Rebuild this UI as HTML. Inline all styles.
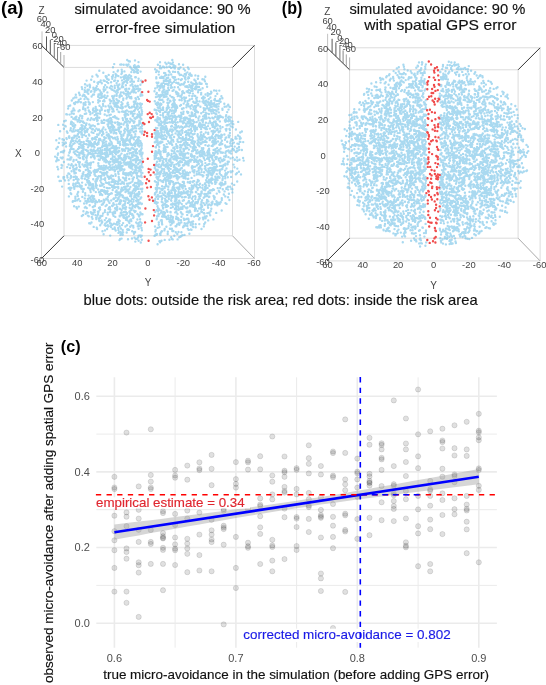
<!DOCTYPE html>
<html><head><meta charset="utf-8"><style>
html,body{margin:0;padding:0;background:#fff;}
svg{display:block;will-change:transform;}
text{font-family:"Liberation Sans",sans-serif;}
</style></head><body>
<svg width="546" height="685" viewBox="0 0 546 685" stroke-linecap="butt">
<rect width="546" height="685" fill="#fff"/>
<g stroke="#dcdcdc" stroke-width="1" fill="none">
<path d="M62.0 45.4H254.5V258.5H41.5V45.4"/>
<path d="M64 67.4H232.5V235.8H64Z"/>
</g>
<path d="M102.4 150.3h0M157.0 234.2h0M96.0 139.5h0M98.2 100.3h0M213.5 161.9h0M76.8 119.6h0M189.4 233.7h0M212.1 183.4h0M100.0 207.4h0M86.7 160.4h0M182.4 127.5h0M128.7 149.3h0M166.9 131.1h0M156.7 219.3h0M141.3 107.6h0M208.1 154.7h0M162.5 94.5h0M156.4 174.5h0M87.5 167.2h0M102.4 215.8h0M172.9 121.8h0M84.2 156.4h0M105.8 191.2h0M127.5 136.3h0M93.6 171.2h0M190.9 87.0h0M183.1 159.6h0M96.3 179.3h0M163.6 117.4h0M93.0 184.1h0M110.2 151.2h0M203.0 120.8h0M119.3 223.5h0M168.2 215.7h0M118.6 111.7h0M204.1 213.3h0M171.1 204.5h0M104.6 225.1h0M230.2 143.2h0M85.6 102.3h0M102.1 146.9h0M139.5 115.9h0M74.9 97.4h0M180.0 105.7h0M178.1 178.3h0M128.2 114.7h0M111.5 119.9h0M164.2 169.3h0M174.9 111.7h0M214.1 197.7h0M87.7 138.5h0M190.1 182.9h0M158.5 159.0h0M140.2 131.5h0M133.2 164.5h0M103.1 213.4h0M130.2 172.5h0M55.1 156.6h0M177.5 139.5h0M193.3 101.8h0M113.2 187.6h0M124.6 189.2h0M101.5 97.8h0M190.5 122.5h0M179.6 189.1h0M206.9 138.5h0M131.6 79.0h0M173.4 171.2h0M93.1 110.5h0M105.8 167.4h0M184.1 206.2h0M239.5 159.8h0M217.0 202.1h0M126.8 110.4h0M162.9 115.5h0M138.1 141.7h0M129.9 204.7h0M212.9 134.0h0M172.0 157.1h0M131.0 219.5h0M177.5 175.7h0M173.8 176.5h0M209.3 171.1h0M104.2 190.5h0M157.5 85.4h0M130.4 186.9h0M194.3 88.6h0M189.8 210.7h0M170.0 100.6h0M225.3 174.3h0M136.1 200.6h0M89.9 175.0h0M192.6 171.3h0M190.3 124.9h0M99.6 192.4h0M112.0 76.8h0M185.9 74.7h0M97.9 211.7h0M164.4 96.8h0M116.7 168.9h0M217.3 117.1h0M164.4 230.4h0M180.5 67.5h0M175.3 197.4h0M215.0 182.0h0M166.4 122.8h0M160.6 155.4h0M121.1 134.7h0M221.6 136.9h0M189.8 197.2h0M208.8 145.4h0M138.3 80.9h0M193.5 115.9h0M111.7 137.0h0M160.0 119.1h0M73.7 180.0h0M187.5 157.9h0M124.4 155.2h0M119.6 165.4h0M209.2 179.8h0M110.6 123.3h0M196.5 151.4h0M203.3 189.6h0M122.7 234.8h0M130.5 144.5h0M155.2 88.4h0M184.8 163.1h0M88.9 134.4h0M174.3 156.2h0M123.9 216.9h0M107.8 225.2h0M182.6 159.6h0M206.0 193.9h0M196.2 202.3h0M216.1 143.3h0M162.8 160.9h0M131.6 175.8h0M111.3 152.4h0M161.7 126.3h0M126.9 144.5h0M124.8 198.3h0M117.9 142.9h0M102.9 153.8h0M185.6 138.6h0M243.7 160.6h0M73.4 161.2h0M181.9 79.1h0M106.9 147.4h0M217.4 205.3h0M70.3 130.4h0M109.8 152.7h0M224.5 159.7h0M198.6 120.4h0M156.8 139.9h0M214.4 99.9h0M188.5 134.5h0M91.0 162.7h0M236.9 157.4h0M82.1 134.9h0M186.4 107.2h0M123.9 145.6h0M186.1 157.8h0M115.9 187.1h0M156.5 189.6h0M184.4 99.5h0M162.0 223.8h0M168.4 154.7h0M116.6 83.1h0M183.4 108.4h0M207.0 177.9h0M169.4 221.2h0M183.3 174.0h0M161.4 158.0h0M225.1 176.3h0M94.7 138.8h0M101.5 107.9h0M125.0 180.4h0M157.6 216.2h0M126.5 139.8h0M168.4 107.7h0M126.1 162.9h0M141.4 204.0h0M134.3 233.1h0M169.3 66.8h0M207.9 102.0h0M122.0 86.7h0M125.5 112.3h0M137.8 188.9h0M126.8 214.3h0M190.4 75.5h0M141.7 145.8h0M201.2 193.4h0M137.8 159.1h0M181.0 207.5h0M174.6 195.8h0M180.1 121.4h0M87.2 167.3h0M192.0 189.1h0M178.4 158.1h0M202.4 79.2h0M127.5 162.5h0M106.8 135.2h0M155.7 141.5h0M133.4 88.4h0M127.9 94.6h0M122.4 85.3h0M214.9 204.2h0M193.2 120.2h0M102.4 122.7h0M101.9 93.8h0M156.3 94.2h0M220.1 165.9h0M128.4 93.7h0M196.1 129.0h0M166.5 81.1h0M121.8 215.2h0M189.0 122.4h0M142.1 111.6h0M166.8 173.0h0M174.6 103.2h0M188.8 211.5h0M92.2 201.0h0M175.5 183.6h0M200.4 136.3h0M160.5 142.5h0M94.6 212.2h0M183.1 64.8h0M138.0 237.5h0M90.0 153.0h0M177.0 131.2h0M227.3 146.9h0M166.0 116.7h0M166.1 217.5h0M163.5 78.2h0M124.0 160.8h0M164.9 148.4h0M215.3 141.0h0M163.2 173.6h0M103.8 96.5h0M113.9 198.4h0M61.5 167.9h0M165.6 79.8h0M178.4 93.6h0M135.0 146.3h0M180.5 236.7h0M188.7 121.6h0M133.9 189.3h0M158.7 151.4h0M183.5 165.5h0M139.6 145.8h0M182.6 155.8h0M207.4 171.5h0M141.0 225.3h0M138.4 188.9h0M186.5 175.0h0M137.1 178.0h0M118.2 168.1h0M187.4 91.3h0M109.7 136.2h0M171.5 175.7h0M129.0 96.4h0M124.4 161.4h0M165.1 111.9h0M70.2 149.7h0M97.7 76.1h0M94.0 94.5h0M158.8 104.2h0M159.7 142.2h0M175.8 200.6h0M108.3 121.8h0M138.1 206.7h0M95.6 110.8h0M101.7 93.5h0M140.4 221.9h0M171.1 220.1h0M135.0 102.9h0M140.8 123.2h0M189.4 85.0h0M170.5 101.2h0M135.4 160.6h0M121.6 238.6h0M173.3 182.5h0M116.1 132.9h0M97.2 115.6h0M157.1 138.4h0M164.5 146.5h0M121.6 138.6h0M93.4 87.6h0M63.1 124.8h0M176.5 93.8h0M163.4 215.1h0M123.7 162.4h0M223.6 165.0h0M88.1 118.6h0M212.9 104.4h0M174.6 65.9h0M178.5 163.6h0M169.8 184.3h0M120.8 131.7h0M161.9 221.9h0M100.0 194.8h0M162.5 188.9h0M205.4 163.1h0M56.2 161.2h0M195.3 88.0h0M137.2 186.7h0M121.8 87.2h0M65.0 180.4h0M112.5 161.5h0M141.1 161.1h0M171.2 237.2h0M204.0 110.1h0M126.2 180.4h0M171.6 139.8h0M191.5 75.1h0M138.3 91.1h0M239.8 141.7h0M167.8 90.8h0M142.5 152.6h0M156.9 137.4h0M195.1 147.0h0M125.2 117.5h0M56.4 148.8h0M195.0 114.0h0M113.4 199.0h0M156.4 158.0h0M175.0 193.5h0M166.7 144.1h0M128.9 158.1h0M99.7 94.5h0M119.4 125.0h0M179.8 134.0h0M216.6 111.2h0M129.5 188.7h0M170.3 129.4h0M109.7 138.7h0M197.5 84.0h0M157.1 177.2h0M205.1 189.4h0M98.5 150.6h0M161.5 83.7h0M66.1 146.5h0M178.1 182.8h0M124.6 122.6h0M132.2 126.3h0M171.4 164.0h0M135.8 205.2h0M217.7 188.1h0M226.5 203.9h0M62.7 142.6h0M214.2 103.1h0M78.5 111.2h0M240.7 138.2h0M168.7 75.0h0M182.3 235.2h0M157.7 134.2h0M137.2 69.4h0M178.5 73.2h0M170.3 165.1h0M128.5 64.4h0M106.5 174.0h0M239.0 147.0h0M105.0 89.6h0M140.6 167.3h0M180.9 134.9h0M167.6 146.9h0M157.0 114.0h0M138.7 194.6h0M156.3 202.2h0M161.6 77.9h0M169.2 177.2h0M230.7 141.3h0M154.8 168.0h0M185.4 163.1h0M79.4 165.9h0M175.2 212.4h0M215.7 123.8h0M219.3 117.5h0M113.3 203.5h0M200.3 143.1h0M222.8 189.2h0M163.4 90.3h0M176.4 169.1h0M136.4 161.3h0M171.3 177.4h0M105.5 169.2h0M82.9 191.7h0M140.4 198.5h0M170.2 122.4h0M112.4 158.3h0M173.5 222.4h0M212.3 117.7h0M216.8 174.1h0M94.9 206.0h0M113.0 98.2h0M156.8 93.0h0M104.1 122.7h0M140.0 114.2h0M226.6 174.5h0M103.1 159.3h0M154.8 157.5h0M88.0 147.3h0M129.4 223.1h0M132.1 130.3h0M162.4 92.7h0M65.8 120.6h0M164.8 216.7h0M161.8 128.0h0M74.0 186.5h0M225.5 175.0h0M233.9 142.6h0M223.2 184.6h0M166.2 201.7h0M190.3 194.6h0M173.0 182.0h0M194.9 88.9h0M175.2 203.6h0M207.9 145.9h0M212.7 163.0h0M119.7 216.4h0M58.1 153.5h0M172.0 87.4h0M169.2 191.8h0M196.8 87.3h0M213.1 152.9h0M196.5 110.7h0M188.7 221.2h0M108.3 124.5h0M158.5 180.5h0M195.2 96.0h0M209.7 140.1h0M135.2 190.7h0M136.9 107.1h0M171.3 229.0h0M201.2 113.2h0M80.1 132.3h0M138.4 168.1h0M228.8 161.8h0M106.9 192.8h0M229.3 106.6h0M73.8 131.4h0M192.3 115.8h0M226.5 188.0h0M165.3 200.7h0M138.9 186.4h0M134.5 195.8h0M201.6 169.3h0M120.1 133.2h0M170.6 212.4h0M162.5 193.4h0M132.3 84.4h0M225.3 182.0h0M176.3 171.1h0M128.7 130.8h0M174.6 107.5h0M129.6 153.6h0M181.2 118.3h0M176.0 203.8h0M189.1 74.5h0M182.0 108.6h0M80.6 98.8h0M97.6 215.5h0M78.0 183.1h0M110.0 154.1h0M95.5 137.2h0M180.9 212.3h0M213.5 118.4h0M161.9 84.9h0M206.1 188.6h0M185.0 126.7h0M118.4 119.0h0M119.2 167.9h0M214.9 98.9h0M197.6 202.8h0M215.5 136.7h0M94.7 115.1h0M101.6 179.2h0M79.1 119.7h0M163.4 150.7h0M109.0 207.8h0M82.1 129.9h0M74.5 173.4h0M121.3 138.8h0M138.3 88.5h0M196.0 208.7h0M93.7 206.4h0M126.2 139.1h0M178.5 204.2h0M67.5 177.6h0M95.3 203.7h0M103.3 72.8h0M197.9 187.9h0M202.6 185.3h0M155.0 193.2h0M133.0 173.3h0M129.2 135.0h0M71.2 142.1h0M216.3 182.3h0M167.4 211.8h0M81.8 176.2h0M192.0 151.3h0M95.4 88.6h0M84.8 178.7h0M127.7 105.4h0M125.3 201.8h0M171.5 110.9h0M217.2 148.0h0M103.3 203.2h0M134.5 126.0h0M162.2 190.0h0M126.9 186.4h0M72.0 122.3h0M208.2 220.4h0M78.0 192.4h0M90.6 201.2h0M95.0 130.9h0M92.6 185.7h0M197.1 165.2h0M161.9 138.6h0M163.5 162.5h0M195.2 126.2h0M161.0 130.7h0M180.2 144.9h0M83.5 94.7h0M107.5 96.0h0M97.0 136.9h0M92.6 188.7h0M198.4 118.2h0M73.8 152.2h0M135.1 232.0h0M136.9 238.7h0M178.3 94.4h0M101.7 152.0h0M118.3 188.3h0M211.3 208.7h0M156.9 134.1h0M157.5 206.3h0M121.6 214.3h0M112.2 89.5h0M105.2 223.6h0M127.3 114.4h0M101.1 154.6h0M190.4 191.7h0M79.2 137.2h0M139.2 112.0h0M215.7 151.1h0M203.7 103.1h0M96.2 217.8h0M225.9 119.1h0M77.0 208.5h0M92.8 207.0h0M204.9 190.1h0M136.0 68.7h0M101.7 130.8h0M116.0 154.3h0M194.4 122.2h0M116.5 99.3h0M181.2 184.9h0M188.3 173.1h0M164.4 67.5h0M188.5 162.2h0M195.7 227.3h0M135.4 68.5h0M215.3 157.3h0M188.5 92.5h0M99.3 156.3h0M160.2 87.9h0M117.2 194.9h0M221.3 134.7h0M112.2 129.5h0M190.0 136.8h0M110.2 219.7h0M160.2 191.6h0M129.0 216.2h0M104.9 150.0h0M120.9 77.4h0M181.5 79.4h0M127.7 136.3h0M127.4 127.3h0M164.8 96.8h0M111.1 82.2h0M136.5 183.1h0M136.8 125.4h0M172.6 110.5h0M183.8 225.7h0M210.2 215.2h0M188.8 212.5h0M126.1 207.3h0M168.9 107.4h0M82.3 196.9h0M181.6 186.8h0M180.0 185.6h0M201.1 154.7h0M139.8 121.7h0M162.2 136.1h0M211.6 145.9h0M101.5 176.0h0M140.0 154.3h0M166.7 119.3h0M196.2 112.1h0M138.5 125.5h0M112.6 179.9h0M196.3 159.6h0M183.7 139.1h0M77.6 182.0h0M137.7 86.0h0M173.5 184.0h0M96.8 86.2h0M183.4 227.0h0M116.8 207.7h0M128.8 183.5h0M183.8 181.9h0M121.3 136.6h0M179.8 84.7h0M171.6 181.2h0M178.5 232.0h0M225.2 178.2h0M200.2 89.8h0M91.0 125.8h0M125.6 209.2h0M72.9 201.1h0M109.8 145.4h0M176.2 82.7h0M196.3 192.2h0M194.3 141.6h0M221.6 169.3h0M176.6 126.8h0M127.0 114.0h0M179.6 127.5h0M167.5 114.3h0M187.3 223.2h0M214.4 142.7h0M80.5 128.3h0M158.1 208.1h0M121.2 189.5h0M212.9 137.7h0M134.2 104.5h0M162.6 91.5h0M132.2 145.0h0M109.8 144.3h0M211.8 204.4h0M217.8 125.4h0M200.4 89.7h0M134.7 65.3h0M195.1 207.8h0M191.7 126.6h0M129.8 139.5h0M79.0 147.0h0M186.1 137.4h0M169.2 112.3h0M177.4 146.3h0M86.1 136.1h0M105.2 173.3h0M102.0 156.9h0M222.9 117.4h0M83.2 150.1h0M130.9 111.8h0M124.6 212.0h0M126.0 140.7h0M95.5 202.1h0M205.0 183.5h0M73.5 129.2h0M167.6 194.3h0M226.5 129.0h0M160.5 173.4h0M164.9 178.3h0M129.0 134.9h0M215.8 142.0h0M136.9 140.0h0M169.8 143.1h0M218.1 119.5h0M202.6 88.2h0M158.5 132.6h0M220.6 148.6h0M113.6 111.2h0M133.8 101.8h0M210.0 137.7h0M71.1 122.8h0M134.2 184.5h0M157.5 227.9h0M201.4 209.4h0M212.6 173.4h0M177.4 218.8h0M137.6 117.3h0M101.0 193.8h0M191.5 229.8h0M165.7 94.4h0M90.7 144.0h0M170.9 220.4h0M122.5 103.8h0M142.2 82.5h0M100.2 113.7h0M127.4 77.2h0M140.4 181.3h0M94.2 119.7h0M167.8 231.7h0M230.8 145.6h0M76.4 116.8h0M91.2 79.7h0M133.9 81.8h0M70.7 130.1h0M128.9 173.6h0M168.6 195.1h0M91.8 146.1h0M114.3 162.0h0M154.5 155.7h0M195.0 131.0h0M103.2 133.6h0M228.1 172.1h0M131.9 198.9h0M89.6 84.6h0M134.0 232.3h0M156.2 192.3h0M188.7 229.9h0M125.7 106.4h0M134.5 101.4h0M181.7 130.2h0M131.7 152.9h0M205.5 94.5h0M133.3 185.3h0M187.3 147.7h0M137.9 72.9h0M185.3 139.1h0M169.6 159.6h0M79.0 183.4h0M211.2 170.5h0M101.8 204.7h0M173.6 221.4h0M209.5 163.9h0M200.2 83.9h0M123.8 160.2h0M166.1 83.9h0M166.6 205.0h0M96.2 171.9h0M136.4 201.3h0M158.5 153.1h0M175.3 167.5h0M117.4 224.7h0M95.4 181.2h0M100.2 225.3h0M132.9 128.4h0M236.7 151.2h0M108.6 122.8h0M188.1 195.0h0M105.0 210.2h0M107.1 229.0h0M203.1 149.3h0M92.2 153.8h0M113.9 100.7h0M134.5 159.5h0M231.2 153.6h0M157.7 96.6h0M195.9 192.0h0M168.8 198.9h0M73.8 176.9h0M109.8 207.1h0M205.5 103.3h0M195.0 149.8h0M60.1 131.2h0M142.3 95.3h0M98.0 83.7h0M182.9 172.1h0M139.8 184.1h0M113.5 99.7h0M206.2 185.5h0M114.5 95.8h0M130.0 153.1h0M126.9 217.3h0M87.8 150.7h0M110.6 152.8h0M181.0 220.3h0M169.3 118.6h0M126.8 65.0h0M88.2 187.7h0M119.5 240.1h0M239.3 149.7h0M79.0 137.0h0M160.7 128.1h0M182.0 208.5h0M100.1 148.2h0M170.0 178.3h0M141.2 145.0h0M131.1 76.3h0M97.6 76.6h0M205.7 114.6h0M80.2 115.8h0M91.2 144.5h0M101.8 83.2h0M166.1 139.0h0M62.2 158.4h0M135.2 150.6h0M109.5 202.9h0M215.3 183.9h0M96.8 180.7h0M174.5 190.8h0M135.0 103.2h0M168.3 218.2h0M71.6 116.9h0M136.3 170.3h0M119.4 112.1h0M131.5 137.7h0M185.5 119.2h0M222.6 127.1h0M124.8 115.5h0M141.5 165.2h0M179.6 153.7h0M225.1 170.6h0M193.4 187.6h0M161.5 76.8h0M202.5 101.6h0M87.9 198.9h0M97.8 178.1h0M138.6 183.6h0M207.4 177.2h0M157.6 177.3h0M81.8 151.2h0M86.6 203.2h0M177.3 157.6h0M87.5 165.1h0M218.5 158.8h0M225.6 174.0h0M156.2 165.5h0M137.6 199.8h0M203.6 157.4h0M111.7 107.6h0M219.5 192.1h0M164.0 139.1h0M156.8 70.5h0M102.1 185.6h0M118.4 230.0h0M131.3 72.1h0M239.8 138.8h0M162.6 202.4h0M63.9 140.0h0M209.9 118.4h0M172.5 97.2h0M128.0 202.9h0M106.9 87.2h0M171.7 164.6h0M100.2 151.1h0M115.7 191.8h0M96.5 74.8h0M101.7 153.9h0M127.0 138.2h0M139.3 146.6h0M194.6 205.4h0M71.3 121.8h0M176.7 177.9h0M103.6 184.3h0M141.8 133.1h0M87.3 92.4h0M158.2 134.8h0M165.3 62.6h0M109.8 148.9h0M194.9 203.8h0M126.8 189.5h0M209.1 204.5h0M110.0 223.2h0M98.4 156.0h0M228.6 135.5h0M162.7 163.0h0M173.8 98.0h0M87.4 164.0h0M110.5 225.9h0M200.4 156.3h0M218.0 177.6h0M178.7 172.0h0M86.8 162.6h0M183.6 150.9h0M112.2 86.6h0M154.9 194.5h0M198.3 137.8h0M120.9 191.5h0M182.8 181.9h0M74.5 127.2h0M130.2 139.4h0M84.5 99.1h0M90.3 127.8h0M118.4 173.5h0M208.6 173.1h0M134.3 193.2h0M217.6 124.9h0M208.7 152.2h0M180.6 138.2h0M204.0 158.3h0M98.9 159.8h0M159.8 196.5h0M157.7 169.9h0M137.6 176.1h0M139.1 185.1h0M197.8 179.9h0M208.7 182.9h0M207.3 152.2h0M161.7 201.8h0M140.0 128.6h0M192.4 143.6h0M115.0 229.3h0M166.0 186.0h0M125.2 76.9h0M134.8 136.8h0M96.3 90.1h0M172.2 145.0h0M130.2 220.5h0M90.2 185.2h0M233.3 124.3h0M156.6 210.2h0M99.0 129.5h0M203.3 96.8h0M164.3 171.6h0M172.8 207.0h0M169.0 90.0h0M190.4 222.5h0M156.6 133.1h0M84.2 143.9h0M208.8 197.1h0M121.8 189.0h0M214.4 199.1h0M176.5 212.3h0M103.7 157.7h0M174.0 101.4h0M206.5 181.8h0M170.5 172.6h0M220.8 185.1h0M173.4 159.0h0M228.5 121.2h0M91.2 213.0h0M171.0 87.8h0M188.3 132.7h0M204.9 186.8h0M118.4 76.1h0M114.1 169.8h0M176.9 168.6h0M109.7 152.1h0M179.2 187.2h0M72.0 139.2h0M180.8 209.1h0M159.7 123.9h0M116.2 139.4h0M141.1 80.6h0M69.2 137.7h0M85.8 165.5h0M177.5 214.0h0M56.3 140.2h0M154.9 181.3h0M85.8 97.0h0M160.0 233.8h0M196.7 100.3h0M184.5 170.4h0M137.6 195.5h0M198.3 163.1h0M124.4 78.4h0M136.6 143.0h0M69.3 152.7h0M182.2 138.8h0M118.7 192.4h0M195.9 107.5h0M212.6 126.9h0M199.5 101.4h0M173.8 100.3h0M193.4 83.9h0M114.5 130.6h0M109.4 109.5h0M167.6 168.6h0M118.4 156.0h0M96.2 113.9h0M226.6 106.5h0M172.8 220.7h0M110.5 151.4h0M75.2 125.3h0M181.6 194.3h0M190.6 161.5h0M164.7 188.1h0M205.6 129.0h0M88.9 172.7h0M166.9 147.1h0M102.2 222.0h0M97.7 120.3h0M120.2 201.5h0M158.0 198.9h0M163.8 152.0h0M185.6 161.1h0M207.7 95.7h0M168.8 167.7h0M106.7 222.2h0M120.1 144.9h0M133.7 190.0h0M129.7 107.7h0M132.3 215.3h0M186.3 125.1h0M183.5 156.8h0M124.1 183.8h0M142.0 191.5h0M136.0 189.8h0M69.6 114.6h0M85.0 164.9h0M167.7 166.8h0M162.4 128.3h0M156.4 113.0h0M71.8 148.8h0M129.4 211.6h0M128.8 93.2h0M121.5 167.8h0M195.0 127.6h0M108.6 201.2h0M96.8 185.4h0M62.3 151.8h0M90.1 175.3h0M117.3 85.3h0M185.1 176.0h0M228.9 193.7h0M172.4 134.5h0M197.0 97.6h0M187.2 211.4h0M138.9 66.8h0M205.2 188.0h0M158.4 215.9h0M155.2 153.1h0M188.0 191.1h0M117.4 193.1h0M100.3 180.6h0M197.4 203.2h0M122.6 83.3h0M99.3 70.8h0M165.5 146.9h0M166.7 78.0h0M217.5 151.9h0M197.5 181.9h0M195.0 110.5h0M110.3 153.0h0M176.1 127.1h0M102.0 135.0h0M137.2 193.8h0M194.5 141.5h0M217.8 150.9h0M172.5 195.7h0M188.9 139.1h0M104.0 87.1h0M142.4 172.9h0M170.2 110.0h0M163.2 110.0h0M120.5 192.4h0M168.3 178.8h0M90.5 165.0h0M155.1 194.3h0M218.1 116.1h0M173.3 231.0h0M114.7 227.4h0M132.2 231.2h0M225.7 137.8h0M208.0 174.7h0M234.1 150.2h0M82.2 189.0h0M83.7 148.9h0M199.2 125.0h0M115.3 159.9h0M136.6 156.1h0M168.0 105.2h0M126.0 75.1h0M193.3 186.3h0M178.3 142.0h0M154.8 142.2h0M135.2 149.7h0M128.4 175.2h0M191.6 177.9h0M199.8 159.9h0M119.2 194.2h0M73.4 169.3h0M179.8 75.1h0M115.5 91.8h0M94.5 174.6h0M62.1 186.6h0M174.0 166.8h0M194.3 161.9h0M160.3 103.4h0M168.2 88.0h0M165.5 174.9h0M105.2 178.1h0M162.0 199.3h0M197.9 216.0h0M64.2 150.8h0M193.1 147.2h0M113.0 176.0h0M199.6 82.6h0M117.1 222.3h0M123.3 172.1h0M198.1 145.1h0M212.3 103.5h0M125.4 226.5h0M113.4 203.2h0M207.0 106.3h0M114.3 213.1h0M183.8 143.9h0M125.6 116.0h0M224.9 120.4h0M182.7 188.4h0M84.8 113.9h0M104.4 161.4h0M226.2 130.5h0M115.4 148.7h0M189.2 106.5h0M208.7 99.3h0M139.0 191.9h0M90.1 183.1h0M181.4 152.2h0M204.8 168.6h0M164.4 214.8h0M68.9 196.4h0M215.0 166.9h0M209.6 190.4h0M91.6 150.9h0M124.6 144.7h0M100.7 80.4h0M97.9 113.4h0M222.4 108.8h0M82.9 158.6h0M63.6 140.1h0M81.3 188.5h0M157.1 189.6h0M199.7 126.1h0M171.2 135.4h0M162.4 91.8h0M193.5 167.0h0M225.6 157.0h0M155.5 234.7h0M129.9 121.9h0M83.4 150.3h0M135.3 134.1h0M131.1 201.1h0M188.9 89.9h0M164.1 127.2h0M94.3 172.5h0M159.9 167.1h0M108.4 162.5h0M85.5 91.3h0M185.2 145.5h0M184.2 93.0h0M214.7 197.2h0M225.0 139.7h0M169.1 183.3h0M173.0 189.3h0M111.7 144.4h0M164.1 96.4h0M166.0 165.1h0M111.3 131.8h0M157.3 102.8h0M168.7 81.6h0M220.6 101.8h0M161.2 109.9h0M78.6 157.3h0M222.9 176.6h0M93.6 153.9h0M130.8 192.4h0M217.3 170.4h0M94.4 89.5h0M213.8 170.5h0M205.8 132.5h0M91.0 172.7h0M130.7 159.7h0M203.9 213.3h0M80.2 201.1h0M203.4 175.6h0M127.2 60.0h0M213.2 171.5h0M161.1 232.5h0M215.9 126.1h0M132.4 181.5h0M208.1 175.8h0M219.6 170.0h0M182.7 127.4h0M90.1 141.5h0M91.3 118.2h0M211.7 113.4h0M115.2 129.7h0M181.5 84.3h0M100.7 191.1h0M171.5 198.1h0M185.8 139.0h0M212.0 138.1h0M94.5 91.8h0M203.6 98.3h0M186.2 123.9h0M206.8 105.2h0M199.1 219.4h0M121.2 212.4h0M140.1 202.8h0M92.4 144.2h0M136.2 128.4h0M200.1 123.4h0M190.8 229.5h0M93.8 188.3h0M158.3 210.0h0M159.7 86.0h0M97.2 115.8h0M195.6 81.0h0M129.1 192.5h0M123.7 64.8h0M192.0 142.8h0M157.5 133.1h0M203.1 116.4h0M64.1 177.1h0M94.9 137.7h0M130.9 113.5h0M135.0 207.0h0M123.6 139.4h0M179.0 209.6h0M188.7 69.0h0M104.7 153.0h0M75.9 183.5h0M156.1 170.3h0M192.1 88.8h0M201.1 126.4h0M122.8 159.8h0M195.7 86.8h0M127.9 128.3h0M169.0 81.9h0M110.3 165.4h0M117.4 224.6h0M164.1 72.9h0M167.7 106.2h0M122.3 181.9h0M112.6 169.5h0M202.4 188.0h0M169.6 182.2h0M117.1 75.6h0M89.3 185.3h0M166.5 64.2h0M113.4 148.0h0M187.8 113.0h0M106.6 151.4h0M100.4 215.9h0M112.6 164.6h0M103.6 169.9h0M200.0 127.1h0M163.6 158.9h0M114.3 211.6h0M121.4 158.8h0M198.9 167.6h0M141.4 119.3h0M113.9 90.6h0M133.5 148.7h0M208.9 109.2h0M225.0 139.6h0M174.2 164.9h0M118.7 143.0h0M127.7 131.2h0M88.1 173.7h0M229.9 133.0h0M119.7 156.6h0M75.7 173.0h0M68.6 164.5h0M141.7 148.2h0M175.4 108.2h0M123.0 150.3h0M160.4 160.0h0M89.0 164.0h0M220.1 99.0h0M99.9 192.4h0M227.2 173.1h0M214.5 163.7h0M180.6 192.8h0M154.6 159.1h0M129.5 130.8h0M90.9 163.4h0M126.3 64.7h0M99.0 192.3h0M195.3 108.9h0M67.5 159.4h0M77.3 179.5h0M176.2 127.8h0M174.8 158.8h0M174.3 147.4h0M138.6 240.8h0M90.4 223.5h0M137.3 70.9h0M83.1 215.0h0M137.0 204.6h0M198.1 104.2h0M217.7 130.0h0M187.1 172.5h0M94.7 174.6h0M172.5 157.0h0M196.2 98.4h0M230.8 126.4h0M74.1 206.2h0M130.1 162.0h0M175.0 175.7h0M140.2 89.2h0M139.6 107.8h0M160.9 172.5h0M201.7 191.8h0M191.8 131.0h0M87.6 89.8h0M229.0 116.6h0M204.9 81.2h0M120.2 194.8h0M84.2 135.0h0M86.0 125.0h0M121.2 123.8h0M85.3 165.7h0M87.1 156.5h0M100.3 176.2h0M182.4 185.1h0M181.3 116.2h0M222.4 98.3h0M133.0 160.2h0M155.4 231.6h0M197.4 143.5h0M127.4 124.3h0M201.8 205.4h0M141.4 92.5h0M125.2 197.9h0M172.6 116.2h0M201.3 162.1h0M219.3 116.6h0M243.1 158.0h0M104.0 119.9h0M133.9 177.4h0M188.2 112.1h0M122.3 140.0h0M70.0 168.1h0M73.2 185.1h0M154.9 200.8h0M94.8 126.3h0M142.4 125.0h0M132.1 106.7h0M180.9 80.0h0M194.5 146.2h0M160.7 154.1h0M107.7 199.4h0M123.8 208.2h0M88.8 110.4h0M126.2 95.1h0M121.8 187.7h0M138.4 179.9h0M92.8 129.0h0M160.0 77.8h0M192.4 204.4h0M198.3 105.2h0M167.3 130.3h0M183.5 120.8h0M183.9 200.2h0M207.5 201.2h0M201.4 191.6h0M166.0 184.2h0M217.2 119.1h0M172.2 83.2h0M215.7 204.3h0M124.8 160.1h0M160.3 123.7h0M199.6 218.3h0M166.9 129.7h0M119.9 141.7h0M131.6 225.4h0M100.2 156.0h0M243.2 142.1h0M114.5 104.7h0M66.7 139.0h0M76.3 150.6h0M218.5 106.4h0M107.7 188.3h0M157.8 144.8h0M159.6 95.7h0M123.4 217.3h0M166.6 96.6h0M215.5 96.1h0M141.1 213.8h0M140.7 94.4h0M70.9 123.9h0M116.2 146.3h0M141.7 223.1h0M197.7 134.2h0M176.2 117.0h0M189.5 161.2h0M140.8 189.0h0M176.5 199.7h0M206.1 180.1h0M207.0 129.1h0M126.0 173.3h0M165.9 180.3h0M173.8 185.2h0M165.9 179.3h0M166.8 67.3h0M169.9 228.7h0M232.4 192.4h0M180.2 202.6h0M124.7 141.2h0M157.4 138.6h0M130.5 67.4h0M134.4 67.6h0M192.8 188.5h0M224.3 103.7h0M179.7 223.5h0M182.9 92.6h0M191.3 142.8h0M103.0 169.4h0M124.7 205.1h0M102.2 195.0h0M116.9 210.3h0M106.6 132.4h0M122.7 196.9h0M94.2 81.7h0M91.8 184.4h0M128.1 199.0h0M156.9 162.1h0M209.4 153.2h0M121.1 170.1h0M116.6 190.4h0M120.3 107.8h0M237.4 143.6h0M136.7 117.4h0M177.0 106.7h0M122.6 165.9h0M160.6 95.0h0M131.2 96.9h0M125.2 89.3h0M90.0 111.9h0M173.4 141.5h0M94.9 142.0h0M165.0 84.0h0M178.5 196.7h0M107.7 110.1h0M113.6 98.0h0M161.3 68.3h0M205.4 167.9h0M205.2 222.5h0M136.1 194.8h0M161.1 135.9h0M214.5 139.1h0M185.7 189.0h0M103.6 174.0h0M192.9 156.5h0M178.8 68.6h0M210.7 211.3h0M109.7 87.7h0M140.0 176.4h0M200.6 151.8h0M87.4 85.8h0M108.1 156.3h0M196.8 174.6h0M107.9 221.1h0M105.6 206.1h0M131.5 148.3h0M209.9 138.7h0M122.1 183.1h0M156.2 119.7h0M129.4 165.4h0M80.1 166.9h0M68.6 180.2h0M127.1 197.7h0M225.4 119.6h0M58.1 169.2h0M160.3 96.5h0M137.8 182.5h0M83.6 146.7h0M141.2 197.4h0M117.7 92.2h0M73.4 183.8h0M201.8 126.2h0M116.9 103.3h0M123.5 212.2h0M75.7 102.2h0M140.5 214.6h0M179.7 184.1h0M73.8 113.8h0M238.2 121.9h0M176.1 156.9h0M70.6 142.9h0M109.8 118.4h0M137.0 140.5h0M126.9 164.5h0M117.1 109.4h0M90.5 143.0h0M196.8 182.5h0M158.8 74.6h0M189.9 133.6h0M98.5 94.5h0M209.1 212.6h0M206.9 165.1h0M215.6 113.7h0M208.0 126.1h0M104.7 80.9h0M211.9 124.8h0M131.2 172.3h0M111.4 175.5h0M170.8 141.8h0M201.1 94.4h0M208.4 123.4h0M217.5 128.6h0M140.3 114.7h0M238.0 135.5h0M156.0 132.1h0M125.3 207.4h0M191.2 204.8h0M176.8 160.6h0M172.7 239.4h0M84.6 131.2h0M110.7 169.5h0M228.2 104.8h0M88.8 89.8h0M196.1 88.5h0M130.7 157.8h0M86.5 123.4h0M156.5 138.1h0M192.0 167.6h0M162.8 163.7h0M225.5 121.8h0M241.9 150.0h0M105.0 161.0h0M85.8 184.7h0M190.0 159.9h0M160.5 115.1h0M216.8 151.6h0M115.7 165.4h0M202.1 200.3h0M129.6 122.6h0M106.9 160.9h0M185.0 117.6h0M158.3 132.8h0M133.4 70.1h0M138.8 114.8h0M75.2 117.7h0M100.2 168.6h0M172.1 113.4h0M214.2 121.7h0M173.9 81.9h0M178.6 191.6h0M179.5 100.0h0M218.9 160.4h0M118.9 179.8h0M130.4 132.6h0M128.1 144.7h0M219.8 171.7h0M168.9 170.8h0M171.9 197.2h0M171.5 143.4h0M170.1 79.6h0M135.2 77.3h0M115.7 230.5h0M132.7 116.1h0M90.8 196.6h0M179.0 64.3h0M135.8 92.6h0M102.9 168.4h0M81.4 153.4h0M122.5 150.8h0M195.7 224.3h0M174.2 116.8h0M75.9 178.9h0M109.0 128.3h0M157.7 202.6h0M180.3 162.3h0M194.6 133.7h0M81.5 142.2h0M193.1 125.3h0M125.1 114.3h0M124.7 75.6h0M106.9 171.9h0M133.0 114.2h0M202.0 98.1h0M201.5 201.8h0M135.7 136.6h0M123.6 197.5h0M171.5 190.7h0M140.5 160.6h0M185.5 146.4h0M192.2 96.1h0M86.5 201.1h0M183.0 140.3h0M131.3 135.7h0M86.6 158.1h0M183.3 164.9h0M189.5 130.0h0M170.6 161.8h0M72.5 110.7h0M213.4 219.4h0M99.3 117.8h0M208.2 181.9h0M131.1 165.1h0M127.1 183.7h0M104.9 97.6h0M188.4 175.1h0M181.4 232.2h0M160.1 65.9h0M174.8 149.1h0M78.1 130.1h0M215.9 179.6h0M96.0 88.0h0M90.7 192.1h0M175.5 133.4h0M214.6 127.3h0M133.3 164.8h0M137.4 117.6h0M166.0 127.7h0M168.0 85.1h0M164.4 95.1h0M213.0 111.3h0M184.1 97.4h0M191.1 154.3h0M210.4 156.5h0M99.5 152.6h0M160.7 172.0h0M191.9 87.2h0M190.7 116.2h0M127.2 138.1h0M172.8 173.0h0M133.2 116.1h0M98.6 168.9h0M97.1 134.5h0M77.9 134.3h0M200.7 151.0h0M212.1 175.5h0M137.5 114.4h0M160.7 143.1h0M191.9 198.6h0M191.2 82.5h0M156.7 191.8h0M119.7 226.3h0M187.1 139.4h0M114.3 151.9h0M168.1 166.3h0M58.3 176.7h0M181.7 100.3h0M79.0 92.6h0M167.4 154.3h0M198.7 170.3h0M215.2 136.4h0M157.4 142.6h0M99.4 221.1h0M101.8 172.8h0M180.3 155.3h0M156.5 177.3h0M159.3 125.2h0M103.8 199.8h0M226.2 155.4h0M127.3 220.2h0M117.4 129.6h0M193.7 143.9h0M194.4 175.6h0M241.9 131.5h0M87.5 162.9h0M109.2 184.2h0M86.6 140.7h0M58.7 160.1h0M204.9 183.9h0M182.9 170.8h0M183.4 148.9h0M123.5 134.3h0M199.0 86.9h0M188.1 78.6h0M123.0 177.6h0M133.8 122.7h0M176.4 146.2h0M162.1 186.3h0M134.1 67.2h0M160.6 99.9h0M100.5 154.3h0M214.8 153.2h0M78.1 162.0h0M74.7 143.1h0M114.8 85.7h0M206.7 216.3h0M173.2 67.2h0M228.5 109.6h0M192.3 83.5h0M194.4 79.7h0M204.4 213.6h0M110.5 127.0h0M68.1 108.6h0M172.2 104.8h0M168.3 153.1h0M207.0 158.7h0M75.7 136.0h0M157.6 165.5h0M104.5 101.3h0M172.0 223.4h0M86.9 180.0h0M135.8 205.3h0M127.3 163.0h0M155.1 69.2h0M105.7 159.5h0M160.8 121.1h0M104.2 187.1h0M157.4 120.1h0M122.2 189.7h0M108.2 226.6h0M183.7 191.3h0M177.6 239.4h0M156.8 141.5h0M217.1 166.4h0M202.8 124.7h0M182.7 176.0h0M209.2 154.5h0M70.6 157.5h0M159.0 164.5h0M94.8 169.9h0M185.8 73.7h0M200.4 106.7h0M93.1 156.0h0M162.3 216.3h0M198.4 199.8h0M188.7 87.1h0M136.4 197.8h0M225.1 145.4h0M87.8 129.2h0M79.9 162.2h0M84.7 90.3h0M79.2 118.0h0M187.9 91.9h0M202.9 217.8h0M100.2 185.9h0M229.0 119.3h0M181.8 154.0h0M118.3 197.8h0M192.0 98.7h0M85.4 175.3h0M211.0 181.7h0M96.7 113.6h0M115.8 151.2h0M96.6 217.6h0M119.4 84.5h0M222.7 167.0h0M175.8 232.3h0M169.2 174.5h0M186.1 86.7h0M120.2 64.6h0M176.4 199.1h0M209.0 159.3h0M177.2 107.7h0M237.3 168.6h0M99.6 98.0h0M114.0 223.8h0M87.9 215.6h0M136.9 187.8h0M203.7 142.0h0M163.1 113.3h0M139.2 208.4h0M175.7 119.7h0M186.2 131.1h0M133.9 210.6h0M208.3 164.5h0M123.0 142.2h0M127.9 229.2h0M215.4 180.3h0M188.3 123.5h0M225.2 165.3h0M106.3 198.6h0M103.0 146.0h0M88.6 101.9h0M182.6 214.2h0M94.3 143.7h0M219.0 103.6h0M127.7 134.4h0M158.0 184.4h0M127.8 102.6h0M83.7 141.9h0M215.7 139.3h0M170.6 159.9h0M74.8 169.0h0M62.8 151.8h0M204.9 118.5h0M195.8 160.8h0M174.5 111.9h0M131.4 130.2h0M115.6 152.1h0M175.1 189.9h0M101.6 223.2h0M220.7 202.2h0M116.6 117.6h0M187.9 144.9h0M127.9 229.9h0M211.0 205.3h0M165.4 94.2h0M92.5 113.1h0M107.4 175.8h0M101.0 157.9h0M68.4 173.4h0M166.7 176.8h0M163.1 107.5h0M114.1 160.1h0M162.7 126.3h0M124.3 157.6h0M208.4 168.8h0M156.2 151.5h0M76.9 138.4h0M160.4 180.1h0M138.3 144.8h0M133.2 152.5h0M119.9 204.0h0M129.5 167.3h0M169.6 176.7h0M197.4 157.3h0M117.4 184.0h0M171.7 192.9h0M174.8 121.8h0M122.7 118.2h0M134.8 110.2h0M87.0 175.6h0M202.5 154.1h0M236.9 173.2h0M130.4 81.8h0M174.6 87.3h0M78.7 199.0h0M128.0 131.7h0M136.5 167.5h0M200.6 194.8h0M87.8 107.6h0M190.6 146.6h0M85.0 84.3h0M105.2 144.8h0M71.7 164.2h0M107.9 196.8h0M117.8 141.1h0M184.4 165.0h0M170.4 212.1h0M201.4 143.6h0M185.3 140.6h0M127.7 114.5h0M81.8 87.1h0M217.8 135.4h0M168.1 77.7h0M168.6 80.6h0M203.3 148.2h0M176.6 195.0h0M214.8 127.0h0M174.5 187.8h0M106.7 205.0h0M170.2 182.8h0M101.6 201.1h0M191.8 167.3h0M125.8 214.8h0M196.1 83.0h0M192.4 139.9h0M115.6 175.7h0M139.3 122.1h0M112.4 154.5h0M118.5 232.9h0M103.2 122.9h0M83.0 189.5h0M208.1 193.6h0M168.9 154.4h0M110.2 153.4h0M212.0 136.2h0M118.6 198.7h0M216.2 212.9h0M85.3 84.4h0M93.9 196.1h0M175.8 128.0h0M99.2 138.9h0M112.2 96.3h0M185.4 163.5h0M167.2 133.3h0M157.6 117.8h0M79.7 186.5h0M71.7 113.5h0M178.7 219.1h0M200.5 168.2h0M166.9 131.9h0M115.6 181.1h0M222.2 152.8h0M196.0 215.7h0M135.9 108.4h0M171.0 165.9h0M109.4 107.1h0M191.7 124.0h0M189.8 99.5h0M199.2 184.9h0M231.3 139.3h0M159.3 90.2h0M60.9 152.1h0M188.5 135.4h0M161.4 104.2h0M155.9 147.4h0M194.8 130.7h0M204.1 108.4h0M118.2 186.9h0M206.2 100.8h0M107.6 212.7h0M156.3 77.2h0M190.7 225.0h0M201.4 120.2h0M219.6 204.0h0M113.7 111.3h0M168.0 131.6h0M202.8 122.1h0M173.0 139.9h0M105.9 155.9h0M139.2 137.4h0M178.5 195.6h0M73.5 108.4h0M115.6 73.9h0M232.5 171.3h0M81.8 133.1h0M210.7 122.8h0M215.1 163.9h0M127.0 225.2h0M220.4 157.9h0M156.1 72.1h0M97.6 177.2h0M170.5 158.5h0M164.9 135.3h0M212.2 124.8h0M220.3 151.6h0M213.2 173.6h0M173.1 170.7h0M71.6 111.8h0M159.9 68.3h0M183.7 103.6h0M175.3 66.3h0M128.1 131.1h0M184.5 234.9h0M165.7 93.9h0M164.7 149.6h0M158.2 211.6h0M70.8 128.3h0M155.9 189.0h0M119.0 131.2h0M109.9 128.7h0M193.9 127.6h0M229.4 200.0h0M212.5 201.8h0M118.8 150.7h0M192.9 93.6h0M157.0 144.9h0M189.3 95.6h0M184.3 185.7h0M103.6 89.3h0M124.1 79.0h0M107.3 155.6h0M189.1 126.5h0M130.6 85.4h0M212.8 168.1h0M102.3 184.3h0M88.8 216.2h0M208.7 152.0h0M123.6 111.7h0M79.3 148.0h0M107.8 214.5h0M171.6 154.0h0M214.8 131.8h0M127.1 80.4h0M139.6 193.5h0M142.3 158.6h0M208.4 201.4h0M172.6 172.1h0M121.6 137.5h0M211.6 202.8h0M179.5 89.5h0M104.1 172.7h0M135.2 188.8h0M161.2 125.6h0M206.6 202.2h0M122.9 144.7h0M185.1 138.9h0M161.4 231.7h0M118.0 70.5h0M205.8 108.6h0M121.2 163.1h0M178.6 189.5h0M140.5 95.8h0M184.6 176.7h0M167.4 102.8h0M201.6 83.7h0M193.1 221.4h0M56.8 160.5h0M121.2 213.5h0M109.2 219.4h0M133.3 144.6h0M106.8 187.9h0M75.6 184.1h0M88.3 99.4h0M112.9 214.3h0M139.8 226.0h0M139.2 168.8h0M191.0 204.4h0M138.7 207.8h0M199.6 153.7h0M200.4 174.6h0M176.2 144.1h0M132.4 69.9h0M116.6 204.7h0M107.6 191.2h0M198.7 214.0h0M94.4 142.4h0M134.6 110.8h0M142.0 128.6h0M156.3 164.1h0M174.3 235.7h0M82.7 173.8h0M141.9 163.3h0M63.9 128.7h0M125.6 178.6h0M188.4 77.3h0M142.0 126.0h0M209.6 161.0h0M188.3 160.8h0M156.4 155.2h0M160.7 136.7h0M140.0 160.2h0M116.1 162.0h0M195.5 196.9h0M156.5 153.6h0M220.7 144.6h0M190.1 73.4h0M134.0 65.9h0M90.6 188.7h0M78.2 192.0h0M235.6 137.0h0M130.4 165.9h0M135.2 85.8h0M134.0 110.9h0M62.8 145.2h0M188.5 219.3h0M118.5 183.7h0M121.9 169.6h0M214.3 144.4h0M110.3 100.7h0M170.3 220.4h0M194.6 156.3h0M119.6 127.8h0M197.0 129.2h0M101.9 121.7h0M157.1 121.8h0M170.1 95.6h0M181.7 213.5h0M141.0 104.1h0M82.5 164.5h0M192.2 112.9h0M160.8 105.1h0M195.5 102.5h0M71.1 141.3h0M137.2 188.7h0M80.2 186.8h0M191.4 190.2h0M109.6 221.1h0M126.2 174.8h0M165.4 174.5h0M116.1 149.0h0M164.6 191.5h0M101.1 92.4h0M237.3 160.8h0M72.5 139.3h0M162.3 205.5h0M122.0 225.1h0M188.3 112.6h0M90.5 167.8h0M192.2 192.2h0M161.1 210.6h0M130.2 66.7h0M126.0 189.3h0M100.0 110.5h0M183.9 149.2h0M206.6 142.1h0M163.0 204.9h0M221.7 210.5h0M226.6 151.2h0M121.4 74.1h0M189.2 135.5h0M82.7 125.6h0M192.6 90.7h0M114.2 127.3h0M183.6 118.3h0M161.6 212.1h0M82.2 148.3h0M119.6 196.6h0M131.4 209.9h0M167.4 156.3h0M127.2 154.0h0M170.5 217.6h0M102.0 147.2h0M82.7 175.3h0M237.5 151.1h0M160.0 62.2h0M155.3 168.5h0M114.9 146.7h0M140.8 236.8h0M125.0 150.8h0M82.1 118.2h0M134.2 91.9h0M134.0 233.8h0M118.2 89.7h0M131.4 98.2h0M202.1 206.7h0M217.1 100.9h0M135.0 165.8h0M202.0 161.7h0M184.8 155.5h0M183.8 150.9h0M109.6 207.3h0M202.7 142.2h0M202.4 138.3h0M218.5 137.9h0M111.8 124.7h0M129.8 200.7h0M172.3 122.4h0M159.7 106.2h0M136.6 67.0h0M175.7 191.0h0M214.8 128.0h0M95.4 215.1h0M193.1 200.9h0M119.0 151.3h0M107.8 168.3h0M98.5 165.8h0M229.8 135.6h0M186.7 191.8h0M172.6 90.9h0M191.3 88.6h0M57.4 166.9h0M89.7 205.2h0M103.0 103.9h0M213.9 172.1h0M179.2 177.3h0M124.6 114.7h0M80.6 142.1h0M138.1 70.2h0M97.9 124.0h0M175.0 208.6h0M121.7 95.9h0M129.7 77.6h0M209.9 128.6h0M134.6 107.3h0M140.0 117.5h0M179.0 115.6h0M169.4 161.2h0M133.1 205.7h0M185.1 100.8h0M212.3 179.7h0M194.5 95.8h0M132.4 90.1h0M200.0 166.5h0M169.8 130.8h0M70.3 190.0h0M111.0 159.0h0M206.0 116.1h0M90.8 91.8h0M82.6 176.0h0M112.9 156.4h0M129.3 133.8h0M126.1 178.0h0M212.1 155.4h0M70.9 165.4h0M93.3 199.9h0M91.4 91.2h0M68.6 155.4h0M180.4 193.2h0M180.5 141.9h0M185.5 178.5h0M229.1 137.3h0M135.4 194.5h0M75.6 140.8h0M134.6 113.6h0M170.0 137.5h0M138.6 200.1h0M168.8 154.7h0M156.3 110.4h0M113.1 117.1h0M116.7 151.8h0M113.4 103.3h0M163.8 81.0h0M178.0 83.6h0M122.1 80.4h0M128.3 173.3h0M81.5 125.3h0M224.6 106.8h0M165.3 92.0h0M161.5 181.3h0M101.4 167.6h0M201.6 169.8h0M119.2 147.8h0M155.5 151.3h0M167.6 99.7h0M192.9 224.0h0M126.6 114.1h0M163.9 148.2h0M130.1 98.0h0M73.6 123.4h0M171.6 139.9h0M136.2 222.5h0M87.4 155.2h0M128.2 131.1h0M156.9 185.0h0M190.5 120.1h0M187.8 192.5h0M169.0 135.3h0M90.7 150.4h0M237.2 181.5h0M111.5 148.0h0M183.4 84.5h0M166.7 108.2h0M219.4 144.8h0M180.3 158.3h0M72.1 138.0h0M100.2 217.7h0M75.4 196.8h0M212.7 109.4h0M159.3 209.8h0M138.2 159.9h0M214.0 189.7h0M88.7 176.5h0M161.0 166.3h0M159.2 158.8h0M194.4 158.5h0M223.1 184.5h0M164.2 129.5h0M170.5 219.6h0M203.8 209.7h0M177.1 187.7h0M103.4 133.8h0M225.9 147.4h0M160.7 130.0h0M140.9 182.2h0M133.2 225.9h0M203.8 124.8h0M86.2 113.5h0M72.9 126.1h0M120.3 180.3h0M200.8 143.8h0M107.9 176.7h0M94.1 157.1h0M196.0 117.0h0M97.6 178.7h0M176.1 211.7h0M203.7 197.8h0M80.4 144.4h0M125.9 219.8h0M108.7 138.4h0M202.1 212.0h0M220.9 169.6h0M199.2 124.3h0M130.5 182.7h0M59.4 138.4h0M160.3 137.6h0M161.5 131.6h0M204.9 125.1h0M170.4 174.5h0M178.5 203.0h0M85.2 193.1h0M84.8 198.4h0M201.8 148.1h0M222.3 144.0h0M232.8 157.6h0M104.1 179.1h0M229.2 146.6h0M169.6 119.0h0M163.1 135.8h0M73.7 159.9h0M113.9 186.2h0M218.8 112.4h0M90.3 114.2h0M92.9 102.1h0M133.0 86.6h0M214.1 113.1h0M164.7 239.9h0M168.0 112.4h0M117.2 207.0h0M70.6 159.5h0M102.7 146.4h0M87.8 201.5h0M197.8 144.8h0M112.4 212.6h0M133.6 206.0h0M115.8 106.2h0M174.2 127.5h0M122.9 138.9h0M227.2 141.8h0M170.8 215.6h0M171.2 74.5h0M90.3 190.3h0M179.2 237.2h0M72.6 137.6h0M117.4 100.4h0M209.6 103.6h0M172.7 187.6h0M218.0 141.5h0M59.6 181.0h0M125.0 186.6h0M162.7 189.3h0M167.1 201.1h0M106.2 218.1h0M104.9 149.0h0M102.6 145.4h0M126.8 218.1h0M100.9 150.2h0M107.1 199.5h0M163.0 207.4h0M114.8 171.2h0M181.3 236.0h0M115.1 138.2h0M121.4 102.1h0M135.5 98.3h0M82.9 121.4h0M74.4 200.9h0M167.7 84.6h0M178.9 136.9h0M89.4 188.6h0M165.9 181.8h0M129.4 74.9h0M136.4 165.7h0M213.2 141.5h0M142.0 131.5h0M188.3 157.7h0M138.4 202.2h0M167.2 80.6h0M131.6 157.3h0M121.0 92.4h0M112.1 187.0h0M189.5 115.6h0M73.8 126.5h0M188.0 202.5h0M73.9 187.1h0M208.3 192.1h0M168.2 114.3h0M218.9 203.9h0M178.7 132.7h0M175.3 205.0h0M95.8 192.1h0M88.6 195.6h0M172.0 222.0h0M232.4 189.2h0M185.8 192.5h0M128.4 190.5h0M178.6 193.0h0M205.9 122.7h0M161.6 131.8h0M122.8 208.0h0M175.1 71.9h0M93.7 226.9h0M134.1 72.3h0M190.3 212.1h0M142.0 154.0h0M205.2 141.8h0M104.0 202.3h0M157.1 216.2h0M216.2 135.0h0M127.9 173.4h0M140.1 219.2h0M107.6 124.4h0M114.2 80.9h0M183.2 144.4h0M184.5 153.8h0M212.3 142.0h0M163.9 138.2h0M122.8 169.5h0M212.7 163.8h0M104.8 149.9h0M185.3 173.7h0M90.9 199.8h0M103.2 168.0h0M71.4 157.5h0M109.2 143.5h0M86.8 176.5h0M194.5 106.3h0M163.0 114.9h0M202.3 155.9h0M132.0 238.5h0M71.1 148.8h0M176.0 125.0h0M128.3 104.6h0M132.0 192.9h0M180.3 173.8h0M116.8 167.5h0M99.7 167.2h0M166.4 179.6h0M218.8 176.8h0M125.4 187.6h0M201.6 172.1h0M87.5 119.8h0M85.5 128.0h0M91.0 142.8h0M134.7 103.4h0M126.1 175.6h0M113.3 146.0h0M196.0 102.8h0M83.2 154.2h0M154.5 91.2h0M69.0 136.9h0M97.0 120.8h0M108.5 105.8h0M112.3 78.8h0M108.7 79.8h0M164.9 80.9h0M89.7 104.2h0M192.3 206.4h0M199.0 174.3h0M121.9 73.0h0M130.8 161.6h0M92.5 218.8h0M66.4 138.1h0M217.7 118.6h0M83.1 144.8h0M98.6 211.4h0M123.2 100.0h0M231.1 176.9h0M203.4 218.2h0M137.7 145.3h0M186.7 117.8h0M215.9 106.5h0M85.3 108.9h0M188.5 165.4h0M165.2 117.4h0M209.4 171.2h0M113.9 198.9h0M168.7 133.4h0M167.6 92.4h0M210.1 167.9h0M163.7 97.1h0M121.3 166.4h0M123.1 120.1h0M169.4 164.7h0M190.2 123.3h0M198.3 194.1h0M106.3 146.5h0M227.6 164.3h0M192.3 202.3h0M221.3 175.3h0M186.7 211.9h0M181.2 192.1h0M102.9 159.5h0M113.1 138.3h0M90.6 153.8h0M171.7 150.5h0M74.7 151.7h0M116.3 75.0h0M126.5 98.5h0M215.9 159.1h0M180.6 145.3h0M97.9 130.0h0M176.1 218.8h0M61.6 165.0h0M106.3 97.9h0M214.2 166.7h0M225.6 146.5h0M210.7 137.7h0M164.7 228.9h0M155.3 156.9h0M156.4 93.9h0M95.5 111.0h0M141.3 175.1h0M134.6 143.1h0M119.5 95.9h0M207.3 195.8h0M132.6 205.0h0M176.0 110.0h0M193.4 109.4h0M201.3 211.8h0M126.6 122.2h0M135.0 102.5h0M87.4 181.9h0M217.5 117.3h0M141.6 95.0h0M197.5 87.0h0M226.4 137.5h0M158.5 196.6h0M109.3 163.9h0M100.4 81.9h0M162.4 142.1h0M94.6 157.5h0M113.4 185.6h0M63.6 178.6h0M156.8 218.8h0M159.3 176.4h0M105.4 153.9h0M128.8 221.8h0M104.7 200.3h0M191.7 75.8h0M184.1 186.2h0M168.9 160.4h0M88.2 187.6h0M94.4 142.6h0M215.9 151.9h0M164.3 132.3h0M102.9 169.5h0M213.1 189.3h0M183.1 153.4h0M212.2 167.9h0M160.3 96.3h0M98.2 102.6h0M182.8 138.4h0M138.2 164.0h0M187.3 105.6h0M104.8 220.1h0M133.4 227.6h0M211.3 178.4h0M124.1 93.5h0M76.1 119.1h0M155.2 155.2h0M84.1 203.5h0M101.2 190.1h0M178.8 165.7h0M170.3 195.6h0M81.4 134.6h0M99.0 153.0h0M133.5 201.6h0M123.2 189.8h0M113.0 167.1h0M161.2 132.8h0M158.0 86.3h0M234.9 159.7h0M159.9 100.0h0M174.4 148.6h0M185.9 141.9h0M89.3 124.5h0M171.7 126.0h0M105.8 137.9h0M161.5 171.0h0M165.9 200.6h0M198.1 92.2h0M165.3 73.3h0M128.6 193.3h0M164.2 89.5h0M182.2 145.3h0M195.1 209.7h0M138.7 215.4h0M178.9 162.2h0M106.6 166.9h0M176.8 195.1h0M109.3 115.2h0M187.2 214.9h0M129.9 61.5h0M199.1 139.3h0M141.4 152.7h0M134.2 197.2h0M128.2 121.1h0M67.5 132.8h0M108.5 150.0h0M97.3 156.1h0M139.2 216.6h0M137.9 203.9h0M98.1 89.1h0M169.7 221.7h0M112.4 111.5h0M138.6 228.8h0M134.6 71.3h0M219.7 183.9h0M73.6 149.3h0M128.7 156.6h0M90.6 149.9h0M80.0 170.8h0M69.8 146.1h0M228.0 186.8h0M200.7 132.6h0M160.5 154.1h0M111.0 223.6h0M132.4 208.3h0M104.6 192.0h0M133.7 92.3h0M96.8 119.0h0M160.7 151.8h0M177.8 178.0h0M165.4 129.6h0M211.9 178.1h0M203.7 108.1h0M220.6 182.7h0M230.2 186.7h0M57.8 147.0h0M158.7 208.7h0M70.9 176.0h0M184.2 159.9h0M126.6 77.1h0M128.4 162.5h0M85.6 176.2h0M82.5 145.9h0M207.5 153.8h0M227.2 112.1h0M208.7 183.2h0M102.5 141.6h0M121.4 64.5h0M140.2 107.4h0M140.8 105.5h0M193.3 181.3h0M86.7 175.0h0M204.2 127.8h0M122.5 106.7h0M114.7 183.7h0M96.5 171.7h0M158.8 71.8h0M130.4 174.3h0M154.6 235.9h0M172.2 151.0h0M187.6 122.0h0M178.0 93.3h0M178.6 151.4h0M162.0 122.4h0M157.3 169.9h0M161.5 137.5h0M89.3 198.1h0M114.8 88.0h0M116.9 207.1h0M195.1 196.1h0M80.0 167.1h0M194.1 172.6h0M170.6 168.9h0M221.1 152.4h0M206.5 196.0h0M181.8 94.4h0M204.8 204.9h0M208.9 170.6h0M175.6 169.9h0M140.4 141.3h0M178.1 72.0h0M137.6 106.2h0M74.4 135.7h0M122.7 230.0h0M116.8 90.4h0M207.3 213.1h0M191.0 129.0h0M91.4 126.0h0M68.8 183.9h0M85.5 104.7h0M130.2 93.5h0M237.1 148.5h0M137.1 173.1h0M83.3 107.3h0M81.8 216.0h0M216.3 90.8h0M158.8 150.4h0M71.6 171.3h0M206.8 84.0h0M185.2 118.0h0M137.8 226.2h0M135.6 238.7h0M171.9 228.6h0M136.9 104.1h0M194.6 185.4h0M206.7 113.4h0M237.3 160.4h0M206.8 181.6h0M124.1 186.9h0M105.4 89.5h0M67.2 175.8h0M96.1 118.0h0M171.7 64.1h0M204.8 97.6h0M100.3 131.4h0M138.3 66.0h0M171.5 143.6h0M141.8 154.7h0M91.0 157.3h0M112.8 151.8h0M214.0 160.8h0M181.4 216.7h0M230.8 117.4h0M173.3 148.1h0M212.2 158.5h0M139.2 115.8h0M229.5 129.0h0M161.6 164.8h0M128.5 148.6h0M120.3 94.4h0M132.5 157.0h0M118.8 142.4h0M168.2 189.4h0M125.8 140.5h0M185.5 225.2h0M96.2 171.9h0M141.5 156.4h0M123.7 182.8h0M208.8 182.2h0M135.0 60.4h0M129.9 142.3h0M159.7 173.2h0M121.4 233.9h0M171.9 126.2h0M198.4 90.2h0M124.3 150.3h0M227.7 161.8h0M126.3 199.5h0M195.4 75.4h0M112.1 205.8h0M228.1 189.6h0M107.2 149.2h0M113.3 156.4h0M130.1 196.1h0M211.4 103.0h0M211.0 104.6h0M201.2 93.0h0M181.2 126.5h0M159.4 151.1h0M179.8 147.4h0M175.4 199.2h0M188.2 81.8h0M230.5 171.5h0M220.5 136.2h0M111.3 193.2h0M196.8 173.9h0M157.0 185.4h0M192.5 134.1h0M234.2 184.9h0M212.2 169.8h0M99.5 105.7h0M162.7 108.0h0M187.0 164.2h0M214.1 154.9h0M172.6 221.0h0M157.5 187.6h0M116.7 95.8h0M116.6 106.9h0M131.3 208.7h0M209.9 121.2h0M210.7 155.5h0M90.8 212.1h0M199.2 172.8h0M186.8 144.3h0M103.8 91.3h0M159.1 172.7h0M160.5 234.9h0M131.5 135.3h0M140.2 168.8h0M123.6 216.8h0M207.5 155.6h0M125.4 157.6h0M169.0 142.8h0M105.9 182.5h0M158.2 178.2h0M235.9 174.2h0M112.6 206.1h0M71.4 147.4h0M183.5 178.1h0M201.3 204.9h0M173.8 167.1h0M73.2 140.9h0M166.2 127.3h0M199.7 123.0h0M115.8 201.1h0M100.0 185.4h0M133.7 132.0h0M98.7 159.6h0M174.7 100.0h0M75.8 94.8h0M173.4 100.3h0M183.5 111.8h0M122.9 149.9h0M202.3 164.2h0M141.0 170.2h0M139.5 162.5h0M214.1 90.4h0M112.0 108.5h0M117.4 137.0h0M195.6 88.5h0M78.1 148.9h0M240.2 132.5h0M74.8 104.0h0M166.8 109.7h0M196.4 105.7h0M103.6 80.5h0M229.9 107.1h0M163.7 165.3h0M68.7 188.2h0M85.5 206.9h0M93.2 200.1h0M123.0 111.5h0M85.4 201.1h0M89.3 135.6h0M104.9 191.2h0M166.0 159.3h0M189.5 188.7h0M95.9 111.6h0M140.3 182.6h0M171.1 126.6h0M203.8 116.6h0M192.7 226.5h0M202.6 142.0h0M166.2 118.4h0M121.1 201.0h0M167.8 118.0h0M104.3 159.7h0M119.7 220.9h0M207.0 200.0h0M158.8 222.5h0M117.7 159.9h0M105.2 89.7h0M124.8 174.2h0M173.6 147.7h0M136.2 99.3h0M177.0 130.9h0M139.3 90.0h0M83.7 104.7h0M167.9 186.5h0M140.4 166.8h0M94.6 158.6h0M115.5 102.6h0M166.8 164.2h0M117.6 71.2h0M205.4 104.9h0M199.0 152.2h0M210.9 182.4h0M199.1 208.5h0M154.9 153.4h0M92.9 94.7h0M130.7 164.4h0M169.9 116.4h0M98.4 212.0h0M135.6 101.5h0M111.5 182.0h0M125.6 143.6h0M184.9 101.5h0M177.3 131.3h0M165.6 149.4h0M135.3 143.9h0M117.1 160.5h0M105.1 110.7h0M188.9 149.6h0M119.7 88.7h0M161.9 129.4h0M217.6 180.1h0M187.5 103.2h0M155.8 187.9h0M135.7 153.1h0M167.4 132.4h0M130.9 137.7h0M216.8 193.6h0M76.4 169.2h0M105.8 225.7h0M180.2 119.6h0M116.7 118.4h0M199.7 155.7h0M84.2 122.9h0M163.1 95.0h0M228.4 157.1h0M98.0 142.7h0M205.1 196.3h0M96.3 144.0h0M139.0 203.7h0M174.8 110.3h0M123.4 135.5h0M92.9 214.4h0M75.9 130.5h0M168.1 193.3h0M179.9 154.5h0M174.1 137.0h0M166.6 206.9h0M158.0 182.9h0M121.5 153.6h0M207.5 200.3h0M125.0 121.9h0M169.9 222.3h0M155.6 147.0h0M140.7 150.6h0M225.9 116.6h0M181.1 115.6h0M111.8 143.3h0M192.8 182.0h0M160.1 112.0h0M103.6 234.2h0M194.1 147.9h0M101.6 120.7h0M176.3 226.2h0M84.8 91.9h0M193.2 134.4h0M159.4 158.4h0M189.9 202.7h0M130.2 162.5h0M105.7 76.2h0M174.8 115.7h0M177.5 141.2h0M117.9 138.9h0M183.0 165.5h0M83.4 152.8h0M170.6 212.0h0M166.0 128.8h0M222.1 135.1h0M163.7 194.9h0M75.4 198.2h0M211.8 106.7h0M163.5 216.5h0M161.4 211.0h0M115.2 80.4h0M193.0 196.6h0M117.0 200.8h0M232.7 127.3h0M169.4 239.8h0M191.7 154.4h0M139.2 194.1h0M213.6 149.9h0M182.1 197.2h0M164.9 203.7h0M136.1 150.9h0M80.9 102.2h0M118.4 181.3h0M192.0 115.9h0M95.8 108.8h0M198.8 142.3h0M155.3 142.3h0M193.1 151.1h0M176.4 216.7h0M201.6 138.2h0M184.3 219.9h0M211.2 101.0h0M158.6 158.2h0M119.7 215.6h0M83.1 109.0h0M124.8 131.6h0M141.6 109.9h0M206.8 174.9h0M126.8 129.8h0M212.8 160.1h0M100.1 111.4h0M194.9 210.7h0M134.5 121.5h0M177.6 195.6h0M160.5 171.7h0M130.2 213.9h0M117.0 192.5h0M122.7 206.0h0M120.2 167.3h0M155.7 136.4h0M117.6 122.2h0M203.3 111.9h0M195.3 199.1h0M141.5 228.0h0M138.6 196.3h0M200.8 207.8h0M88.1 154.5h0M128.2 76.1h0M165.4 122.6h0M174.9 172.9h0M138.6 145.2h0M187.3 134.0h0M201.5 202.6h0M185.3 177.7h0M218.8 100.7h0M156.9 136.2h0M170.4 63.4h0M91.8 217.0h0M216.5 107.3h0M182.2 91.8h0M92.3 76.5h0M165.2 75.5h0M193.7 205.5h0M169.7 173.1h0M229.4 124.4h0M165.5 165.9h0M135.8 86.5h0M163.5 77.0h0M122.0 111.6h0M125.0 128.7h0M69.3 136.5h0M212.0 173.1h0M170.3 82.0h0M141.8 239.8h0M127.2 217.4h0M196.8 162.1h0M134.2 122.2h0M137.8 96.9h0M163.5 175.9h0M210.5 174.6h0M128.7 61.3h0M133.6 199.6h0M106.9 115.6h0M195.9 186.1h0M93.7 149.8h0M204.1 172.3h0M112.9 76.5h0M171.3 200.7h0M176.9 127.5h0M86.1 157.5h0M118.3 183.1h0M179.5 138.1h0M128.2 151.3h0M140.2 103.5h0M80.4 115.4h0M210.5 180.6h0M159.5 227.1h0M102.2 190.1h0M81.7 185.9h0M173.9 77.1h0M140.4 161.2h0M159.8 161.1h0M135.6 211.3h0M136.5 72.3h0M177.7 134.8h0M216.6 123.9h0M190.9 159.6h0M96.9 170.0h0M199.3 224.1h0M171.8 107.6h0M171.3 190.5h0M175.5 159.0h0M157.2 161.6h0M80.2 185.5h0M175.2 153.4h0M187.5 143.1h0M129.2 179.0h0M104.7 95.4h0M183.2 171.4h0M135.1 182.9h0M140.6 71.6h0M130.6 195.5h0M84.6 95.4h0M119.6 97.2h0M166.9 219.1h0M208.7 180.3h0M174.1 153.3h0M176.5 175.3h0M107.8 110.8h0M123.3 98.4h0M192.8 84.9h0M178.3 209.8h0M112.2 185.9h0M86.5 212.8h0M180.7 168.8h0M175.9 91.8h0M172.9 106.5h0M120.7 200.2h0M214.3 110.1h0M127.9 125.8h0M119.3 157.9h0M126.8 121.1h0M111.2 86.0h0M190.2 106.4h0M122.4 190.6h0M107.4 172.3h0M185.7 148.5h0M91.5 222.4h0M170.9 115.6h0M188.4 194.6h0M168.8 102.8h0M84.1 128.7h0M170.6 225.1h0M137.5 159.4h0M185.5 153.8h0M187.6 152.9h0M140.7 127.1h0M99.8 159.7h0M121.7 139.7h0M109.5 169.9h0M208.2 157.4h0M134.9 212.1h0M72.7 201.7h0M77.8 196.0h0M156.0 151.6h0M185.3 223.7h0M192.5 156.0h0M199.0 125.9h0M209.6 94.2h0M131.4 167.4h0M204.9 160.1h0M167.7 234.0h0M214.0 179.4h0M89.2 104.3h0M136.3 158.5h0M218.6 118.5h0M179.3 131.4h0M166.2 79.5h0M101.6 131.3h0M155.9 97.1h0M112.4 152.1h0M177.2 148.1h0M122.3 159.7h0M165.5 205.2h0M128.7 173.7h0M158.9 110.7h0M183.9 83.4h0M204.4 154.5h0M186.9 126.2h0M119.9 208.8h0M177.4 202.5h0M122.8 107.8h0M186.3 193.3h0M164.4 204.3h0M207.7 93.3h0M89.8 103.3h0M165.9 180.3h0M182.2 138.6h0M159.1 119.2h0M185.0 132.1h0M110.6 184.9h0M177.1 224.4h0M172.6 162.6h0M192.8 147.6h0M175.8 122.6h0M167.5 122.8h0M210.9 93.6h0M224.4 134.5h0M110.8 114.6h0M135.7 141.1h0M119.0 178.6h0M75.2 153.9h0M160.1 124.5h0M197.7 136.3h0M161.8 220.3h0M142.5 153.4h0M158.4 214.1h0M106.3 120.5h0M124.1 169.7h0M215.1 100.2h0M128.7 111.6h0M176.5 176.4h0M181.8 167.9h0M198.3 162.9h0M94.9 137.9h0M109.6 161.6h0M182.1 114.0h0M102.5 231.3h0M98.8 153.4h0M71.8 100.5h0M182.8 91.1h0M198.8 180.7h0M181.4 161.6h0M123.6 204.8h0M221.8 200.0h0M125.2 179.1h0M189.3 188.3h0M71.3 176.9h0M179.4 161.8h0M188.9 201.0h0M119.0 203.8h0M178.5 79.1h0M79.4 140.2h0M178.0 116.6h0M89.6 170.9h0M154.9 138.1h0M82.2 137.1h0M77.6 102.3h0M113.3 181.9h0M80.0 129.2h0M211.2 190.2h0M112.7 146.5h0M131.3 221.0h0M109.3 167.0h0M78.7 100.0h0M78.6 179.6h0M105.5 129.6h0M231.3 150.8h0M140.6 166.9h0M82.3 116.3h0M155.1 165.7h0M166.3 161.3h0M176.7 177.1h0M93.4 212.4h0M231.9 140.0h0M79.3 152.9h0M172.0 121.4h0M119.2 112.1h0M57.8 154.7h0M184.7 74.1h0M198.8 194.1h0M93.1 144.4h0M80.6 152.6h0M171.8 229.0h0M119.2 203.5h0M174.1 104.9h0M216.2 178.3h0M177.1 92.4h0M169.9 66.7h0M93.0 125.4h0M118.2 221.8h0M141.9 230.2h0M186.7 91.5h0M176.0 207.4h0M101.3 107.4h0M140.0 116.3h0M179.1 69.0h0M189.8 118.7h0M205.4 187.0h0M102.9 132.0h0M128.0 140.3h0M180.1 161.3h0M139.1 225.7h0M87.8 90.8h0M161.8 168.6h0M176.0 127.3h0M210.9 138.1h0M78.8 140.9h0M221.3 185.6h0M135.2 169.9h0M177.5 179.6h0M63.9 162.0h0M159.2 136.8h0M198.0 112.3h0M228.4 150.5h0M116.1 129.9h0M93.3 162.1h0M156.0 157.5h0M97.9 170.4h0M78.8 206.6h0M197.9 78.7h0M199.3 160.5h0M189.7 195.7h0M88.3 171.0h0M157.5 140.8h0M104.4 139.7h0M177.9 187.6h0M114.7 106.4h0M93.7 190.3h0M141.9 203.7h0M172.1 129.4h0M124.9 142.3h0M204.2 79.5h0M124.2 130.5h0M192.2 166.1h0M213.4 130.8h0M132.5 128.9h0M175.6 117.7h0M157.0 105.1h0M136.3 67.0h0M155.8 103.7h0M109.4 121.5h0M221.6 183.9h0M204.4 194.0h0M98.9 218.4h0M88.0 199.3h0M91.6 96.5h0M105.6 106.4h0M119.8 169.3h0M227.9 162.5h0M217.1 104.1h0M130.8 168.0h0M197.5 135.7h0M112.9 128.7h0M160.1 242.3h0M183.1 127.7h0M159.9 108.1h0M133.2 215.4h0M180.7 193.8h0M209.4 170.7h0M162.3 99.7h0M123.2 173.7h0M83.9 166.2h0M127.6 148.4h0M118.9 142.4h0M83.2 174.0h0M121.0 234.1h0M177.3 177.0h0M170.8 207.9h0M164.8 213.2h0M81.1 145.1h0M95.9 184.5h0M131.7 69.0h0M125.8 90.9h0M91.6 132.3h0M197.8 161.5h0M166.2 74.9h0M226.1 119.8h0M176.4 155.0h0M209.1 193.0h0M224.3 184.2h0M132.3 163.7h0M110.2 140.6h0M212.4 203.2h0M185.7 207.6h0M114.6 138.3h0M181.4 130.5h0M87.0 150.7h0M95.5 175.9h0M126.8 125.5h0M98.3 163.3h0M94.1 151.2h0M91.6 154.4h0M190.7 108.6h0M124.6 164.3h0M85.4 110.5h0M132.6 206.7h0M123.8 140.2h0M175.0 191.7h0M225.4 153.1h0M101.8 109.7h0M182.5 207.5h0M88.2 182.6h0M121.9 71.4h0M176.4 176.8h0M129.0 166.6h0M86.3 130.8h0M207.4 108.0h0M208.8 117.6h0M89.6 145.6h0M181.3 222.4h0M178.1 171.7h0M185.7 172.5h0M129.9 141.3h0M225.5 203.1h0M183.6 108.2h0M223.8 194.5h0M201.9 150.4h0M219.0 135.9h0M91.7 213.8h0M163.1 182.0h0M167.7 108.2h0M78.1 179.1h0M157.3 120.7h0M96.4 128.6h0M161.5 189.3h0M113.7 133.3h0M82.0 134.7h0M134.5 164.9h0M230.6 120.8h0M141.8 177.1h0M214.2 106.2h0M176.6 159.1h0M163.9 145.1h0M160.0 97.3h0M129.1 93.3h0M178.5 126.3h0M132.6 178.8h0M224.2 156.4h0M181.8 204.1h0M131.5 163.4h0M108.1 155.3h0M107.8 183.1h0M129.3 201.8h0M174.9 209.0h0M83.5 172.1h0M195.0 84.0h0M108.3 145.4h0M76.3 97.4h0M173.5 117.3h0M166.4 91.0h0M79.3 143.9h0M210.8 110.0h0M93.4 108.4h0M193.0 124.0h0M112.6 109.0h0M82.2 89.0h0M184.0 150.0h0M132.3 147.7h0M219.5 177.8h0M134.2 128.2h0M168.2 168.7h0M89.9 127.5h0M162.7 87.5h0M183.0 123.3h0M98.7 142.0h0M65.3 126.0h0M190.0 206.2h0M194.1 126.3h0M137.7 69.9h0M174.7 107.2h0M156.7 119.5h0M166.0 128.1h0M99.0 200.2h0M64.3 143.9h0M202.1 148.6h0M131.2 119.7h0M172.3 204.6h0M182.3 133.0h0M188.7 163.5h0M106.9 81.9h0M84.5 166.6h0M207.6 187.9h0M77.6 186.3h0M170.4 63.7h0M155.2 174.4h0M165.3 150.6h0M220.0 115.8h0M79.2 132.5h0M79.6 140.1h0M161.2 96.0h0M124.0 145.1h0M60.7 157.6h0M132.8 191.1h0M226.6 125.4h0M169.9 175.3h0M210.9 156.7h0M138.9 140.1h0M173.4 130.4h0M159.2 134.2h0M158.7 125.2h0M76.8 155.1h0M113.4 130.5h0M131.0 162.4h0M191.8 142.2h0M140.5 152.5h0M165.8 111.9h0M159.8 193.1h0M203.6 203.1h0M217.7 153.5h0M92.2 151.3h0M223.1 165.9h0M75.4 119.4h0M88.5 178.1h0M195.4 202.5h0M201.5 206.1h0M77.4 151.7h0M201.5 229.0h0M183.1 154.1h0M203.9 151.6h0M187.6 103.4h0M190.2 106.5h0M86.7 211.9h0M232.6 143.6h0M168.5 62.8h0M97.7 153.6h0M102.2 130.1h0M158.9 149.7h0M209.0 148.7h0M215.8 167.7h0M134.5 118.3h0M124.4 173.2h0M156.3 78.4h0M114.1 204.6h0M207.1 86.8h0M125.9 85.2h0M209.5 181.8h0M102.5 129.4h0M85.0 132.5h0M110.0 130.7h0M177.7 122.3h0M122.7 205.5h0M129.7 97.2h0M141.3 119.4h0M159.5 188.2h0M220.1 126.3h0M127.7 127.8h0M115.9 105.5h0M115.1 213.0h0M111.5 101.2h0M122.6 232.3h0M98.8 140.3h0M157.3 171.9h0M187.0 86.2h0M191.7 113.9h0M131.9 111.7h0M100.7 131.3h0M139.0 180.9h0M155.9 128.0h0M198.6 168.2h0M112.6 159.2h0M192.1 202.2h0M199.9 198.4h0M132.2 166.5h0M92.6 186.5h0M207.6 102.6h0M137.1 183.5h0M188.4 130.0h0M160.9 156.8h0M173.9 113.2h0M196.3 153.2h0M87.9 141.3h0M168.0 141.1h0M120.1 170.6h0M108.5 112.2h0M108.3 119.7h0M95.7 106.9h0M186.4 132.0h0M209.0 110.3h0M106.0 77.2h0M136.6 117.3h0M215.5 169.1h0M187.7 104.5h0M210.7 106.2h0M97.6 82.7h0M129.6 207.8h0M135.2 207.3h0M230.5 158.4h0M119.2 123.1h0M200.0 183.8h0M138.6 78.7h0M137.4 103.4h0M127.3 191.1h0M165.2 195.7h0M216.5 130.2h0M123.5 124.5h0M187.8 179.0h0M220.2 162.2h0M115.4 174.3h0M107.4 92.4h0M206.7 138.4h0M186.1 142.5h0M165.1 198.8h0M171.3 137.9h0M110.9 118.3h0M117.7 181.6h0M190.4 181.8h0M138.9 124.3h0M133.1 144.8h0M205.3 76.7h0M141.2 118.6h0M113.0 67.3h0M96.7 227.6h0M100.1 153.0h0M77.7 121.5h0M221.7 165.9h0M132.0 203.5h0M124.5 157.1h0M108.2 126.4h0M218.8 202.6h0M155.6 138.2h0M139.9 208.3h0M179.2 200.6h0M107.3 153.7h0M117.9 199.3h0M120.3 161.8h0M137.8 116.3h0M127.9 79.9h0M165.4 178.8h0M123.1 223.1h0M181.1 112.6h0M159.6 143.2h0M67.2 167.1h0M210.4 97.5h0M166.4 226.7h0M115.2 181.4h0M161.1 212.6h0M134.5 155.5h0M210.9 111.3h0M70.2 105.5h0M217.6 153.1h0M170.3 137.6h0M204.7 196.7h0M178.3 206.8h0M92.4 138.2h0M131.5 194.4h0M183.7 68.9h0M109.8 207.7h0M226.6 120.7h0M62.5 139.2h0M118.4 85.4h0M106.2 166.0h0M83.2 121.7h0M158.3 136.8h0M167.9 83.9h0M130.0 212.6h0M110.0 176.7h0M181.0 105.0h0M212.7 146.0h0M197.1 153.2h0M178.7 95.5h0M133.6 217.3h0M141.6 183.5h0M139.7 150.9h0M165.7 151.7h0M64.2 121.1h0M213.1 125.0h0M165.6 164.6h0M178.3 177.7h0M219.9 121.4h0M186.0 97.7h0M90.3 120.1h0M127.9 185.9h0M190.9 90.9h0M208.0 150.5h0M126.0 217.5h0M154.7 133.2h0M167.6 163.3h0M63.4 177.2h0M163.0 108.7h0M124.9 154.9h0M118.5 219.6h0M192.8 137.9h0M205.4 145.1h0M130.3 193.7h0M186.2 148.2h0M231.3 123.0h0M197.6 189.7h0M175.9 92.1h0M115.1 152.9h0M135.4 166.3h0M110.1 211.8h0M188.4 222.3h0M165.9 216.6h0M228.0 117.5h0M155.3 120.2h0M85.4 195.4h0M182.7 113.8h0M185.4 77.3h0M95.7 186.0h0M202.8 119.3h0M139.6 104.0h0M137.4 219.5h0M98.9 82.1h0M139.2 128.6h0M88.9 201.6h0M203.3 219.2h0M168.3 134.4h0M213.6 196.0h0M121.4 183.4h0M113.7 179.6h0M113.4 213.6h0M200.1 154.6h0M197.1 127.6h0M120.1 143.9h0M231.7 145.9h0M109.7 188.1h0M117.5 105.7h0M130.3 150.0h0M235.9 129.5h0M159.4 214.1h0M234.5 167.2h0M90.1 153.6h0M110.2 235.6h0M130.3 118.8h0M111.4 89.2h0M114.9 122.6h0M173.0 217.1h0M118.7 157.7h0M118.1 171.7h0M220.6 152.5h0M182.9 171.2h0M100.5 93.2h0M176.4 164.3h0M94.4 156.2h0M161.1 85.1h0M183.5 76.0h0M232.6 121.4h0M108.5 134.3h0M82.9 148.6h0M141.7 143.9h0M106.0 162.2h0M101.6 122.8h0M139.2 222.6h0M221.5 160.0h0M78.1 131.3h0M175.4 159.2h0M85.2 195.3h0M188.7 197.8h0M162.0 157.1h0M188.2 104.0h0M181.3 95.9h0M158.7 167.1h0M180.1 196.0h0M114.8 116.2h0M206.1 127.2h0M110.2 103.4h0M137.5 213.9h0M99.7 201.5h0M157.6 244.2h0M209.2 137.8h0M136.8 88.9h0M226.5 168.5h0M229.9 130.1h0M120.8 183.7h0M171.7 118.5h0M176.7 171.3h0M190.8 132.7h0M114.9 170.2h0M118.6 174.1h0M142.4 183.3h0M159.5 241.3h0M101.6 166.1h0M220.8 142.8h0M173.7 184.9h0M125.1 203.6h0M90.0 87.2h0M185.6 141.3h0M120.9 228.5h0M179.6 132.9h0M79.9 122.1h0M185.3 120.0h0M133.1 218.1h0M218.4 136.5h0M232.5 148.8h0M125.6 81.3h0M191.7 185.5h0M162.1 216.6h0M177.7 96.1h0M120.5 234.9h0M168.4 85.4h0M179.1 172.5h0M104.6 168.2h0M126.4 156.7h0M202.8 176.4h0M187.8 182.2h0M180.1 117.3h0M184.2 157.7h0M166.1 126.2h0M175.3 128.9h0M199.3 138.5h0M142.1 184.3h0M215.2 116.8h0M121.1 127.0h0M224.6 191.4h0M131.2 196.5h0M180.3 96.5h0M215.4 140.7h0M124.4 71.4h0M108.5 209.0h0M123.3 83.4h0M133.7 154.9h0M76.7 167.8h0M226.2 115.2h0M107.3 147.6h0M137.9 109.5h0M88.6 145.0h0M208.9 114.0h0M136.0 131.2h0M186.4 162.4h0M175.6 226.3h0M70.1 144.8h0M161.7 134.4h0M186.5 104.9h0M93.5 132.9h0M163.8 121.8h0M209.1 104.8h0M88.5 152.7h0M127.3 124.6h0M194.5 184.5h0M183.8 218.6h0M212.3 156.5h0M160.7 141.6h0M75.8 172.9h0M135.1 136.6h0M136.9 149.1h0M185.7 196.9h0M204.2 224.0h0M189.0 77.9h0M142.5 167.2h0M140.1 235.4h0M113.6 72.1h0M90.2 198.6h0M74.5 110.4h0M95.8 183.0h0M113.1 125.6h0M209.2 185.8h0M171.1 67.9h0M166.7 165.7h0M202.1 165.1h0M182.8 121.6h0M80.4 147.3h0M92.2 129.6h0M157.3 173.4h0M115.0 212.0h0M181.9 98.3h0M129.1 88.8h0M101.5 220.5h0M155.2 211.9h0M156.6 234.3h0M172.9 62.5h0M112.5 96.4h0M205.1 190.2h0M215.0 104.7h0M126.5 89.4h0M103.0 101.1h0M64.2 121.4h0M184.2 142.9h0M140.9 150.5h0M222.4 161.0h0M210.2 107.4h0M230.7 171.6h0M119.3 150.9h0M102.9 204.2h0M140.1 170.9h0M162.8 214.1h0M156.4 182.2h0M190.8 192.6h0M137.1 105.6h0M172.2 197.3h0M238.8 144.0h0M161.1 123.7h0M194.2 129.2h0M185.4 162.1h0M106.2 144.4h0M127.0 97.1h0M196.9 161.3h0M172.3 59.9h0M94.9 172.7h0M118.7 176.9h0M98.4 143.7h0M215.3 176.7h0M182.8 200.8h0M92.1 195.8h0M136.1 155.6h0M209.4 213.3h0M128.2 199.8h0M163.9 179.7h0M131.5 136.6h0M85.8 170.0h0M184.0 183.2h0M160.8 220.4h0M73.3 144.0h0M103.9 165.7h0M187.5 207.4h0M74.1 171.7h0M100.1 139.0h0M108.2 83.1h0M126.9 156.5h0M128.0 239.3h0M116.8 208.6h0M134.5 107.1h0M132.0 155.1h0M158.5 108.0h0M201.7 193.3h0M113.5 215.7h0M116.0 224.2h0M157.9 131.2h0M120.8 166.0h0M168.5 115.9h0M158.6 95.3h0M85.1 96.6h0M168.8 196.7h0M75.7 186.2h0M125.4 158.5h0M126.4 88.8h0M131.4 175.1h0M74.3 188.7h0M114.2 64.1h0M178.1 87.2h0M71.8 145.8h0M154.8 101.3h0M117.4 167.8h0M195.8 89.2h0M168.7 83.6h0M182.0 162.1h0M164.5 124.2h0M182.7 122.1h0M124.1 217.9h0M70.6 193.2h0M156.5 203.7h0M133.0 179.5h0M176.5 206.0h0M217.2 93.7h0M69.4 173.9h0M194.2 216.6h0M96.3 187.7h0M180.1 169.4h0M202.6 136.0h0M105.1 154.2h0M169.7 72.2h0M114.3 150.5h0M195.4 115.3h0M197.4 150.1h0M127.8 144.8h0M231.9 183.6h0M105.1 157.9h0M136.3 186.3h0M161.5 240.8h0M213.6 168.5h0M93.7 209.9h0M167.6 176.4h0M74.0 103.2h0M82.1 182.6h0M103.4 140.1h0M217.8 176.7h0M211.4 92.4h0M163.5 127.3h0M183.1 227.3h0M79.2 93.2h0M221.4 135.2h0M185.4 177.2h0M204.8 137.0h0M162.9 66.6h0M181.3 74.9h0M65.6 142.4h0M118.0 87.4h0M131.9 203.9h0M100.9 151.4h0M216.7 157.0h0M138.6 235.6h0M182.6 173.6h0M110.1 121.6h0M141.9 113.4h0M123.9 178.3h0M183.1 193.0h0M176.4 209.2h0M80.0 158.0h0M177.3 234.1h0M211.6 131.2h0M167.5 94.0h0M215.9 106.5h0M204.8 216.4h0M216.6 104.8h0M218.9 150.3h0M118.1 162.0h0M128.0 91.8h0M88.9 201.4h0M189.2 182.5h0M118.3 102.5h0M135.3 241.6h0M189.3 145.0h0M112.4 89.9h0M223.3 160.4h0M175.2 190.7h0M139.4 151.3h0M210.5 173.1h0M205.4 155.4h0M180.2 116.1h0M185.7 175.3h0M141.7 235.7h0M137.2 70.6h0M190.1 139.7h0M214.4 126.7h0M157.8 194.9h0M130.4 210.4h0M196.7 122.1h0M109.0 182.5h0M108.2 136.4h0M220.7 138.4h0M215.8 110.3h0M157.8 174.0h0M118.3 152.3h0M225.6 174.5h0M107.2 79.0h0M141.3 149.2h0M161.9 231.2h0M156.7 110.1h0M200.6 140.3h0M94.3 111.6h0M103.5 157.4h0M124.6 132.8h0M114.6 187.9h0M205.8 170.0h0M125.5 164.5h0M162.3 181.1h0M93.2 186.3h0M170.9 85.3h0M233.3 149.0h0M118.2 107.0h0M123.3 144.9h0M229.3 152.5h0M130.9 143.6h0M119.1 232.2h0M213.2 103.8h0M117.0 148.0h0M207.8 205.5h0M166.7 196.7h0M193.1 141.3h0M114.6 156.8h0M177.6 156.6h0M172.0 131.8h0M120.5 157.9h0M156.0 146.7h0M216.2 151.4h0M188.0 218.8h0M104.2 137.3h0M101.2 169.0h0M82.1 127.8h0M199.4 146.3h0M142.5 214.2h0M90.0 85.8h0M69.3 159.5h0M176.2 168.2h0M100.1 209.6h0M178.8 170.3h0M132.4 81.6h0M76.4 207.2h0M189.2 139.3h0M187.2 162.4h0M85.6 162.4h0M182.5 208.8h0M193.3 149.8h0M73.3 98.4h0M98.2 189.5h0M172.6 77.0h0M108.1 176.6h0M182.1 109.1h0M111.2 200.5h0M88.8 164.5h0M92.0 138.8h0M117.7 152.6h0M125.6 111.3h0M172.8 218.8h0M164.0 86.1h0M176.1 183.0h0M117.7 124.6h0M173.0 71.7h0M120.1 164.7h0M129.0 107.0h0M194.1 145.1h0M90.5 128.1h0M156.6 82.6h0M176.6 196.8h0M110.9 106.4h0M118.4 167.4h0M236.6 138.6h0M62.2 165.6h0M172.3 231.1h0M173.6 78.1h0M86.8 208.1h0M104.9 211.9h0M157.1 136.1h0M194.1 143.6h0M161.8 131.9h0M114.5 167.3h0M104.2 175.4h0M65.7 126.4h0M160.2 174.2h0M192.1 168.5h0M192.5 85.7h0M179.2 73.7h0M128.8 133.9h0M88.1 107.5h0M199.5 213.6h0M207.7 108.3h0M125.7 145.5h0M139.7 166.4h0M71.2 194.0h0M158.7 122.8h0M191.5 85.6h0M85.7 213.8h0M118.5 127.4h0M181.5 176.4h0M94.8 130.5h0M84.5 155.0h0M133.3 151.9h0M129.1 229.8h0M71.4 188.0h0M137.2 176.6h0M186.7 208.4h0M195.0 111.0h0M191.9 156.7h0M161.5 196.3h0M113.1 75.1h0M174.8 68.4h0M58.9 142.9h0M191.8 105.2h0M131.8 79.8h0M193.4 170.8h0M188.3 178.7h0M66.3 114.3h0M200.5 166.0h0M111.0 121.0h0M128.7 140.6h0M155.7 229.9h0M108.8 134.9h0M107.8 193.9h0M193.2 121.3h0M192.2 221.8h0M77.3 194.3h0M82.7 122.1h0M215.5 151.4h0M172.9 103.6h0M112.3 224.7h0M110.3 193.9h0M190.9 155.9h0M131.6 107.5h0M89.2 143.1h0M84.8 207.6h0M210.1 102.4h0M176.0 79.6h0M75.4 200.7h0M218.8 190.7h0M73.0 167.1h0M202.1 154.2h0M75.5 176.5h0M105.1 180.0h0M98.3 95.9h0M98.1 96.8h0M222.5 180.1h0M186.3 203.8h0M123.5 140.3h0M94.9 171.0h0M138.6 171.2h0M135.2 186.7h0M193.3 206.7h0M155.2 168.6h0M216.8 178.2h0M186.0 135.0h0M121.9 195.2h0M179.4 132.6h0M83.6 103.2h0M165.2 173.2h0M92.9 184.6h0M135.2 126.3h0M130.3 219.6h0M192.0 198.7h0M87.3 98.7h0M93.3 119.5h0M72.5 125.2h0M92.8 198.0h0M130.4 213.1h0M217.1 124.6h0M112.7 228.9h0M176.4 105.4h0M98.6 101.5h0M102.0 135.4h0M79.4 155.1h0M134.1 106.4h0M90.5 144.2h0M178.2 169.6h0M93.2 179.3h0M171.2 155.7h0M216.3 164.6h0M222.4 169.1h0M202.2 175.1h0M135.4 172.9h0M227.2 146.9h0M90.0 163.2h0M110.3 209.6h0M171.7 97.1h0M198.2 76.0h0M175.1 104.4h0M99.7 133.1h0M178.2 170.9h0M225.4 183.5h0M116.5 169.0h0M196.6 215.1h0M107.0 148.2h0M168.3 218.9h0M194.2 181.1h0M172.0 119.9h0M125.3 106.6h0M195.9 147.4h0M99.6 166.2h0M101.3 166.8h0M172.5 188.2h0M142.4 131.3h0M98.8 176.1h0M205.3 183.9h0M138.1 176.1h0M174.5 204.6h0M155.8 156.3h0M171.6 216.5h0M138.3 137.3h0M180.4 85.1h0M227.8 177.3h0M138.6 167.7h0M225.8 151.8h0M99.0 208.0h0M187.6 101.2h0M97.2 144.9h0M170.4 180.9h0M164.0 89.8h0M202.1 127.0h0M134.4 131.6h0M115.8 197.5h0M116.6 94.1h0M82.6 96.0h0M93.5 156.7h0M201.3 132.1h0M87.6 180.4h0M221.3 116.7h0M183.9 193.2h0M198.9 125.8h0M127.3 213.1h0M219.8 173.6h0M83.1 148.7h0M73.3 118.7h0M190.1 92.9h0M220.3 143.8h0M135.0 196.2h0M174.3 151.3h0M77.4 135.5h0M157.4 87.4h0M68.5 106.3h0M91.8 146.5h0M70.0 187.7h0M65.9 143.0h0M76.1 165.0h0M84.6 143.9h0M155.4 155.7h0M182.4 130.8h0M141.9 133.6h0M191.8 136.8h0M196.8 187.4h0M111.3 132.2h0M204.2 172.4h0M208.2 133.9h0M119.1 128.9h0M123.7 200.7h0M96.3 219.0h0M205.9 118.2h0M84.9 126.4h0M216.7 203.5h0M221.4 96.3h0M131.5 120.2h0M124.5 173.6h0M192.8 148.2h0M117.3 209.2h0M239.7 136.7h0M201.1 129.1h0M165.8 200.2h0M155.2 165.2h0M69.0 136.4h0M98.1 148.5h0M135.4 118.7h0M115.6 158.5h0M161.7 86.3h0M78.7 101.5h0M126.3 93.7h0M123.3 77.0h0M191.7 112.5h0M127.4 103.7h0M156.9 121.3h0M169.9 193.3h0M158.8 224.7h0M205.6 218.2h0M107.0 153.0h0M114.5 132.6h0M197.1 101.4h0M109.8 212.0h0M205.4 217.3h0M200.8 204.4h0M182.8 137.1h0M141.6 115.0h0M157.8 107.4h0M79.1 155.0h0M205.3 140.6h0M94.2 138.5h0M183.3 113.9h0M205.7 112.6h0M131.5 91.7h0M200.7 160.7h0M120.7 213.1h0M227.6 125.2h0M88.0 212.6h0M232.5 124.3h0M157.4 128.1h0M105.6 193.8h0M154.6 109.8h0M164.7 120.0h0M131.2 129.6h0M192.0 140.7h0M106.4 157.0h0M181.1 147.6h0M79.3 164.0h0M178.3 82.9h0M187.8 228.6h0M134.3 171.8h0M189.9 172.4h0M215.0 100.5h0M116.1 75.4h0M195.0 141.8h0M156.5 130.8h0M134.1 90.8h0M234.6 159.7h0M106.2 182.8h0M204.6 115.1h0M215.7 121.4h0M154.9 109.7h0M130.2 226.7h0M188.2 139.9h0M206.1 83.8h0M112.7 190.0h0M176.6 171.7h0M138.6 143.6h0M87.2 130.0h0M115.4 77.5h0M100.5 153.5h0M97.3 202.1h0M101.2 182.6h0M184.5 197.3h0M223.7 159.3h0M100.7 140.1h0M167.9 174.6h0M69.9 151.7h0M73.4 166.0h0M230.3 151.4h0M102.7 157.2h0M122.8 195.7h0M136.7 174.7h0M105.0 230.4h0M135.9 162.5h0M166.1 160.2h0M178.0 218.2h0M185.0 70.4h0M97.1 229.0h0M174.9 201.3h0M176.2 107.2h0M92.0 187.3h0M92.3 139.6h0M137.9 157.4h0M93.0 109.6h0M178.5 135.7h0M204.0 136.4h0M168.1 206.1h0M156.4 165.2h0M184.3 122.6h0M99.8 101.0h0M121.7 69.6h0M199.2 196.7h0M140.3 145.4h0M188.0 87.2h0M70.5 178.3h0M123.2 87.0h0M183.2 186.5h0M132.6 169.4h0M117.1 159.4h0M162.9 169.2h0M108.6 111.4h0M196.1 202.1h0M57.0 157.7h0M119.5 158.2h0M178.2 194.2h0M111.3 142.1h0M80.8 120.9h0M191.7 187.8h0M127.2 229.4h0M173.0 186.9h0M109.1 194.8h0M99.8 90.5h0M164.0 86.7h0M192.4 114.3h0M74.3 170.5h0M100.3 152.6h0M166.4 158.9h0M122.1 108.6h0M119.4 143.0h0M94.3 198.7h0M86.6 80.6h0M187.0 162.3h0M140.8 242.5h0M191.7 214.8h0M63.3 151.7h0M102.6 174.2h0M205.0 166.1h0M212.0 190.4h0M167.0 119.6h0M212.9 122.9h0M79.8 95.0h0M240.4 141.9h0M99.9 217.9h0M126.4 78.6h0M77.4 200.3h0M211.0 91.6h0M173.6 90.0h0M113.1 109.2h0M176.4 198.0h0M126.0 148.2h0M132.6 120.7h0M165.5 159.4h0M181.0 121.2h0M140.4 84.8h0M157.0 83.1h0M132.3 214.1h0M88.5 141.1h0M111.1 227.1h0M168.2 98.6h0M62.7 157.5h0M115.7 195.0h0M238.9 171.7h0M187.9 67.5h0M85.9 149.9h0M156.6 155.0h0M118.9 101.0h0M135.7 152.8h0M75.7 164.7h0M188.2 118.9h0M82.1 178.4h0M104.8 145.9h0M126.7 232.5h0M190.4 205.2h0M109.7 99.8h0M231.0 172.2h0M204.6 153.3h0M103.0 143.5h0M88.5 183.6h0M156.4 234.9h0M140.3 142.9h0M134.3 88.7h0M221.8 198.3h0M134.5 237.6h0M90.1 182.6h0M166.7 210.4h0M199.4 116.4h0M115.2 117.6h0M194.0 160.6h0M158.4 82.7h0M92.2 202.0h0M76.8 155.4h0M199.5 124.4h0M155.5 134.1h0M201.0 135.0h0M138.5 240.6h0M96.8 150.5h0M214.9 141.2h0M117.7 187.1h0M197.9 201.8h0M128.5 164.3h0M172.7 203.4h0M166.7 136.8h0M83.8 189.0h0M235.4 138.6h0M187.6 223.5h0M77.4 142.3h0M101.9 96.9h0M232.9 140.1h0M181.5 114.2h0M234.7 146.6h0M89.2 223.3h0M115.1 208.2h0M204.8 101.6h0M220.1 131.3h0M171.9 238.9h0M83.7 159.3h0M178.1 163.0h0M198.6 199.6h0M185.0 78.3h0M117.9 81.0h0M171.0 200.1h0M166.7 205.1h0M174.5 159.4h0M128.6 77.6h0M166.1 130.2h0M111.9 127.0h0M160.5 137.6h0M225.3 196.4h0M184.8 82.3h0M101.4 96.6h0M213.4 132.9h0M141.9 104.0h0M135.3 167.6h0M79.0 170.3h0M124.5 144.1h0M203.8 226.4h0M212.3 164.5h0M91.1 149.8h0M162.2 139.3h0M112.3 122.3h0M172.7 188.2h0M135.8 169.7h0M85.1 87.6h0M134.7 89.6h0M103.5 127.5h0M175.7 194.9h0M110.1 162.0h0M206.6 118.5h0M106.4 144.5h0M194.3 102.7h0M195.4 127.7h0M184.6 225.7h0M140.9 172.5h0M198.8 163.7h0M104.4 192.2h0M222.5 109.7h0M201.5 124.6h0M185.0 117.5h0M213.1 144.5h0M134.7 188.9h0M178.8 208.4h0M74.3 137.5h0M115.3 216.9h0M72.3 131.5h0M180.4 149.8h0M154.8 202.7h0M100.8 177.7h0M188.4 153.5h0M104.0 191.8h0M121.5 105.6h0M185.3 86.5h0M101.7 95.8h0M197.7 140.5h0M94.4 142.7h0M106.2 141.6h0M87.9 169.2h0M190.9 132.5h0M200.1 187.3h0M179.3 224.8h0M196.3 84.5h0M124.2 81.9h0M123.8 149.5h0M126.9 191.1h0M121.3 104.9h0M178.6 220.4h0M173.7 65.2h0M115.6 209.4h0M138.9 99.0h0M177.2 151.2h0M123.2 92.4h0M105.2 85.1h0M115.5 103.6h0M165.1 192.7h0M98.3 163.6h0M218.7 132.3h0M94.1 119.1h0M98.6 143.7h0M138.6 224.6h0M93.5 201.6h0M97.2 171.6h0M179.0 187.4h0M212.8 140.8h0M157.9 102.4h0M175.4 120.0h0M104.7 114.5h0M120.3 232.0h0M132.6 91.0h0M95.7 153.0h0M172.1 120.2h0M231.5 188.6h0M191.9 159.7h0M135.8 77.3h0M159.2 89.7h0M129.1 132.9h0M95.2 151.1h0M235.9 151.9h0M218.3 109.2h0M111.8 193.4h0M127.2 82.7h0M100.3 171.9h0M200.4 143.8h0M220.2 188.0h0M92.7 150.5h0M180.1 169.8h0M168.5 114.5h0M241.0 174.4h0M174.5 169.5h0M233.6 164.6h0M120.1 238.9h0M185.5 174.7h0M202.6 139.3h0M97.7 117.5h0M105.0 149.3h0M162.2 224.4h0M169.6 122.2h0M211.9 136.8h0M158.3 144.1h0M120.4 202.9h0M182.1 130.0h0M98.5 134.7h0M122.0 149.2h0M138.5 62.1h0M126.0 119.5h0M196.7 84.2h0M169.8 143.5h0M94.9 210.2h0M173.9 204.2h0M167.6 201.2h0M163.5 101.6h0M138.0 138.0h0M225.7 129.1h0M176.5 130.7h0M89.4 111.8h0M198.4 89.9h0M110.8 132.6h0M93.5 89.1h0M186.4 219.0h0M196.9 184.6h0M126.0 158.5h0M191.4 216.0h0M223.0 152.6h0M127.1 118.9h0M63.3 152.4h0M198.6 213.9h0M116.6 149.2h0M123.7 215.1h0M185.6 79.5h0M159.8 118.3h0M140.3 212.5h0M120.1 155.5h0M163.8 66.9h0M127.5 65.7h0M82.9 156.9h0M159.2 146.7h0M116.6 75.4h0M226.3 188.9h0M216.4 201.3h0M131.3 136.5h0M187.4 72.4h0M181.0 151.6h0M76.9 177.1h0M203.7 134.2h0M160.9 128.6h0M215.4 149.2h0M203.4 100.0h0M94.5 147.2h0M159.1 99.5h0M60.9 180.9h0M97.4 110.0h0M200.6 195.7h0M137.0 71.2h0M174.1 196.2h0M206.6 203.3h0M184.6 223.1h0M205.4 186.9h0M209.2 150.5h0M95.8 200.7h0M156.9 152.8h0M83.7 149.0h0M155.3 198.9h0M163.1 208.5h0M198.5 137.7h0M193.4 146.9h0M58.3 124.9h0M221.9 140.7h0M100.4 216.5h0M189.3 100.4h0M79.6 110.2h0M73.9 169.9h0M194.4 171.8h0M208.1 207.7h0M170.8 143.4h0M158.7 132.9h0M178.7 223.2h0M172.8 123.0h0M165.3 120.6h0M222.7 178.7h0M133.1 113.7h0M132.1 84.3h0M164.9 212.8h0M57.3 159.5h0M137.4 153.2h0M118.2 165.5h0M205.2 109.7h0M102.6 190.9h0M159.9 153.8h0M168.8 70.9h0M221.8 182.7h0M228.1 197.2h0M76.4 159.9h0M133.0 137.6h0M104.1 100.3h0M163.4 102.1h0M133.8 139.2h0M124.4 169.4h0M179.6 165.2h0M109.0 178.7h0M187.1 111.7h0M103.2 105.7h0M81.5 131.6h0M126.8 174.4h0M141.3 145.1h0M177.6 188.2h0M157.9 64.7h0M116.3 133.5h0M162.5 198.1h0M193.5 107.1h0M108.7 74.9h0M182.9 206.5h0M197.3 161.4h0M188.9 119.8h0M137.9 167.7h0M106.7 76.8h0M206.1 116.4h0M163.7 211.9h0M88.9 181.0h0M216.3 114.3h0M186.2 117.9h0M105.3 149.8h0M88.3 93.8h0M158.6 134.0h0M181.1 141.4h0M167.0 128.8h0M156.4 196.8h0M162.7 92.8h0M104.2 142.4h0M165.6 166.7h0M157.4 178.7h0M118.2 228.0h0M123.9 157.5h0M170.4 81.7h0M157.4 132.0h0M195.2 166.6h0M111.2 178.3h0M174.9 79.9h0M209.2 157.8h0M210.2 193.0h0M168.4 186.7h0M225.8 173.3h0M187.3 225.9h0M115.0 137.6h0M98.5 123.9h0M197.0 171.6h0M125.5 192.0h0M115.2 122.7h0M168.3 180.9h0M121.6 210.0h0M197.5 211.0h0M166.5 117.8h0M83.4 211.3h0M140.5 184.2h0M66.9 131.4h0M117.9 159.2h0M181.8 158.6h0M67.1 114.4h0M139.4 120.6h0M229.7 119.7h0M178.3 68.7h0M164.7 92.5h0M176.2 119.1h0M99.2 220.4h0M194.5 170.2h0M193.2 227.0h0M208.2 132.6h0M173.1 196.2h0M93.9 146.3h0M123.1 232.3h0M125.9 211.9h0M215.0 170.5h0M175.7 111.3h0M98.1 213.9h0M137.3 223.4h0M173.1 189.7h0M128.3 134.2h0M157.7 117.3h0M86.6 144.2h0M121.0 158.1h0M142.3 188.7h0M191.5 120.4h0M135.9 206.0h0M115.4 183.4h0M82.2 126.9h0M114.3 162.8h0M136.0 172.6h0M209.3 196.7h0M164.4 186.9h0M128.5 79.3h0M219.3 90.6h0M163.5 82.9h0M236.3 152.1h0M81.5 178.1h0M185.0 186.2h0M141.1 142.9h0M164.2 122.7h0M231.4 189.0h0M175.0 77.1h0M220.5 128.5h0M111.2 167.8h0M191.9 222.5h0M219.7 100.9h0M118.6 163.5h0M174.7 106.6h0M87.1 131.7h0M81.9 188.4h0M69.5 137.8h0M159.2 142.6h0M202.6 152.7h0M86.6 162.0h0M155.0 226.5h0M225.4 163.8h0M165.6 207.0h0M119.8 201.1h0M175.0 124.6h0" stroke="#74c2e6" stroke-width="2.4" stroke-linecap="round" stroke-opacity="0.62" fill="none"/>
<path d="M142.7 81.8h0M145.5 80.5h0M142.2 92.1h0M148.4 91.7h0M147.1 100.0h0M148.0 100.9h0M149.7 101.6h0M147.7 114.1h0M149.7 112.8h0M151.7 114.1h0M150.1 117.6h0M151.0 118.0h0M153.0 116.7h0M149.0 122.0h0M143.1 122.9h0M144.4 124.0h0M154.6 130.1h0M144.8 131.8h0M147.1 132.9h0M152.0 134.2h0M144.0 134.7h0M147.1 136.0h0M152.0 136.8h0M153.0 146.1h0M152.0 151.8h0M147.8 158.8h0M143.0 161.7h0M154.1 165.0h0M148.6 168.9h0M150.5 169.6h0M148.8 172.2h0M153.7 172.4h0M150.6 175.1h0M144.7 176.8h0M147.0 179.3h0M149.1 181.0h0M146.1 183.2h0M147.2 187.6h0M150.9 187.0h0M148.4 196.3h0M151.9 197.4h0M149.5 199.7h0M153.0 200.8h0M145.4 208.5h0M153.8 210.1h0M154.1 215.4h0M152.0 221.0h0M145.1 222.4h0M148.6 240.8h0" stroke="#f05050" stroke-width="2.4" stroke-linecap="round" fill="none"/>
<path d="M41.5 45.4L64 67.4M254.5 45.4L232.5 67.4M41.5 258.5L64 235.8" stroke="#333" stroke-width="1" fill="none"/>
<path d="M254.5 258.5L232.5 235.8" stroke="#aaa" stroke-width="1" fill="none"/>
<path d="M42.0 46.1V31.4" stroke="#bbb" stroke-width="0.9"/>
<path d="M46.5 50.3V36.4" stroke="#444" stroke-width="0.9"/>
<path d="M50.3 53.9V40.0" stroke="#444" stroke-width="0.9"/>
<path d="M54.3 57.7V43.5" stroke="#666" stroke-width="0.9"/>
<path d="M57.5 60.7V48.0" stroke="#777" stroke-width="0.9"/>
<path d="M60.7 63.7V52.0" stroke="#999" stroke-width="0.9"/>
<path d="M64.0 66.8V55.0" stroke="#aaa" stroke-width="0.9"/>
<text x="37.4" y="49.4" font-size="9.4" fill="#444" text-anchor="middle" >60</text>
<text x="37.4" y="85.0" font-size="9.4" fill="#444" text-anchor="middle" >40</text>
<text x="37.4" y="120.6" font-size="9.4" fill="#444" text-anchor="middle" >20</text>
<text x="37.4" y="156.2" font-size="9.4" fill="#444" text-anchor="middle" >0</text>
<text x="37.4" y="191.8" font-size="9.4" fill="#444" text-anchor="middle" >-20</text>
<text x="37.4" y="227.4" font-size="9.4" fill="#444" text-anchor="middle" >-40</text>
<text x="37.4" y="263.0" font-size="9.4" fill="#444" text-anchor="middle" >-60</text>
<text x="41.8" y="266.0" font-size="9.4" fill="#444" text-anchor="middle" >60</text>
<text x="77.2" y="266.0" font-size="9.4" fill="#444" text-anchor="middle" >40</text>
<text x="112.5" y="266.0" font-size="9.4" fill="#444" text-anchor="middle" >20</text>
<text x="147.9" y="266.0" font-size="9.4" fill="#444" text-anchor="middle" >0</text>
<text x="183.3" y="266.0" font-size="9.4" fill="#444" text-anchor="middle" >-20</text>
<text x="218.6" y="266.0" font-size="9.4" fill="#444" text-anchor="middle" >-40</text>
<text x="254.0" y="266.0" font-size="9.4" fill="#444" text-anchor="middle" >-60</text>
<text x="42.0" y="21.9" font-size="9.4" fill="#444" text-anchor="middle" >60</text>
<text x="45.8" y="27.4" font-size="9.4" fill="#444" text-anchor="middle" >40</text>
<text x="50.2" y="33.0" font-size="9.4" fill="#444" text-anchor="middle" >20</text>
<text x="54.3" y="38.1" font-size="9.4" fill="#444" text-anchor="middle" >0</text>
<text x="57.0" y="41.9" font-size="9.4" fill="#444" text-anchor="middle" >-20</text>
<text x="60.3" y="45.9" font-size="9.4" fill="#444" text-anchor="middle" >-40</text>
<text x="63.6" y="49.9" font-size="9.4" fill="#444" text-anchor="middle" >-60</text>
<text x="41.6" y="13.7" font-size="10" fill="#444" text-anchor="middle" >Z</text>
<text x="18.3" y="156.6" font-size="10" fill="#444" text-anchor="middle" >X</text>
<text x="148.0" y="286.1" font-size="10" fill="#444" text-anchor="middle" >Y</text>
<g stroke="#dcdcdc" stroke-width="1" fill="none">
<path d="M347.6 47.8H540.1V260.9H327.1V47.8"/>
<path d="M349.6 69.80000000000001H518.1V238.20000000000002H349.6Z"/>
</g>
<path d="M466.3 117.2h0M454.4 168.8h0M421.1 133.4h0M411.5 227.5h0M401.1 84.8h0M370.1 201.5h0M476.5 151.0h0M401.0 191.2h0M450.8 117.9h0M379.4 225.4h0M456.0 199.3h0M403.4 64.8h0M482.6 222.0h0M399.4 78.3h0M413.9 156.3h0M419.0 62.4h0M387.0 170.7h0M491.0 193.1h0M418.7 158.2h0M397.5 217.9h0M342.6 144.3h0M353.6 112.7h0M376.0 167.0h0M486.6 195.7h0M407.3 145.4h0M390.5 158.5h0M497.8 115.1h0M468.1 232.6h0M395.7 102.8h0M468.5 141.9h0M482.6 77.2h0M480.7 183.5h0M500.8 101.5h0M474.2 225.9h0M477.6 173.6h0M484.7 96.7h0M450.5 95.2h0M365.7 174.7h0M387.6 166.0h0M464.2 201.6h0M467.3 122.3h0M482.2 91.8h0M488.0 135.4h0M370.4 131.1h0M522.5 128.3h0M411.9 142.7h0M398.0 181.7h0M495.6 116.5h0M490.2 182.5h0M413.6 159.3h0M490.6 177.9h0M383.7 145.5h0M494.5 130.7h0M399.8 73.6h0M371.1 142.5h0M460.6 234.7h0M468.0 129.6h0M459.3 134.6h0M394.8 176.6h0M409.1 133.7h0M520.8 125.9h0M483.7 141.5h0M384.4 216.5h0M393.5 179.5h0M419.1 106.3h0M386.2 104.4h0M403.3 129.5h0M420.9 206.2h0M484.9 174.4h0M456.8 118.9h0M452.7 170.1h0M425.6 136.8h0M385.3 150.0h0M475.4 154.8h0M458.3 98.7h0M395.9 140.4h0M414.9 209.8h0M446.0 148.4h0M472.6 191.1h0M376.4 168.6h0M457.9 199.3h0M495.3 216.9h0M459.9 161.9h0M495.5 191.5h0M510.3 166.5h0M418.2 195.2h0M464.3 82.1h0M402.6 160.7h0M485.7 190.0h0M424.3 144.9h0M448.1 117.5h0M454.1 221.6h0M456.1 183.5h0M468.7 117.2h0M399.9 107.4h0M404.5 142.3h0M410.7 71.3h0M512.6 180.9h0M451.5 191.7h0M465.5 85.1h0M413.6 141.4h0M413.7 148.7h0M380.3 101.4h0M415.6 156.3h0M449.5 192.2h0M441.3 175.4h0M356.0 185.6h0M366.1 117.7h0M403.9 233.4h0M441.8 174.2h0M419.0 208.4h0M496.1 186.2h0M488.7 228.1h0M447.8 156.6h0M462.1 89.7h0M447.4 106.3h0M443.3 166.5h0M386.4 193.6h0M499.9 146.3h0M444.8 160.1h0M452.7 177.0h0M456.2 203.7h0M408.2 209.9h0M367.4 184.6h0M416.9 153.3h0M447.5 135.5h0M465.9 134.8h0M408.2 173.3h0M373.4 216.5h0M354.8 172.4h0M505.2 179.7h0M381.8 174.7h0M397.0 215.9h0M477.0 147.0h0M385.4 212.3h0M382.2 169.7h0M502.8 170.0h0M370.2 135.7h0M408.0 93.0h0M456.0 208.5h0M374.6 133.7h0M447.6 148.3h0M508.0 98.4h0M363.4 169.9h0M456.6 179.0h0M359.2 205.5h0M455.8 125.4h0M478.2 96.0h0M475.7 221.7h0M467.7 149.8h0M396.5 166.1h0M447.7 206.2h0M422.3 136.7h0M463.2 124.2h0M469.1 130.4h0M484.4 101.2h0M464.8 176.4h0M441.2 118.3h0M384.6 145.1h0M414.1 165.5h0M388.6 163.8h0M470.0 216.6h0M399.0 88.2h0M390.0 107.6h0M418.4 150.4h0M492.0 114.7h0M498.2 153.8h0M460.5 88.8h0M445.9 228.7h0M448.2 214.8h0M387.9 111.6h0M344.4 176.2h0M376.5 120.2h0M520.7 181.1h0M418.7 101.7h0M468.5 84.5h0M395.7 183.2h0M488.9 138.2h0M511.2 174.8h0M476.0 219.1h0M465.3 185.8h0M417.5 103.7h0M510.6 194.4h0M385.5 99.8h0M461.7 112.2h0M446.6 182.5h0M358.4 160.3h0M383.7 177.0h0M368.2 94.9h0M463.0 140.8h0M403.5 117.3h0M451.0 148.0h0M360.8 165.5h0M474.7 157.2h0M390.3 205.1h0M485.2 116.1h0M419.6 218.5h0M504.8 130.2h0M382.1 220.9h0M493.4 145.8h0M476.9 185.0h0M505.1 211.9h0M464.3 158.7h0M470.2 223.3h0M391.9 191.3h0M421.5 197.1h0M387.7 203.5h0M421.6 163.3h0M379.1 109.3h0M456.2 86.4h0M487.8 174.5h0M452.2 177.8h0M379.8 171.5h0M454.0 192.2h0M418.4 119.8h0M386.1 108.6h0M404.3 195.3h0M479.3 232.9h0M420.2 174.8h0M495.3 107.4h0M443.7 205.1h0M446.7 157.0h0M444.7 140.7h0M359.7 133.4h0M468.7 74.3h0M425.1 218.8h0M464.0 206.1h0M386.5 184.6h0M390.4 130.0h0M447.5 202.1h0M417.7 72.3h0M366.7 159.6h0M415.4 192.5h0M512.7 139.7h0M507.9 153.3h0M410.9 109.1h0M439.8 122.8h0M501.2 102.3h0M425.9 64.4h0M439.8 93.6h0M452.5 157.3h0M364.8 111.1h0M486.8 190.3h0M450.0 140.7h0M491.2 186.9h0M398.1 172.8h0M448.8 61.8h0M477.2 231.1h0M444.2 123.9h0M452.9 201.8h0M400.8 169.1h0M469.2 169.4h0M371.2 93.4h0M425.6 123.7h0M471.4 97.0h0M419.3 192.2h0M459.1 100.1h0M445.4 128.2h0M380.5 189.5h0M392.6 93.2h0M385.7 215.6h0M417.1 141.0h0M367.7 159.2h0M452.0 65.9h0M480.4 75.3h0M471.4 208.0h0M497.6 174.7h0M451.9 201.2h0M479.8 231.8h0M415.5 213.7h0M417.7 87.1h0M477.9 202.3h0M385.0 189.0h0M440.6 135.5h0M384.8 125.3h0M452.0 202.1h0M412.1 176.4h0M461.7 160.1h0M422.4 143.6h0M456.2 115.0h0M458.4 124.5h0M355.9 152.6h0M483.3 104.4h0M471.1 205.3h0M443.4 186.4h0M408.1 202.6h0M367.0 169.4h0M442.8 88.9h0M418.4 134.9h0M362.8 156.3h0M497.8 149.1h0M464.5 235.6h0M389.4 157.8h0M494.6 177.5h0M424.8 151.5h0M494.7 162.4h0M460.4 158.2h0M487.7 115.4h0M380.9 227.4h0M387.1 171.6h0M446.4 157.7h0M405.1 186.4h0M454.8 155.2h0M485.2 144.7h0M444.8 238.5h0M423.2 204.1h0M489.9 120.3h0M442.9 165.0h0M474.0 138.4h0M468.6 116.5h0M445.5 71.3h0M362.4 160.9h0M471.6 225.8h0M453.4 196.2h0M418.3 98.0h0M425.9 164.2h0M385.4 199.3h0M455.7 195.8h0M412.9 178.4h0M359.7 163.9h0M402.0 129.3h0M470.2 225.7h0M472.2 203.3h0M483.1 168.8h0M506.1 141.0h0M390.8 95.7h0M422.3 182.5h0M376.3 204.5h0M416.6 93.9h0M468.2 206.8h0M405.7 162.2h0M349.4 169.4h0M460.5 127.1h0M378.0 113.2h0M418.6 137.7h0M440.1 202.8h0M520.7 171.7h0M451.6 119.5h0M397.9 109.1h0M499.8 200.5h0M387.8 159.5h0M402.2 129.0h0M463.9 205.4h0M371.1 143.2h0M410.4 181.2h0M445.5 74.8h0M473.9 101.6h0M475.7 111.1h0M374.6 209.8h0M377.1 113.3h0M344.4 148.8h0M452.2 117.2h0M367.7 157.7h0M441.1 203.6h0M392.5 204.9h0M475.2 179.3h0M468.5 185.4h0M390.7 225.3h0M515.0 174.5h0M518.3 136.9h0M388.8 129.0h0M475.8 235.2h0M416.6 148.4h0M440.9 183.9h0M502.4 159.1h0M491.0 151.2h0M393.5 128.2h0M493.4 172.2h0M471.6 100.7h0M442.3 216.4h0M478.2 164.4h0M458.2 126.4h0M450.6 210.1h0M445.4 187.4h0M459.9 122.4h0M408.0 143.7h0M399.8 208.1h0M378.5 134.7h0M380.1 89.4h0M487.4 194.5h0M449.4 177.6h0M502.7 127.4h0M456.0 211.7h0M444.7 216.3h0M413.9 210.9h0M460.1 101.7h0M494.3 102.8h0M421.4 197.8h0M382.5 192.2h0M448.0 119.7h0M386.8 94.8h0M388.6 168.6h0M473.3 152.4h0M408.1 120.1h0M425.9 231.9h0M443.7 118.5h0M396.9 120.7h0M387.1 161.3h0M402.8 203.1h0M479.5 112.4h0M475.7 168.0h0M382.3 78.6h0M356.1 122.2h0M479.2 178.5h0M422.5 145.9h0M368.0 120.6h0M515.5 147.6h0M419.3 136.8h0M467.9 150.9h0M441.9 217.0h0M364.7 149.9h0M490.0 165.0h0M462.1 81.0h0M517.3 166.8h0M416.1 126.1h0M443.5 74.6h0M493.8 200.4h0M405.8 117.9h0M418.7 208.0h0M469.9 101.6h0M503.7 92.6h0M391.9 148.3h0M421.6 105.8h0M391.1 219.7h0M467.6 137.0h0M368.9 171.6h0M449.8 195.2h0M452.7 170.1h0M418.1 100.2h0M473.8 211.2h0M424.7 72.9h0M454.7 160.7h0M494.6 175.4h0M414.9 212.5h0M399.9 164.1h0M477.3 175.9h0M448.5 136.5h0M457.5 163.7h0M443.0 64.9h0M495.0 207.0h0M487.9 142.0h0M467.3 152.4h0M441.7 143.0h0M407.7 143.1h0M388.6 191.9h0M426.3 129.5h0M354.2 112.6h0M394.3 131.6h0M502.4 91.6h0M481.2 175.4h0M457.7 88.0h0M426.3 130.9h0M394.9 212.0h0M468.9 231.8h0M447.8 205.6h0M347.5 167.9h0M472.8 157.7h0M403.0 149.9h0M370.0 200.1h0M459.6 130.9h0M454.8 155.8h0M440.1 230.2h0M513.9 130.7h0M415.1 81.5h0M473.3 219.5h0M350.7 169.7h0M425.0 140.2h0M491.2 188.2h0M475.0 167.9h0M384.4 139.0h0M384.9 212.6h0M484.2 169.7h0M464.1 107.5h0M493.5 155.3h0M495.6 146.3h0M392.0 147.1h0M365.6 124.9h0M456.6 122.8h0M411.8 162.3h0M407.4 191.9h0M474.4 133.9h0M524.9 129.0h0M364.4 204.3h0M393.6 212.9h0M448.3 194.1h0M473.8 167.3h0M401.0 144.2h0M426.2 148.8h0M480.4 207.3h0M388.4 192.2h0M400.8 213.4h0M388.8 147.5h0M354.4 118.9h0M453.4 98.9h0M388.0 95.7h0M487.5 218.0h0M403.5 132.1h0M471.8 163.9h0M358.2 200.0h0M502.0 194.9h0M387.9 174.4h0M376.3 143.5h0M447.7 205.8h0M372.6 138.2h0M470.0 145.0h0M500.7 201.1h0M408.4 189.7h0M465.4 150.9h0M383.9 212.2h0M446.6 179.0h0M351.2 160.0h0M441.3 127.4h0M416.6 78.1h0M395.1 205.8h0M475.6 198.0h0M354.0 196.5h0M446.3 92.5h0M393.1 158.4h0M458.3 208.4h0M458.7 87.8h0M512.4 196.7h0M420.2 116.7h0M478.9 188.1h0M476.5 193.9h0M423.8 189.8h0M492.7 118.9h0M400.9 123.9h0M407.7 70.5h0M409.2 187.4h0M450.2 85.2h0M440.3 193.2h0M464.5 95.9h0M393.6 71.1h0M424.6 151.0h0M467.2 227.2h0M495.2 153.3h0M477.6 178.9h0M360.6 186.4h0M407.5 157.1h0M444.9 237.0h0M478.7 128.3h0M404.9 124.7h0M498.9 137.6h0M453.0 110.1h0M484.4 196.3h0M400.4 171.3h0M374.0 168.5h0M491.3 149.2h0M421.6 134.8h0M423.1 207.0h0M368.4 123.6h0M456.7 207.3h0M440.5 200.3h0M439.7 189.2h0M510.0 122.5h0M467.5 238.7h0M354.4 153.3h0M377.6 180.4h0M418.9 174.1h0M511.7 125.1h0M471.1 70.8h0M474.8 156.5h0M383.7 205.5h0M378.4 193.8h0M387.2 157.9h0M449.6 203.2h0M392.9 126.8h0M409.1 156.9h0M460.9 182.4h0M469.3 159.5h0M364.5 179.2h0M491.1 199.0h0M421.7 215.0h0M461.2 203.0h0M350.9 175.1h0M465.0 68.0h0M478.9 167.1h0M425.6 176.9h0M365.5 149.9h0M414.7 122.3h0M472.4 201.2h0M369.9 119.8h0M389.0 102.4h0M419.7 135.0h0M389.9 80.0h0M414.5 126.0h0M452.8 219.2h0M386.4 187.0h0M418.9 200.5h0M382.7 182.9h0M508.7 111.1h0M365.1 128.9h0M407.1 137.3h0M461.9 189.1h0M414.2 149.7h0M492.3 167.4h0M394.8 131.4h0M502.7 133.8h0M389.7 192.4h0M388.4 193.7h0M453.0 134.5h0M457.1 223.6h0M448.2 211.1h0M481.0 141.2h0M456.0 107.9h0M461.5 105.1h0M487.1 138.5h0M364.1 94.5h0M453.1 108.7h0M388.0 168.5h0M442.0 78.9h0M450.5 175.4h0M400.0 163.2h0M479.3 86.4h0M515.1 139.0h0M387.5 120.1h0M383.2 100.7h0M470.9 143.1h0M459.9 102.3h0M466.7 78.1h0M364.7 148.5h0M498.3 155.9h0M474.7 150.5h0M394.4 135.2h0M450.2 152.9h0M443.9 115.8h0M357.3 129.1h0M380.2 144.4h0M471.1 143.1h0M482.1 196.0h0M374.3 198.3h0M455.7 171.3h0M471.6 107.6h0M508.8 182.5h0M452.8 82.7h0M363.8 110.1h0M350.0 129.3h0M386.8 229.1h0M404.6 154.6h0M482.4 153.5h0M448.9 96.0h0M455.0 214.3h0M488.9 97.4h0M387.8 105.4h0M471.5 219.7h0M462.6 198.1h0M406.4 166.4h0M443.3 197.4h0M352.4 173.0h0M453.2 114.8h0M512.5 152.5h0M417.3 153.0h0M507.1 160.1h0M507.9 139.4h0M368.5 160.6h0M380.7 198.2h0M477.0 115.6h0M372.0 103.9h0M388.3 119.4h0M397.3 175.3h0M449.0 120.9h0M458.5 125.1h0M466.8 169.3h0M463.3 232.3h0M502.4 147.5h0M401.1 91.1h0M467.9 219.3h0M511.7 152.1h0M445.7 216.0h0M404.9 113.9h0M481.7 167.7h0M489.2 141.5h0M482.8 111.2h0M501.6 108.1h0M382.2 150.8h0M398.7 76.9h0M457.4 110.5h0M415.6 227.7h0M394.0 100.2h0M424.0 233.1h0M442.0 192.7h0M453.8 137.8h0M376.8 134.3h0M507.0 116.7h0M408.7 172.9h0M491.6 221.3h0M465.8 145.2h0M483.1 96.5h0M447.7 226.0h0M422.4 189.2h0M461.7 184.9h0M410.0 187.1h0M378.8 191.7h0M402.6 126.8h0M473.4 216.4h0M415.4 85.3h0M445.7 103.6h0M502.0 144.8h0M505.2 211.2h0M408.8 103.8h0M503.8 183.4h0M411.6 118.2h0M449.1 128.5h0M443.8 166.1h0M400.8 110.8h0M426.2 135.0h0M514.9 161.0h0M459.3 100.1h0M390.4 178.2h0M485.5 157.6h0M362.4 133.1h0M420.3 178.4h0M398.9 118.2h0M455.4 128.1h0M452.0 203.2h0M393.2 174.2h0M443.1 186.5h0M455.2 170.0h0M385.9 231.0h0M349.3 133.6h0M356.7 124.2h0M410.5 121.5h0M523.2 167.6h0M388.5 126.0h0M467.1 214.2h0M380.8 134.1h0M452.6 153.6h0M481.6 154.7h0M474.5 122.3h0M459.2 74.8h0M462.8 160.1h0M402.3 141.8h0M387.1 95.7h0M516.5 121.8h0M413.2 171.6h0M373.1 102.4h0M374.2 136.8h0M445.1 201.9h0M407.3 196.3h0M480.0 144.0h0M517.7 118.2h0M410.1 105.5h0M418.0 162.6h0M352.7 158.3h0M446.3 117.8h0M363.3 180.4h0M418.9 163.2h0M463.3 182.0h0M472.9 129.1h0M395.5 158.1h0M426.1 163.6h0M452.4 195.7h0M423.0 153.3h0M460.5 98.8h0M467.5 136.2h0M511.3 127.2h0M501.8 180.7h0M449.4 210.6h0M369.5 180.1h0M371.9 196.4h0M486.5 201.9h0M401.1 215.7h0M396.9 138.7h0M415.7 112.7h0M361.0 122.7h0M445.9 67.7h0M423.9 128.1h0M377.2 190.3h0M461.8 146.3h0M443.9 197.1h0M460.2 113.8h0M421.8 195.6h0M470.3 183.4h0M490.1 97.1h0M486.7 197.2h0M497.0 183.9h0M409.9 111.2h0M464.4 89.0h0M397.3 231.1h0M460.6 146.8h0M497.8 99.0h0M498.6 122.1h0M476.3 134.5h0M372.9 141.2h0M398.5 211.4h0M484.4 205.2h0M386.5 178.3h0M422.0 62.3h0M446.4 153.3h0M467.3 159.8h0M443.9 106.6h0M424.4 71.4h0M494.7 139.6h0M379.6 146.7h0M513.6 202.0h0M416.3 174.3h0M380.3 145.3h0M414.1 196.2h0M425.2 144.0h0M502.4 133.2h0M356.8 152.7h0M387.9 228.2h0M417.4 139.7h0M465.3 161.1h0M444.6 184.7h0M462.8 215.6h0M353.0 145.4h0M464.3 82.8h0M507.4 94.8h0M486.8 191.0h0M452.3 111.1h0M358.4 135.0h0M463.7 99.9h0M491.6 104.0h0M507.0 188.4h0M404.2 104.1h0M465.1 133.4h0M356.7 135.0h0M360.2 160.2h0M501.3 187.8h0M449.0 212.7h0M401.2 177.9h0M378.1 97.9h0M392.8 173.5h0M453.1 155.0h0M466.0 140.9h0M398.0 104.1h0M366.1 172.5h0M482.7 182.7h0M393.1 147.8h0M403.0 219.1h0M447.1 67.9h0M487.5 179.6h0M381.5 110.4h0M472.0 195.4h0M510.4 133.7h0M400.4 202.5h0M424.6 152.0h0M441.9 143.2h0M412.6 136.5h0M518.5 135.6h0M464.0 216.7h0M370.3 214.8h0M404.1 134.7h0M516.4 121.3h0M404.9 173.7h0M409.2 199.9h0M357.3 138.9h0M357.2 165.2h0M510.8 160.5h0M478.6 233.6h0M407.0 171.8h0M474.6 89.2h0M387.3 151.5h0M406.5 140.4h0M518.3 183.2h0M414.7 123.9h0M457.6 142.9h0M469.9 174.9h0M450.9 143.0h0M416.5 86.0h0M418.0 201.8h0M386.6 193.0h0M376.0 139.1h0M457.8 110.5h0M474.3 105.9h0M474.9 153.8h0M505.7 169.1h0M471.9 98.4h0M453.9 207.5h0M484.7 121.5h0M480.4 185.2h0M446.4 130.6h0M370.2 117.6h0M363.8 194.3h0M454.3 93.7h0M365.9 131.9h0M374.1 185.0h0M394.6 225.5h0M445.9 119.6h0M401.3 156.1h0M448.4 89.2h0M413.2 233.6h0M407.2 141.2h0M447.5 119.9h0M455.7 205.3h0M361.4 157.3h0M376.8 120.0h0M441.3 85.1h0M405.0 201.7h0M419.0 230.7h0M459.1 132.3h0M351.0 119.2h0M471.9 146.9h0M446.2 107.0h0M420.3 238.4h0M457.9 126.9h0M488.6 193.6h0M511.5 150.8h0M445.5 211.5h0M474.0 158.8h0M385.7 190.4h0M469.4 218.8h0M468.5 169.6h0M500.9 119.2h0M483.3 109.3h0M493.6 160.7h0M442.8 194.3h0M509.4 173.6h0M423.2 140.6h0M407.4 196.0h0M416.5 203.3h0M475.7 193.5h0M352.0 182.5h0M425.0 125.9h0M452.1 114.0h0M420.6 181.6h0M418.7 134.6h0M380.6 199.0h0M444.1 186.1h0M525.7 156.0h0M441.4 232.1h0M527.0 170.4h0M472.6 207.4h0M442.5 181.3h0M442.9 66.6h0M400.1 130.5h0M346.0 143.0h0M451.8 145.6h0M412.9 81.5h0M381.6 111.1h0M385.6 163.9h0M425.8 104.7h0M495.0 166.0h0M422.9 136.3h0M473.2 184.5h0M458.0 67.6h0M481.0 162.1h0M469.4 102.1h0M419.8 167.7h0M462.1 232.8h0M414.3 145.1h0M488.6 214.6h0M488.6 190.1h0M469.3 179.1h0M446.2 192.1h0M441.9 191.9h0M396.1 113.9h0M453.3 167.2h0M364.4 104.3h0M391.1 192.6h0M458.4 128.0h0M482.9 140.7h0M377.2 180.5h0M513.2 162.6h0M365.1 200.6h0M370.9 154.2h0M364.4 108.4h0M508.4 190.6h0M483.9 86.5h0M447.9 79.5h0M382.0 147.3h0M405.6 184.7h0M457.1 211.0h0M379.8 148.2h0M422.6 141.7h0M382.2 159.9h0M425.0 197.0h0M364.8 168.9h0M445.4 143.0h0M459.0 172.4h0M402.4 200.4h0M386.0 97.6h0M369.1 196.4h0M476.4 90.9h0M363.3 147.0h0M493.4 154.9h0M406.2 210.9h0M379.6 158.7h0M489.4 135.5h0M375.3 131.0h0M491.9 205.3h0M384.7 140.8h0M470.5 186.6h0M461.0 69.2h0M397.3 117.3h0M385.9 106.9h0M397.3 144.1h0M350.7 194.9h0M354.3 180.4h0M509.2 128.3h0M363.6 167.9h0M461.5 137.8h0M420.2 132.7h0M411.0 171.4h0M402.7 192.4h0M505.8 174.2h0M362.2 163.8h0M409.2 160.4h0M420.0 111.5h0M372.9 172.2h0M478.5 220.8h0M385.3 219.5h0M489.7 178.7h0M485.7 110.1h0M452.6 243.5h0M416.7 85.1h0M416.2 79.7h0M441.1 174.6h0M463.9 169.7h0M349.6 121.7h0M403.8 213.7h0M390.5 87.8h0M403.3 149.7h0M401.0 183.8h0M456.8 163.8h0M456.8 114.8h0M409.8 120.3h0M509.0 113.1h0M469.2 186.3h0M366.6 148.5h0M364.6 111.8h0M418.0 66.3h0M363.8 174.3h0M422.0 206.9h0M451.1 221.5h0M478.7 215.5h0M491.1 118.8h0M462.4 188.2h0M470.3 221.1h0M397.7 106.0h0M451.8 169.7h0M402.5 149.7h0M409.8 93.8h0M486.9 182.1h0M374.0 208.8h0M472.1 97.2h0M402.7 217.8h0M358.3 180.5h0M514.8 126.5h0M511.8 121.4h0M423.0 128.8h0M474.0 230.5h0M505.7 179.0h0M450.3 233.4h0M400.7 146.6h0M457.1 187.8h0M386.0 192.0h0M421.9 81.8h0M469.4 228.4h0M394.1 121.2h0M365.9 155.3h0M453.4 129.5h0M405.4 118.6h0M449.7 160.3h0M421.4 109.9h0M479.9 126.7h0M386.2 200.0h0M389.9 122.6h0M487.8 142.8h0M391.6 203.1h0M403.9 73.0h0M444.6 133.3h0M399.6 160.3h0M458.7 69.2h0M351.8 150.2h0M404.7 158.0h0M459.1 182.7h0M446.3 198.0h0M386.2 77.2h0M366.1 145.8h0M503.2 94.1h0M479.4 76.2h0M467.6 105.0h0M462.5 169.1h0M465.2 196.0h0M481.4 147.1h0M389.1 104.2h0M510.3 156.4h0M425.5 147.6h0M446.7 208.6h0M512.6 148.6h0M452.1 178.9h0M466.1 110.6h0M483.7 224.9h0M477.6 179.6h0M360.5 188.8h0M362.5 145.5h0M440.8 128.2h0M487.9 154.6h0M396.4 86.6h0M479.4 101.9h0M352.1 117.5h0M481.7 171.9h0M465.8 117.5h0M480.9 156.2h0M423.5 126.8h0M409.8 147.9h0M441.1 154.6h0M410.9 191.7h0M491.7 131.0h0M481.9 153.3h0M374.3 98.0h0M415.1 226.4h0M420.9 117.1h0M351.9 190.9h0M412.0 188.6h0M407.8 127.8h0M392.3 223.8h0M360.5 190.9h0M465.1 195.9h0M483.3 80.9h0M410.3 138.0h0M442.0 170.1h0M416.4 154.3h0M373.5 171.9h0M407.0 182.4h0M372.4 155.1h0M351.4 167.5h0M385.6 111.4h0M423.9 127.7h0M502.2 210.8h0M449.3 71.7h0M456.3 117.9h0M477.9 78.1h0M441.3 162.0h0M368.6 162.2h0M407.8 102.4h0M457.6 166.0h0M404.4 163.0h0M406.1 145.3h0M504.8 194.7h0M462.9 162.8h0M421.0 189.7h0M473.4 158.7h0M415.9 133.5h0M506.3 137.5h0M408.6 185.3h0M367.2 199.1h0M410.4 106.4h0M413.8 74.6h0M500.5 176.3h0M519.7 123.9h0M488.0 167.4h0M381.4 190.6h0M457.2 178.2h0M468.6 136.2h0M514.9 188.4h0M365.3 129.8h0M480.4 153.8h0M454.3 110.0h0M403.8 111.8h0M389.3 146.2h0M496.9 122.4h0M446.3 207.0h0M469.3 163.7h0M445.7 94.6h0M379.3 142.8h0M418.2 158.7h0M410.0 152.2h0M416.0 236.1h0M460.9 136.4h0M387.4 113.2h0M343.6 158.8h0M361.9 125.9h0M474.4 148.2h0M383.7 215.7h0M485.2 193.2h0M511.5 170.6h0M349.8 125.5h0M480.5 203.6h0M440.8 142.6h0M368.7 98.2h0M409.5 176.8h0M358.6 186.6h0M450.9 178.0h0M443.1 202.6h0M479.7 99.4h0M454.2 157.8h0M443.3 162.9h0M470.0 84.0h0M476.1 114.2h0M466.2 172.3h0M455.1 72.7h0M490.4 203.5h0M443.2 172.2h0M376.2 122.1h0M405.1 156.4h0M477.6 192.3h0M444.2 103.0h0M449.6 185.3h0M473.6 122.8h0M373.8 122.9h0M468.6 111.4h0M377.3 95.0h0M451.2 186.3h0M391.4 172.0h0M445.1 137.7h0M371.4 197.8h0M365.5 197.7h0M456.1 125.3h0M479.6 226.6h0M378.2 89.9h0M421.0 155.7h0M467.9 69.1h0M395.4 234.3h0M371.6 162.1h0M394.2 145.2h0M446.4 186.9h0M460.2 142.8h0M398.0 94.8h0M361.2 142.4h0M449.3 159.4h0M377.3 113.2h0M388.0 192.1h0M496.1 172.0h0M452.2 148.7h0M380.2 119.6h0M418.4 173.0h0M475.0 161.5h0M475.0 81.5h0M470.8 96.2h0M405.3 173.1h0M495.5 144.3h0M393.4 150.9h0M487.4 99.3h0M489.5 103.6h0M356.7 144.5h0M460.6 196.1h0M442.9 187.3h0M362.9 119.1h0M493.8 105.2h0M444.0 168.4h0M422.5 217.7h0M370.0 124.2h0M383.7 136.6h0M452.5 166.9h0M412.0 151.0h0M417.4 135.6h0M420.7 73.0h0M475.5 213.8h0M482.4 138.9h0M397.8 175.7h0M455.9 65.0h0M349.3 115.1h0M487.7 172.1h0M494.8 126.1h0M401.4 113.7h0M473.0 173.5h0M355.1 169.6h0M420.8 209.5h0M387.5 201.0h0M420.0 171.3h0M407.9 129.0h0M401.5 77.1h0M402.1 106.5h0M366.8 173.8h0M405.7 183.6h0M482.8 133.4h0M402.6 205.2h0M455.5 125.1h0M376.6 177.2h0M403.8 108.4h0M472.0 156.3h0M481.8 139.9h0M420.3 167.1h0M417.2 135.8h0M373.3 121.0h0M448.9 112.2h0M372.1 135.4h0M484.9 131.3h0M489.4 178.5h0M446.8 157.3h0M403.4 146.7h0M357.9 177.0h0M468.3 110.1h0M486.6 160.0h0M466.5 158.5h0M474.3 234.3h0M479.0 136.3h0M502.5 147.5h0M519.4 165.9h0M444.4 201.3h0M384.8 114.5h0M447.7 91.9h0M413.0 167.4h0M395.4 235.4h0M382.7 119.8h0M475.4 123.6h0M507.5 132.9h0M412.7 86.6h0M379.9 168.0h0M419.8 151.8h0M408.9 220.1h0M446.5 164.7h0M485.8 120.8h0M466.1 213.1h0M441.0 77.1h0M393.7 203.5h0M417.3 105.4h0M404.1 233.4h0M496.2 192.8h0M482.1 205.2h0M507.7 168.6h0M415.1 220.3h0M512.8 160.4h0M442.3 198.5h0M443.8 163.7h0M381.3 161.3h0M443.2 125.2h0M460.7 170.9h0M413.3 152.9h0M400.8 232.6h0M379.0 152.2h0M472.0 154.6h0M392.6 165.8h0M387.1 194.3h0M371.3 157.2h0M370.4 181.1h0M478.7 89.7h0M445.5 213.8h0M411.1 123.5h0M440.8 184.5h0M481.6 231.0h0M367.4 168.3h0M388.0 120.0h0M358.7 164.7h0M505.6 180.4h0M487.3 124.4h0M463.0 92.0h0M381.1 152.8h0M485.8 156.6h0M455.6 210.4h0M450.6 205.0h0M500.1 126.2h0M491.0 96.1h0M449.1 192.6h0M419.8 174.8h0M390.6 161.5h0M353.5 134.5h0M481.1 113.5h0M518.7 151.7h0M450.1 105.9h0M394.4 156.4h0M426.0 108.9h0M480.3 167.1h0M379.1 122.5h0M372.5 131.4h0M418.7 167.9h0M393.2 144.9h0M447.8 145.8h0M402.0 190.4h0M406.2 205.9h0M411.3 126.7h0M372.2 152.1h0M466.8 136.0h0M525.7 156.9h0M418.1 161.3h0M469.5 176.4h0M370.5 151.7h0M507.7 187.1h0M406.9 133.8h0M389.3 130.6h0M419.9 148.1h0M450.1 114.0h0M450.9 171.5h0M359.3 109.5h0M517.2 126.4h0M399.8 86.1h0M501.3 143.5h0M444.2 166.5h0M511.4 146.7h0M467.9 201.8h0M414.0 162.5h0M477.1 188.0h0M444.8 231.2h0M508.9 109.3h0M425.8 168.9h0M448.0 200.3h0M470.7 79.2h0M382.4 166.7h0M420.6 170.1h0M385.5 144.1h0M506.6 182.2h0M390.1 132.5h0M422.4 227.5h0M400.0 120.7h0M485.9 84.6h0M510.7 155.7h0M356.0 139.2h0M425.7 88.9h0M469.7 164.4h0M502.7 135.4h0M389.3 115.3h0M446.2 232.5h0M410.1 77.8h0M392.9 139.0h0M454.6 174.6h0M453.8 152.5h0M363.4 209.6h0M473.2 128.4h0M388.7 128.9h0M389.7 231.2h0M480.0 135.3h0M460.3 123.1h0M474.4 180.0h0M412.9 172.7h0M424.2 80.9h0M380.5 226.5h0M414.0 203.0h0M386.4 182.8h0M469.5 160.1h0M409.8 212.9h0M359.6 120.6h0M391.7 165.1h0M497.7 108.9h0M455.7 100.5h0M447.3 117.2h0M491.2 170.7h0M491.6 201.6h0M380.0 169.3h0M379.7 164.5h0M407.1 122.1h0M395.2 158.9h0M403.6 134.9h0M486.9 112.5h0M472.3 137.7h0M414.7 220.0h0M377.6 103.2h0M412.8 124.9h0M501.2 136.5h0M441.8 129.7h0M413.1 111.4h0M481.0 194.8h0M484.8 137.1h0M476.4 149.0h0M500.1 171.9h0M477.9 139.9h0M408.4 228.0h0M448.5 184.3h0M453.6 81.9h0M491.8 111.3h0M378.1 133.6h0M495.6 158.4h0M474.4 113.8h0M391.4 165.9h0M381.8 145.6h0M474.4 209.0h0M446.0 195.0h0M413.2 122.4h0M421.2 68.2h0M509.7 171.9h0M391.4 194.9h0M475.4 111.0h0M394.9 184.6h0M409.5 150.7h0M486.8 121.6h0M454.0 80.6h0M497.1 180.6h0M352.1 145.3h0M493.5 129.5h0M480.7 107.4h0M358.8 196.9h0M392.8 127.8h0M464.5 163.3h0M458.6 126.1h0M401.4 74.3h0M425.2 164.1h0M363.6 162.7h0M469.6 196.4h0M411.2 129.4h0M442.8 179.4h0M458.3 179.2h0M422.7 75.3h0M394.5 215.3h0M447.5 65.1h0M506.7 200.5h0M456.2 170.6h0M451.7 167.7h0M425.7 107.2h0M379.9 154.2h0M423.6 169.6h0M377.8 176.6h0M455.3 141.5h0M499.0 166.2h0M450.9 98.4h0M462.5 222.6h0M388.2 92.4h0M375.3 121.7h0M372.5 210.4h0M460.0 205.5h0M447.6 138.4h0M443.5 132.2h0M391.5 152.6h0M503.3 157.9h0M452.0 192.2h0M495.0 215.3h0M388.1 223.0h0M404.4 140.7h0M404.7 139.4h0M352.1 119.9h0M445.0 145.8h0M383.2 204.8h0M378.2 105.7h0M457.7 230.2h0M464.1 210.1h0M347.7 187.5h0M375.0 131.4h0M419.6 167.9h0M490.5 115.8h0M516.6 179.3h0M497.2 124.1h0M491.8 204.1h0M354.0 158.2h0M451.0 195.2h0M409.4 167.9h0M452.0 188.5h0M401.0 224.7h0M416.9 172.6h0M459.0 135.2h0M457.9 100.3h0M474.6 213.4h0M451.4 185.8h0M416.7 203.2h0M400.4 168.9h0M394.6 114.8h0M483.0 123.0h0M422.0 142.2h0M362.2 145.7h0M423.7 135.1h0M449.0 72.4h0M482.3 119.4h0M476.9 127.3h0M424.9 206.5h0M406.8 150.9h0M466.6 158.5h0M493.0 101.2h0M387.6 220.3h0M454.1 142.9h0M379.4 127.6h0M484.4 200.6h0M344.1 164.5h0M506.4 113.5h0M511.5 155.0h0M398.4 177.5h0M510.5 200.3h0M479.7 218.4h0M499.4 107.9h0M485.0 201.3h0M441.5 124.6h0M396.6 101.8h0M452.2 111.2h0M510.4 165.8h0M400.6 215.9h0M357.5 117.7h0M470.7 96.8h0M410.8 130.5h0M424.8 179.4h0M412.4 184.2h0M491.4 117.4h0M478.1 94.0h0M457.9 204.1h0M365.1 177.8h0M361.6 125.2h0M363.0 102.7h0M440.1 185.5h0M480.1 200.2h0M396.8 125.2h0M469.6 230.4h0M422.1 155.4h0M497.2 94.7h0M491.9 184.0h0M394.4 99.2h0M513.9 166.3h0M392.0 131.9h0M522.9 167.8h0M406.7 87.6h0M381.9 215.1h0M483.6 193.0h0M482.4 192.7h0M444.4 116.2h0M456.5 171.6h0M479.8 119.1h0M415.0 217.9h0M485.7 172.9h0M454.1 167.6h0M412.6 218.8h0M391.7 221.1h0M501.4 135.2h0M488.4 80.9h0M378.5 137.2h0M404.4 91.8h0M407.9 159.9h0M483.9 174.6h0M383.5 193.8h0M420.6 132.6h0M441.6 95.4h0M442.1 184.1h0M423.5 197.1h0M495.9 209.6h0M471.3 108.6h0M366.8 151.3h0M402.0 90.3h0M457.4 96.6h0M415.7 147.6h0M478.4 124.2h0M419.3 216.3h0M454.1 139.4h0M447.5 106.9h0M477.9 154.7h0M362.9 138.6h0M519.5 159.9h0M506.8 96.8h0M399.8 176.7h0M411.7 94.9h0M475.2 72.2h0M395.3 209.9h0M501.9 129.8h0M475.2 230.3h0M386.9 141.2h0M365.4 130.1h0M393.3 165.4h0M467.1 169.2h0M448.2 73.5h0M393.9 94.4h0M376.9 190.5h0M470.8 81.4h0M490.9 119.9h0M401.7 164.0h0M369.3 211.2h0M447.6 98.5h0M465.2 167.5h0M470.4 151.5h0M439.9 97.3h0M387.7 96.3h0M483.8 189.1h0M462.2 71.9h0M407.7 139.0h0M454.4 228.4h0M455.0 201.9h0M451.2 189.3h0M386.4 184.1h0M411.0 224.8h0M461.9 205.9h0M469.6 151.7h0M458.0 113.7h0M375.2 140.3h0M390.0 141.8h0M481.9 187.9h0M377.5 148.2h0M417.3 131.1h0M389.2 99.7h0M482.6 159.2h0M494.0 128.8h0M490.6 204.4h0M414.8 177.9h0M400.6 81.3h0M404.8 90.0h0M451.3 62.5h0M366.9 146.1h0M449.7 107.8h0M474.2 107.0h0M473.5 136.3h0M347.9 159.5h0M424.1 134.0h0M416.6 119.6h0M439.8 182.3h0M459.4 103.7h0M500.8 182.9h0M388.9 222.3h0M457.7 135.8h0M500.8 171.6h0M410.5 181.4h0M465.5 232.3h0M415.4 146.8h0M486.1 200.1h0M470.3 168.8h0M482.6 122.0h0M461.4 145.5h0M457.9 142.6h0M415.1 76.8h0M471.5 174.6h0M397.6 94.3h0M420.7 125.7h0M469.4 177.4h0M413.5 114.0h0M439.7 96.2h0M364.2 184.2h0M421.0 217.4h0M488.5 93.4h0M464.1 96.7h0M439.8 97.7h0M473.6 121.3h0M384.5 107.8h0M421.2 181.3h0M410.4 93.4h0M413.4 94.7h0M463.2 157.2h0M374.6 147.5h0M402.7 163.5h0M409.9 141.1h0M490.8 182.3h0M496.9 131.6h0M391.3 140.7h0M424.8 185.1h0M490.3 206.1h0M510.6 108.8h0M365.4 161.7h0M394.5 229.1h0M461.1 210.0h0M515.1 173.0h0M368.1 164.4h0M425.7 178.9h0M372.6 181.7h0M504.9 193.6h0M405.5 228.8h0M387.4 220.5h0M458.9 135.4h0M521.7 151.7h0M381.4 194.6h0M424.4 160.7h0M370.7 114.1h0M366.7 210.6h0M441.6 153.0h0M354.6 174.1h0M397.7 133.1h0M369.7 143.2h0M456.6 181.5h0M425.0 217.4h0M377.9 150.8h0M354.5 168.0h0M495.0 111.0h0M372.3 169.1h0M373.2 157.5h0M461.3 174.2h0M343.0 161.2h0M477.2 123.2h0M389.0 172.1h0M494.3 178.2h0M486.4 93.9h0M371.2 183.0h0M477.1 209.2h0M349.5 170.1h0M446.6 126.1h0M398.1 166.4h0M489.0 90.8h0M472.1 197.5h0M441.5 177.2h0M497.5 87.3h0M464.5 97.5h0M419.6 169.3h0M457.9 202.0h0M473.6 151.8h0M517.1 139.8h0M473.1 208.9h0M476.5 108.8h0M391.6 153.1h0M448.1 153.6h0M389.9 80.6h0M506.6 193.3h0M477.1 149.5h0M384.0 190.2h0M479.7 98.6h0M408.2 214.9h0M397.5 181.0h0M401.0 104.5h0M404.9 114.9h0M407.6 124.6h0M421.9 170.6h0M455.4 229.0h0M465.2 100.2h0M451.7 117.5h0M441.0 77.6h0M422.4 111.7h0M417.2 124.2h0M499.0 156.1h0M445.4 102.1h0M485.9 90.1h0M420.6 83.0h0M469.6 224.2h0M383.0 153.7h0M520.1 150.1h0M412.2 206.0h0M466.9 174.4h0M399.6 154.9h0M468.2 82.3h0M406.7 93.3h0M498.0 104.5h0M360.6 141.6h0M385.5 159.2h0M406.9 172.6h0M356.6 122.4h0M368.2 141.0h0M393.5 88.0h0M418.4 94.5h0M466.0 89.2h0M446.5 105.7h0M381.4 187.6h0M414.3 124.8h0M440.3 215.9h0M460.2 171.4h0M386.0 153.9h0M419.7 239.3h0M451.8 97.9h0M351.5 136.2h0M504.9 103.3h0M465.1 207.1h0M507.6 130.9h0M484.2 119.5h0M465.6 200.3h0M497.6 179.0h0M482.0 163.5h0M359.4 202.2h0M454.4 186.9h0M354.4 149.2h0M469.9 125.7h0M393.9 80.6h0M380.6 82.6h0M400.5 84.3h0M419.0 140.3h0M394.9 155.1h0M422.3 171.8h0M416.3 67.7h0M367.9 192.0h0M371.8 90.1h0M365.9 197.1h0M523.5 152.4h0M442.3 134.3h0M446.4 90.0h0M444.1 156.6h0M385.0 113.5h0M498.1 116.6h0M411.0 174.9h0M406.2 221.5h0M442.9 231.3h0M453.2 228.3h0M408.3 171.3h0M467.6 96.7h0M401.9 142.0h0M423.3 125.1h0M405.1 168.8h0M483.0 156.1h0M396.9 146.2h0M448.3 150.0h0M455.2 81.5h0M386.3 130.6h0M524.0 154.7h0M458.9 179.4h0M380.2 218.5h0M517.1 132.8h0M442.9 121.2h0M457.8 188.8h0M490.2 172.7h0M412.3 218.0h0M410.2 108.7h0M375.0 139.1h0M402.2 158.8h0M419.0 132.9h0M446.7 165.5h0M476.6 231.3h0M460.9 85.2h0M421.6 127.7h0M470.1 225.2h0M411.5 155.2h0M388.9 210.3h0M458.9 170.6h0M372.3 95.7h0M480.4 179.3h0M443.8 189.0h0M419.4 161.4h0M469.2 100.0h0M418.2 153.7h0M366.5 196.9h0M408.2 189.2h0M486.2 141.2h0M494.1 96.9h0M366.0 153.3h0M467.2 80.3h0M394.6 184.6h0M454.3 191.5h0M475.8 103.3h0M462.2 109.0h0M445.9 206.3h0M419.8 230.3h0M449.9 160.8h0M439.8 228.7h0M360.0 191.2h0M369.7 170.7h0M420.5 135.4h0M384.4 166.9h0M481.0 187.0h0M374.6 86.5h0M413.2 121.1h0M475.1 138.4h0M481.6 83.3h0M466.3 223.0h0M468.5 94.8h0M408.7 202.3h0M410.3 136.6h0M457.4 227.9h0M499.2 135.6h0M419.4 137.5h0M369.4 169.1h0M501.0 96.1h0M385.7 92.0h0M450.1 178.2h0M410.5 230.2h0M409.9 196.4h0M374.7 208.7h0M370.7 110.0h0M395.8 106.8h0M391.4 158.9h0M453.7 220.4h0M482.8 162.5h0M380.7 197.3h0M455.7 215.5h0M420.4 163.9h0M441.8 219.9h0M424.8 170.7h0M456.9 200.4h0M448.3 84.8h0M491.7 143.1h0M458.5 157.5h0M457.0 115.7h0M483.2 185.3h0M487.3 171.3h0M502.7 182.0h0M405.7 134.8h0M482.8 151.0h0M384.1 127.6h0M384.9 133.2h0M422.0 119.8h0M463.0 189.8h0M465.4 231.3h0M442.4 200.1h0M446.9 188.3h0M491.2 115.4h0M375.0 157.5h0M453.6 162.7h0M419.5 70.8h0M422.7 86.3h0M350.7 129.3h0M488.1 205.7h0M395.9 205.3h0M390.2 127.0h0M492.8 135.6h0M508.3 203.7h0M466.3 155.5h0M449.0 163.2h0M485.2 191.8h0M398.3 219.3h0M455.0 91.5h0M372.2 188.1h0M410.1 158.6h0M402.3 223.5h0M458.8 231.4h0M466.2 122.8h0M504.1 102.2h0M386.4 141.8h0M487.1 195.3h0M440.6 115.8h0M419.0 87.4h0M365.1 135.9h0M417.0 178.6h0M386.3 129.2h0M497.3 109.0h0M400.8 169.0h0M385.8 148.9h0M415.4 130.7h0M351.0 147.0h0M366.9 186.3h0M487.5 161.7h0M406.4 118.3h0M467.6 145.8h0M375.6 126.0h0M441.7 191.7h0M387.6 183.6h0M422.3 62.7h0M420.6 99.7h0M381.2 115.6h0M399.1 148.8h0M396.6 122.9h0M393.4 218.0h0M396.6 85.7h0M495.6 223.6h0M459.0 182.8h0M354.9 144.2h0M396.0 226.0h0M518.2 128.7h0M410.3 197.7h0M363.5 186.6h0M421.1 199.3h0M463.4 83.3h0M452.4 129.5h0M420.1 246.5h0M454.4 142.1h0M440.4 154.4h0M364.3 175.7h0M400.3 157.0h0M414.1 233.6h0M383.7 179.4h0M487.6 130.9h0M468.6 137.5h0M476.6 126.9h0M399.5 123.9h0M401.7 109.8h0M479.3 135.4h0M498.0 142.5h0M395.7 73.0h0M483.9 128.0h0M470.6 186.0h0M412.0 116.6h0M491.3 122.5h0M397.8 161.8h0M406.5 166.1h0M444.4 142.0h0M344.9 145.3h0M382.7 142.6h0M454.9 124.6h0M352.2 167.7h0M395.3 86.7h0M423.7 216.7h0M442.8 156.4h0M415.1 221.9h0M475.0 194.0h0M396.4 158.5h0M453.8 107.8h0M450.0 211.1h0M485.5 204.5h0M385.7 204.1h0M365.2 145.3h0M472.5 193.5h0M416.8 218.0h0M405.1 236.4h0M469.5 155.5h0M442.4 181.2h0M386.2 204.5h0M407.0 207.2h0M478.9 141.2h0M365.4 149.7h0M363.3 154.0h0M417.2 146.7h0M487.4 163.5h0M399.3 99.9h0M354.6 197.6h0M420.0 100.4h0M485.3 135.6h0M496.5 166.4h0M477.6 164.9h0M392.1 103.6h0M382.9 183.9h0M397.5 82.6h0M415.5 142.2h0M527.9 146.7h0M469.4 239.1h0M343.8 145.8h0M480.1 75.8h0M468.1 117.9h0M469.5 114.2h0M423.9 83.6h0M418.5 146.6h0M379.3 125.2h0M457.8 202.5h0M420.1 104.6h0M394.4 183.8h0M496.4 129.7h0M387.3 108.9h0M348.2 148.9h0M502.6 174.8h0M515.7 194.0h0M454.5 65.6h0M379.1 117.4h0M475.0 167.3h0M357.3 137.9h0M395.4 121.4h0M375.5 158.2h0M458.9 125.7h0M403.9 66.8h0M504.6 176.0h0M470.5 184.0h0M482.6 173.2h0M454.6 157.9h0M393.0 156.9h0M411.5 181.0h0M441.7 118.4h0M444.4 113.3h0M462.4 161.0h0M388.6 162.3h0M468.6 125.3h0M388.8 109.5h0M477.8 174.1h0M458.2 64.5h0M478.0 115.4h0M463.0 224.6h0M387.7 204.6h0M402.5 104.1h0M379.6 162.4h0M440.4 122.6h0M420.4 111.2h0M410.4 105.8h0M405.4 106.9h0M446.3 132.7h0M451.9 95.5h0M491.5 212.3h0M343.8 147.3h0M366.8 169.4h0M465.1 130.6h0M380.7 212.3h0M440.4 188.2h0M480.7 88.4h0M460.6 214.6h0M416.1 136.9h0M383.2 79.3h0M419.3 81.2h0M495.5 220.2h0M395.2 219.6h0M459.0 136.2h0M386.4 129.2h0M468.9 113.8h0M425.3 144.0h0M446.5 234.3h0M380.4 207.3h0M358.5 153.9h0M414.8 210.2h0M424.4 129.7h0M473.9 195.5h0M472.6 184.6h0M459.7 89.8h0M442.1 128.6h0M465.4 223.4h0M425.2 204.6h0M385.7 91.2h0M374.0 139.6h0M366.7 196.8h0M367.1 168.2h0M486.2 166.2h0M409.0 77.2h0M500.7 171.7h0M453.2 118.8h0M425.6 89.1h0M402.8 242.3h0M470.4 227.3h0M419.5 139.3h0M452.4 228.1h0M411.1 240.8h0M497.6 165.7h0M503.2 119.5h0M487.8 148.1h0M367.3 108.8h0M402.1 236.6h0M467.8 123.0h0M454.9 112.7h0M368.5 107.3h0M502.5 185.4h0M456.4 148.5h0M450.0 119.4h0M515.9 177.8h0M484.8 108.3h0M393.9 150.5h0M440.1 72.0h0M379.1 196.0h0M489.5 102.9h0M424.3 166.5h0M505.6 207.4h0M364.9 138.9h0M517.8 160.3h0M425.6 159.8h0M506.4 152.1h0M502.2 137.1h0M464.1 205.8h0M391.0 223.5h0M474.3 191.6h0M374.6 176.4h0M447.1 195.1h0M422.7 125.5h0M419.6 191.4h0M404.2 228.3h0M370.7 138.6h0M479.3 89.4h0M381.7 198.5h0M408.6 125.0h0M367.3 207.7h0M446.0 218.9h0M379.1 145.7h0M343.6 163.8h0M456.1 155.6h0M412.6 230.3h0M415.1 102.6h0M404.3 235.6h0M461.0 117.0h0M479.3 169.3h0M360.2 134.8h0M442.7 197.4h0M507.7 137.9h0M479.7 164.2h0M361.7 117.6h0M466.3 173.8h0M378.1 167.9h0M480.0 146.1h0M389.1 208.9h0M449.5 240.9h0M386.4 115.7h0M407.9 171.1h0M482.2 203.0h0M474.4 224.2h0M483.2 101.8h0M464.1 233.2h0M442.3 160.4h0M376.6 87.0h0M465.1 213.1h0M417.9 101.4h0M449.5 217.7h0M480.3 162.1h0M442.0 78.0h0M500.7 172.9h0M507.6 109.9h0M389.6 207.0h0M380.1 176.0h0M451.1 68.0h0M357.3 138.7h0M503.6 182.3h0M419.5 105.5h0M484.1 136.6h0M366.9 92.2h0M495.6 142.5h0M460.2 236.5h0M487.7 140.3h0M401.5 80.5h0M409.0 123.1h0M385.7 118.2h0M395.8 115.1h0M420.6 70.3h0M411.5 114.8h0M384.6 147.4h0M365.8 118.0h0M452.1 106.8h0M502.1 165.1h0M393.7 195.5h0M373.8 178.8h0M411.6 177.1h0M497.0 173.6h0M386.7 178.1h0M404.4 117.2h0M354.3 159.2h0M366.5 123.0h0M403.6 99.6h0M509.2 161.9h0M444.7 169.2h0M421.7 200.3h0M448.2 178.4h0M413.1 122.5h0M393.6 121.7h0M418.6 202.8h0M482.0 200.6h0M417.1 218.1h0M426.3 162.5h0M399.3 193.1h0M505.4 104.3h0M456.0 206.3h0M482.0 138.7h0M413.6 156.7h0M404.3 138.2h0M457.5 218.9h0M379.3 193.3h0M482.7 176.3h0M399.2 128.2h0M376.7 178.8h0M381.5 159.0h0M373.2 159.7h0M448.2 172.2h0M388.7 208.0h0M450.9 214.8h0M411.7 73.1h0M400.2 82.4h0M372.0 158.9h0M377.3 204.4h0M472.7 201.4h0M497.5 134.6h0M510.4 122.8h0M478.0 92.6h0M376.1 82.2h0M463.8 211.7h0M382.8 193.3h0M449.8 188.7h0M460.7 82.2h0M374.3 160.7h0M388.8 193.5h0M381.3 196.1h0M462.0 203.2h0M441.0 123.8h0M349.3 180.6h0M475.2 104.3h0M424.1 81.9h0M488.7 121.2h0M364.9 109.5h0M384.5 147.3h0M469.9 144.8h0M346.8 176.7h0M469.1 90.7h0M493.3 198.9h0M484.4 113.5h0M398.7 218.9h0M415.4 77.4h0M457.0 84.6h0M424.3 148.0h0M411.9 204.3h0M449.8 218.2h0M418.6 167.1h0M449.7 102.8h0M496.0 153.2h0M487.6 164.9h0M389.6 116.4h0M455.3 106.4h0M425.3 68.7h0M490.5 154.3h0M425.0 120.3h0M355.2 184.0h0M519.2 173.3h0M468.8 66.1h0M516.8 109.5h0M385.4 179.8h0M354.7 161.2h0M493.5 127.2h0M394.5 132.6h0M393.4 188.5h0M358.2 172.4h0M415.8 175.2h0M491.4 205.0h0M479.0 148.7h0M513.8 154.7h0M474.7 191.4h0M361.1 168.2h0M361.1 150.6h0M449.5 236.8h0M508.8 196.2h0M412.5 152.0h0M447.1 238.0h0M406.7 147.6h0M372.5 116.7h0M497.8 166.1h0M487.3 211.2h0M451.8 151.0h0M366.2 179.6h0M493.8 148.3h0M396.2 189.0h0M485.6 171.9h0M386.8 76.2h0M475.2 174.1h0M377.8 96.0h0M405.4 126.5h0M394.4 97.4h0M488.9 157.9h0M399.7 120.0h0M400.2 203.8h0M388.7 163.5h0M420.4 147.6h0M412.4 125.5h0M424.2 158.0h0M383.9 144.2h0M445.2 120.9h0M447.7 200.5h0M397.8 198.1h0M415.4 220.4h0M423.7 199.7h0M423.2 122.5h0M409.1 153.3h0M475.4 135.1h0M451.9 178.9h0M524.0 152.3h0M397.6 136.5h0M484.0 151.0h0M424.6 90.5h0M392.7 186.0h0M473.1 172.6h0M445.6 95.7h0M389.4 202.2h0M497.3 116.2h0M404.6 100.4h0M515.3 106.0h0M442.2 119.8h0M461.2 121.9h0M398.1 120.8h0M488.4 154.6h0M371.4 113.6h0M441.0 234.5h0M461.8 178.1h0M464.3 179.4h0M499.1 163.6h0M347.0 171.1h0M504.0 155.7h0M422.4 187.6h0M453.0 171.4h0M496.9 112.7h0M444.1 201.2h0M510.6 167.2h0M457.4 227.1h0M416.1 240.1h0M448.6 117.3h0M397.3 117.4h0M464.1 130.1h0M366.9 152.3h0M480.1 98.2h0M448.5 121.0h0M519.8 131.0h0M478.0 184.8h0M513.0 151.5h0M419.2 221.6h0M483.8 158.2h0M473.7 106.0h0M464.5 171.9h0M398.8 178.5h0M416.6 149.7h0M508.8 176.3h0M508.1 142.6h0M407.3 101.3h0M372.3 200.1h0M424.6 160.2h0M447.6 117.7h0M441.2 86.1h0M388.6 195.7h0M465.3 170.6h0M479.5 118.7h0M456.3 178.7h0M506.5 152.5h0M394.9 85.0h0M457.2 87.8h0M462.4 82.9h0M507.2 113.5h0M371.2 110.1h0M504.0 116.3h0M474.0 111.6h0M484.8 172.9h0M445.7 194.4h0M461.0 197.6h0M460.3 114.5h0M476.8 116.0h0M456.7 108.0h0M485.5 179.7h0M401.7 187.8h0M376.9 102.4h0M379.9 111.5h0M460.4 146.1h0M449.9 240.3h0M506.5 169.5h0M394.8 111.3h0M397.4 75.1h0M513.3 163.8h0M394.0 156.8h0M386.7 113.9h0M363.0 143.2h0M482.4 145.2h0M386.7 167.6h0M386.3 106.2h0M490.8 190.5h0M393.4 233.4h0M390.6 146.0h0M361.3 197.0h0M394.7 197.3h0M477.1 182.6h0M473.4 194.5h0M403.5 221.1h0M392.6 203.8h0M479.1 178.7h0M487.7 193.0h0M466.0 159.4h0M413.1 107.5h0M364.0 211.4h0M454.7 165.4h0M414.2 185.0h0M371.1 192.0h0M492.0 129.6h0M411.0 114.3h0M411.7 152.9h0M459.9 122.1h0M358.0 137.2h0M474.5 229.0h0M459.2 156.9h0M454.1 230.4h0M476.4 182.1h0M417.5 125.4h0M410.1 110.0h0M389.9 98.7h0M491.8 182.0h0M468.4 171.6h0M507.5 132.8h0M388.8 185.0h0M405.8 189.2h0M369.4 208.0h0M391.9 180.7h0M397.8 172.8h0M391.7 103.2h0M398.1 115.9h0M400.6 141.3h0M454.6 145.3h0M510.0 128.9h0M456.8 64.6h0M493.9 135.9h0M386.5 190.6h0M491.6 215.7h0M395.3 105.6h0M395.9 201.5h0M356.7 166.9h0M395.4 107.6h0M407.5 126.4h0M449.6 107.3h0M389.5 74.2h0M382.0 171.0h0M411.2 175.8h0M443.7 143.6h0M417.9 164.8h0M459.8 87.5h0M494.7 181.4h0M390.2 224.7h0M462.4 145.3h0M378.3 142.6h0M450.4 178.0h0M507.6 148.1h0M407.0 112.8h0M421.1 243.2h0M464.9 88.9h0M458.2 224.0h0M478.3 124.1h0M461.7 145.4h0M351.3 134.2h0M502.9 201.4h0M422.9 109.3h0M376.2 121.9h0M415.2 119.6h0M458.4 82.3h0M392.2 91.7h0M398.7 71.5h0M414.0 145.3h0M463.4 184.1h0M459.4 138.6h0M455.5 135.5h0M412.3 160.3h0M468.8 93.7h0M417.7 65.6h0M451.2 68.9h0M463.9 91.5h0M488.6 170.2h0M370.9 190.6h0M485.4 103.2h0M473.0 122.5h0M441.1 115.3h0M492.1 177.8h0M409.4 156.2h0M445.7 174.4h0M474.9 213.4h0M385.5 191.3h0M408.2 100.4h0M449.8 208.1h0M419.4 90.6h0M414.2 143.6h0M499.8 216.8h0M487.1 123.7h0M388.6 134.1h0M499.6 124.8h0M421.5 134.0h0M361.8 116.4h0M447.0 114.9h0M460.5 198.6h0M472.3 144.6h0M454.8 206.2h0M509.8 117.9h0M395.0 146.2h0M510.3 141.4h0M481.7 116.1h0M446.6 128.5h0M421.7 200.8h0M456.8 212.7h0M471.3 84.0h0M447.2 113.9h0M402.9 131.1h0M523.9 171.5h0M425.2 150.3h0M362.5 209.3h0M394.2 199.8h0M383.8 105.7h0M421.6 111.3h0M502.2 148.1h0M421.9 243.4h0M461.2 103.3h0M471.6 117.0h0M520.7 158.3h0M471.0 175.0h0M391.9 151.5h0M458.3 219.7h0M388.6 141.9h0M462.8 183.1h0M411.5 94.6h0M367.3 172.7h0M452.7 145.3h0M416.7 118.3h0M414.1 130.7h0M391.0 112.8h0M448.1 210.7h0M373.3 211.1h0M425.2 83.5h0M451.5 101.4h0M446.5 122.5h0M445.3 207.1h0M366.1 165.0h0M374.3 107.1h0M452.0 89.9h0M498.0 199.0h0M391.1 94.3h0M482.7 223.5h0M389.6 186.4h0M377.5 214.7h0M374.6 210.0h0M422.6 189.4h0M506.7 177.7h0M411.9 140.9h0M469.9 81.2h0M473.5 134.1h0M394.0 206.5h0M473.6 137.5h0M389.8 168.2h0M448.6 101.5h0M399.2 205.4h0M470.8 188.4h0M449.6 180.5h0M423.8 166.7h0M450.4 200.8h0M386.0 136.0h0M387.1 137.4h0M352.2 170.5h0M403.2 112.0h0M381.7 136.2h0M441.2 242.4h0M474.6 97.6h0M376.8 153.3h0M421.1 110.4h0M410.1 120.0h0M416.4 131.2h0M370.1 110.0h0M424.6 79.1h0M420.0 194.5h0M482.4 125.5h0M407.2 180.8h0M369.3 112.3h0M418.2 218.6h0M448.3 166.4h0M504.2 157.4h0M400.7 149.5h0M456.3 180.4h0M407.4 189.8h0M472.2 136.7h0M452.2 83.7h0M365.4 100.9h0M424.1 125.9h0M446.0 118.1h0M473.1 141.7h0M454.6 215.3h0M393.6 153.3h0M469.1 196.6h0M391.9 103.1h0M483.5 125.7h0M410.7 178.1h0M512.0 184.8h0M409.3 145.9h0M466.9 149.2h0M413.9 216.1h0M384.2 128.8h0M446.7 124.4h0M409.6 145.1h0M494.4 187.1h0M392.0 97.4h0M444.0 96.6h0M514.6 175.0h0M375.5 153.8h0M442.1 138.6h0M448.3 184.7h0M353.5 180.0h0M378.8 142.8h0M393.8 128.6h0M377.9 143.1h0M449.6 244.1h0M413.0 137.6h0M483.5 167.6h0M390.7 78.8h0M373.4 124.1h0M406.4 215.9h0M496.7 108.2h0M400.4 122.0h0M425.8 141.7h0M347.0 164.1h0M491.1 125.8h0M371.5 141.8h0M407.8 137.6h0M404.0 143.6h0M413.4 151.4h0M398.1 226.3h0M447.7 200.0h0M459.1 145.0h0M424.2 151.3h0M399.6 159.5h0M375.6 213.3h0M479.3 195.6h0M374.4 178.7h0M482.5 150.7h0M419.9 212.5h0M476.9 100.1h0M401.9 126.8h0M471.4 181.5h0M443.6 103.5h0M402.6 81.6h0M406.3 98.8h0M496.3 208.5h0M503.0 104.6h0M417.8 189.8h0M443.4 146.3h0M392.9 88.5h0M463.6 111.1h0M485.5 144.2h0M386.8 151.6h0M421.4 148.5h0M398.1 204.7h0M497.4 194.5h0M406.6 189.6h0M408.5 144.8h0M507.1 138.3h0M462.1 199.3h0M459.5 234.6h0M409.0 187.3h0M362.1 144.7h0M411.9 193.7h0M401.4 169.4h0M477.7 122.5h0M454.8 121.7h0M420.2 181.5h0M490.9 178.4h0M466.5 136.6h0M386.2 111.0h0M419.4 174.0h0M352.8 133.6h0M378.8 160.0h0M421.4 100.2h0M425.5 196.2h0M445.6 231.2h0M396.0 92.0h0M489.3 146.8h0M409.9 111.5h0M498.4 174.7h0M511.4 155.9h0M407.2 192.3h0M462.6 237.0h0M351.0 162.8h0M364.0 184.8h0M451.5 243.8h0M424.4 122.2h0M408.6 143.0h0M406.9 180.0h0M468.1 208.0h0M514.2 124.1h0M457.5 118.3h0M460.7 217.3h0M447.4 106.0h0M499.6 166.6h0M420.2 83.3h0M416.8 121.6h0M404.4 69.3h0M462.0 108.1h0M489.6 112.7h0M412.6 159.2h0M473.8 173.2h0M462.3 181.3h0M487.0 193.3h0M370.0 214.7h0M509.7 126.2h0M416.3 201.8h0M392.5 160.7h0M442.2 104.8h0M386.5 141.5h0M357.8 201.0h0M404.3 188.6h0M388.2 163.9h0M521.1 137.4h0M449.0 176.0h0M484.3 99.4h0M419.5 203.5h0M371.7 213.1h0M488.8 210.4h0M453.9 171.3h0M468.6 227.9h0M408.5 201.9h0M421.0 154.7h0M357.1 193.1h0M412.5 95.0h0M503.6 108.6h0M386.5 155.5h0M396.2 183.9h0M486.7 158.1h0M397.0 181.4h0M355.2 138.3h0M464.7 137.4h0M495.8 168.4h0M387.4 109.0h0M460.5 142.5h0M397.3 176.3h0M416.6 124.0h0M402.5 154.9h0M408.9 87.0h0M471.5 144.6h0M415.7 187.2h0M462.6 222.1h0M370.2 153.4h0M382.4 190.9h0M388.1 182.7h0M390.6 201.3h0M390.9 153.4h0M493.7 155.4h0M407.1 147.5h0M467.0 222.8h0M474.7 94.3h0M422.7 183.6h0M399.7 110.6h0M393.7 176.1h0M358.7 182.7h0M398.1 218.3h0M460.3 199.2h0M460.9 68.7h0M493.0 127.1h0M396.3 146.6h0M456.0 135.1h0M440.9 193.7h0M403.7 170.1h0M520.5 187.7h0M475.0 94.1h0M354.5 178.7h0M459.5 225.4h0M415.7 100.4h0M492.0 96.2h0M457.7 179.1h0M351.3 171.2h0M418.5 145.5h0M470.4 140.5h0M444.2 96.3h0M452.4 146.5h0M410.7 216.2h0M353.0 145.3h0M482.4 76.1h0M443.6 163.6h0M448.1 102.5h0M456.9 215.2h0M507.9 107.0h0M482.0 117.8h0M425.2 66.8h0M509.3 176.3h0M455.7 112.5h0M458.9 166.8h0M420.9 119.3h0M481.7 118.6h0M458.7 198.3h0M519.7 134.7h0M504.0 195.7h0M517.6 115.1h0M473.7 84.3h0M453.9 136.7h0M368.2 202.8h0M454.0 121.1h0M415.8 157.8h0M356.5 155.9h0M483.0 178.0h0M420.8 160.0h0M424.6 122.9h0M441.5 105.6h0M457.2 72.0h0M424.1 128.5h0M500.9 144.6h0M401.9 216.8h0M526.5 144.9h0M513.2 167.3h0M490.0 228.4h0M443.0 79.4h0M375.6 198.0h0M389.6 93.0h0M498.2 110.0h0M388.9 132.7h0M510.8 128.3h0M493.0 129.7h0M375.7 200.6h0M462.6 180.0h0M351.4 114.7h0M354.8 133.6h0M492.4 176.3h0M501.8 124.6h0M385.0 217.3h0M509.8 159.4h0M415.3 149.1h0M374.1 177.2h0M390.6 169.6h0M358.5 139.3h0M419.9 111.5h0M461.1 122.7h0M408.7 91.0h0M452.1 190.5h0M426.0 104.6h0M452.2 137.6h0M466.4 161.5h0M373.9 148.1h0M440.2 210.4h0M417.7 225.9h0M507.7 109.5h0M459.8 219.8h0M360.6 140.6h0M405.3 196.9h0M480.4 154.1h0M390.0 181.2h0M500.4 210.4h0M459.8 163.3h0M425.5 186.5h0M398.7 194.6h0M444.2 172.7h0M511.3 104.2h0M351.6 177.9h0M456.9 68.7h0M408.1 212.9h0M507.2 147.1h0M447.3 116.8h0M386.4 146.9h0M396.3 101.9h0M359.2 183.0h0M377.3 158.2h0M413.2 143.6h0M410.1 97.0h0M365.9 124.0h0M405.6 119.8h0M502.1 205.7h0M482.1 202.5h0M443.1 76.4h0M375.8 216.2h0M487.9 119.8h0M371.4 83.5h0M378.6 172.4h0M391.2 193.3h0M481.0 139.0h0M491.4 184.5h0M500.1 158.4h0M487.4 130.0h0M467.4 213.2h0M393.3 208.0h0M370.7 153.4h0M490.4 130.1h0M457.0 179.4h0M450.0 158.1h0M443.2 147.6h0M496.7 98.5h0M365.0 170.3h0M485.0 138.5h0M381.6 173.7h0M408.2 117.1h0M423.7 177.7h0M401.1 147.1h0M446.9 174.9h0M395.6 210.8h0M403.8 175.1h0M507.8 113.7h0M379.1 102.5h0M445.5 150.5h0M353.4 161.3h0M494.4 180.5h0M382.5 105.0h0M493.6 123.2h0M372.7 187.8h0M400.0 145.5h0M511.1 153.5h0M444.3 175.2h0M416.9 187.7h0M467.1 136.1h0M415.9 154.3h0M356.6 125.6h0M482.6 223.5h0M385.7 82.2h0M397.4 102.2h0M503.4 148.7h0M460.9 155.2h0M475.6 105.9h0M492.1 130.6h0M423.9 102.2h0M414.2 194.9h0M416.3 116.6h0M404.8 232.1h0M411.0 177.2h0M360.2 177.2h0M390.2 144.6h0M375.7 119.8h0M453.3 211.9h0M474.8 226.6h0M465.8 74.1h0M454.6 81.0h0M482.1 170.5h0M460.2 97.4h0M366.3 182.2h0M359.5 103.0h0M378.3 149.0h0M391.8 123.3h0M410.9 206.7h0M464.4 197.7h0M423.8 114.5h0M426.3 115.2h0M447.4 238.1h0M467.6 150.9h0M512.7 128.0h0M484.1 177.2h0M379.0 143.9h0M450.0 141.1h0M448.6 125.5h0M421.6 139.5h0M350.1 164.9h0M358.1 175.4h0M391.4 116.1h0M496.9 192.0h0M416.1 83.3h0M443.3 210.2h0M497.4 183.2h0M445.0 150.6h0M383.9 135.0h0M510.5 142.1h0M464.1 178.2h0M425.7 129.3h0M448.7 101.3h0M384.3 217.9h0M522.9 141.2h0M457.6 210.6h0M467.6 121.7h0M393.3 121.5h0M351.8 139.3h0M415.6 240.3h0M364.2 94.0h0M371.1 133.2h0M376.9 195.2h0M457.6 136.3h0M465.2 208.9h0M382.9 188.7h0M442.0 147.0h0M357.0 168.7h0M394.5 142.7h0M410.4 128.6h0M378.1 208.7h0M507.5 189.7h0M465.4 89.2h0M406.2 189.7h0M480.1 222.2h0M369.9 157.9h0M500.7 105.9h0M414.4 174.7h0M505.9 127.4h0M402.9 119.1h0M472.8 221.2h0M417.8 195.1h0M384.8 187.0h0M360.9 138.3h0M384.7 120.6h0M454.7 62.5h0M408.3 154.7h0M345.6 142.1h0M454.1 156.5h0M383.3 127.8h0M423.3 93.2h0M444.6 211.8h0M415.4 75.7h0M472.0 237.9h0M412.0 180.2h0M519.0 183.0h0M411.2 197.4h0M498.0 180.3h0M380.8 208.9h0M448.8 126.5h0M473.7 137.3h0M484.2 197.9h0M363.4 123.2h0M472.0 143.4h0M464.2 182.7h0M496.9 107.3h0M394.1 89.0h0M473.9 155.8h0M381.4 118.1h0M482.9 164.9h0M483.7 140.0h0M479.4 166.5h0M360.0 145.5h0M509.2 117.2h0M481.6 89.8h0M381.9 124.3h0M394.6 190.5h0M463.6 119.6h0M457.2 218.5h0M465.1 112.4h0M407.1 205.3h0M408.7 78.2h0M482.2 103.5h0M488.2 181.5h0M394.5 110.5h0M394.2 207.0h0M451.0 235.2h0M409.7 181.0h0M504.6 119.8h0M389.7 93.7h0M414.8 142.6h0M390.1 115.9h0M409.4 84.3h0M469.9 127.3h0M398.5 99.7h0M443.0 183.1h0M487.4 170.6h0M410.9 173.0h0M361.6 124.2h0M378.6 158.4h0M419.3 127.9h0M485.7 143.3h0M463.0 172.9h0M384.6 196.4h0M374.4 183.8h0M385.7 216.4h0M443.0 177.1h0M376.7 145.9h0M492.7 212.5h0M413.3 215.9h0M466.7 208.5h0M457.1 162.1h0M466.1 229.1h0M383.5 133.5h0M417.7 94.6h0M391.2 133.9h0M398.5 190.9h0M408.2 95.0h0M468.7 152.0h0M410.9 185.6h0M403.1 217.1h0M466.1 133.1h0M360.0 185.9h0M499.9 143.2h0M381.3 112.7h0M397.7 233.1h0M414.3 134.2h0M381.4 130.0h0M397.0 136.1h0M481.1 136.8h0M381.9 158.4h0M511.8 116.6h0M447.2 233.5h0M358.5 148.7h0M485.3 144.5h0M497.5 126.7h0M403.3 211.5h0M372.2 196.4h0M416.1 86.2h0M368.0 207.6h0M424.9 83.4h0M414.3 182.3h0M508.9 125.0h0M462.5 140.6h0M446.9 84.3h0M492.8 144.4h0M387.7 208.1h0M441.3 119.0h0M479.2 233.3h0M409.3 115.8h0M465.9 139.0h0M421.7 173.2h0M415.3 173.8h0M484.7 183.6h0M396.7 200.3h0M369.0 189.4h0M475.9 150.3h0M407.8 169.1h0M398.5 229.6h0M358.6 197.2h0M386.4 158.8h0M452.6 89.9h0M346.3 172.1h0M397.7 123.8h0M362.2 117.8h0M408.7 226.3h0M500.9 115.8h0M418.5 172.5h0M407.6 198.8h0M474.6 124.0h0M398.2 156.2h0M446.6 228.6h0M384.8 220.5h0M452.2 206.4h0M345.7 147.9h0M458.2 98.6h0M497.2 125.6h0M488.7 167.8h0M525.8 156.6h0M409.0 162.6h0M398.8 67.2h0M463.9 162.0h0M363.0 116.8h0M446.5 77.1h0M457.1 155.5h0M479.6 88.0h0M425.1 178.7h0M453.4 200.8h0M417.5 199.4h0M446.3 195.1h0M377.3 206.2h0M422.1 96.1h0M441.2 220.5h0M445.5 169.2h0M419.7 195.5h0M494.6 176.1h0M396.2 83.4h0M454.0 174.1h0M459.8 111.4h0M449.7 226.8h0M393.1 76.9h0M467.3 204.5h0M453.5 188.8h0M385.2 218.6h0M415.0 134.3h0M480.2 213.6h0M443.1 102.5h0M492.6 124.7h0M378.2 140.1h0M470.8 119.9h0M357.2 205.1h0M475.6 186.8h0M373.4 158.0h0M406.5 228.9h0M496.9 166.6h0M388.1 113.3h0M455.7 198.6h0M462.7 137.2h0M464.8 209.9h0M440.6 178.6h0M480.0 146.5h0M465.9 159.2h0M495.6 159.3h0M418.4 118.9h0M371.2 158.1h0M408.4 92.4h0M514.8 190.2h0M521.1 135.7h0M396.1 88.0h0M461.0 160.0h0M457.8 123.8h0M475.9 118.2h0M442.6 121.8h0M416.8 162.5h0M496.2 161.6h0M381.4 92.6h0M400.6 111.4h0M460.3 215.0h0M415.4 176.3h0M364.8 191.2h0M420.3 146.3h0M483.8 178.7h0M385.1 117.9h0M456.9 142.9h0M387.1 101.7h0M397.7 166.7h0M514.9 164.2h0M465.8 202.8h0M506.9 173.5h0M354.3 109.2h0M420.1 134.6h0M359.5 140.0h0M477.8 135.4h0M490.5 96.7h0M420.9 240.3h0M500.9 169.1h0M418.3 222.5h0M384.1 157.8h0M453.6 123.5h0M494.9 107.5h0M407.7 152.9h0M508.9 153.3h0M404.3 101.2h0M455.1 132.4h0M460.4 159.2h0M388.2 230.8h0M396.3 89.9h0M426.2 242.4h0M476.4 204.7h0M491.8 178.5h0M442.2 69.1h0M463.2 68.8h0M422.6 121.6h0M405.6 74.2h0M479.6 138.6h0M402.7 123.9h0M513.3 144.0h0M484.2 179.3h0M392.8 125.7h0M488.2 218.3h0M373.3 204.6h0M410.5 85.6h0M491.8 83.7h0M393.1 180.5h0M492.3 202.4h0M396.2 110.9h0M474.0 148.5h0M446.3 200.5h0M460.2 185.7h0M386.2 183.1h0M445.3 86.1h0M381.3 116.4h0M468.9 107.6h0M375.5 121.6h0M469.5 220.4h0M499.7 126.3h0M362.4 193.0h0M366.6 206.0h0M344.7 129.2h0M390.6 201.1h0M374.3 136.2h0M380.1 91.0h0M463.9 202.1h0M411.2 84.1h0M445.4 127.6h0M447.6 152.2h0M408.6 225.9h0M503.9 183.5h0M512.7 188.5h0M419.7 180.7h0M486.4 207.6h0M424.1 126.7h0M419.3 132.6h0M456.3 143.6h0M501.3 176.3h0M464.3 211.5h0M469.1 119.1h0M379.9 150.0h0M495.0 134.6h0M465.5 169.6h0M397.0 86.2h0M495.8 152.3h0M395.6 139.0h0M349.1 128.1h0M355.9 179.0h0M459.7 158.4h0M445.7 87.1h0M468.7 224.0h0M457.8 103.3h0M471.6 97.3h0M473.9 161.6h0M411.5 177.8h0M458.1 191.5h0M485.4 96.8h0M468.3 141.5h0M371.5 124.2h0M468.2 141.5h0M368.5 91.5h0M413.6 154.5h0M485.4 162.1h0M485.7 106.3h0M465.6 125.3h0M485.7 217.5h0M418.8 130.9h0M364.0 94.7h0M454.2 180.8h0M489.9 149.7h0M516.4 163.9h0M400.0 194.2h0M412.2 150.9h0M479.0 177.1h0M446.0 144.7h0M403.2 222.7h0M444.6 137.9h0M370.1 166.2h0M380.0 96.7h0M493.3 181.6h0M394.5 108.1h0M474.2 169.9h0M368.7 103.1h0M447.4 120.2h0M440.4 72.0h0M389.9 216.5h0M489.1 215.8h0M454.2 129.8h0M410.1 178.9h0M379.4 126.1h0M385.0 212.4h0M388.3 91.9h0M406.4 116.3h0M467.2 159.3h0M458.5 212.9h0M471.2 129.3h0M414.1 138.9h0M425.1 122.3h0M494.8 156.3h0M414.0 115.9h0M459.1 153.0h0M462.2 136.1h0M419.9 216.2h0M483.7 187.8h0M515.3 182.8h0M494.3 189.1h0M400.0 219.7h0M465.7 232.9h0M452.7 114.3h0M514.1 176.2h0M359.2 153.3h0M445.1 99.8h0M417.8 143.1h0M508.3 200.2h0M410.9 94.1h0M528.3 151.1h0M420.4 174.3h0M414.0 195.9h0M358.6 189.4h0M387.9 103.0h0M399.4 139.3h0M478.1 128.8h0M488.1 193.3h0M393.7 220.4h0M454.9 212.4h0M501.0 173.4h0M497.3 177.3h0M494.8 146.0h0M498.3 107.4h0M397.3 154.0h0M350.8 128.4h0M490.6 200.9h0M420.3 169.2h0M383.6 230.3h0M491.4 124.5h0M402.7 196.8h0M474.6 89.2h0M466.6 201.5h0M378.4 96.9h0M399.3 171.0h0M392.4 101.8h0M483.0 144.0h0M416.3 96.5h0M413.0 227.6h0M453.8 174.5h0M417.1 187.1h0M452.0 149.2h0M470.6 206.4h0M448.9 82.9h0M453.0 190.9h0M425.9 233.0h0M516.8 188.6h0M504.4 152.5h0M446.2 164.8h0M354.1 112.0h0M500.6 178.5h0M493.2 224.2h0M387.6 138.3h0M393.3 78.5h0M443.9 223.4h0M442.8 206.0h0M394.0 163.8h0M365.6 214.3h0M446.9 110.0h0M450.8 96.4h0M373.3 130.2h0M450.5 107.4h0M413.3 106.0h0M420.5 217.8h0M478.4 99.9h0M504.3 142.6h0M377.6 175.4h0M473.6 116.0h0M370.3 106.2h0M453.8 89.4h0M375.5 164.2h0M456.0 95.3h0M489.6 194.9h0M487.8 172.5h0M361.8 171.5h0M392.6 223.3h0M384.3 191.3h0M488.0 202.0h0M420.0 206.1h0M505.2 180.4h0M400.5 147.2h0M491.8 160.1h0M423.3 215.6h0M443.2 229.8h0M393.8 164.7h0M453.1 176.1h0M389.0 113.1h0M514.6 115.1h0M493.5 223.1h0M478.5 108.1h0M459.7 161.0h0M425.0 115.8h0M394.6 207.4h0M470.7 182.5h0M475.3 90.8h0M351.5 164.2h0M494.5 142.3h0M519.3 165.4h0M367.6 196.1h0M403.0 127.2h0M443.7 96.7h0M448.6 229.4h0M372.2 163.1h0M371.4 102.9h0M445.7 134.0h0M506.9 177.7h0M376.8 207.0h0M403.8 228.7h0M443.8 132.1h0M454.0 206.0h0M363.0 149.5h0M471.2 168.3h0M464.4 229.1h0M423.1 146.8h0M364.2 116.5h0M388.3 121.2h0M389.5 144.9h0M460.2 172.9h0M394.3 144.9h0M420.8 220.7h0M456.8 200.1h0M424.8 154.3h0M463.5 113.4h0M486.2 149.0h0M471.2 155.9h0M396.2 117.9h0M359.8 128.1h0M415.2 228.8h0M402.0 200.6h0M490.8 122.7h0M396.8 68.4h0M457.7 150.2h0M481.5 141.2h0M419.2 243.4h0M355.3 145.9h0M412.8 220.9h0M451.7 166.7h0M466.1 198.6h0M378.7 169.0h0M395.7 201.7h0M368.8 218.8h0M482.6 152.5h0M460.5 166.6h0M479.5 110.4h0M460.0 178.3h0M442.9 211.9h0M376.4 205.7h0M406.8 183.6h0M424.3 139.9h0M490.3 162.5h0M399.9 177.1h0M375.3 203.4h0M470.5 125.2h0M454.9 148.3h0M456.1 227.4h0M494.1 205.8h0M375.2 118.7h0M440.6 150.0h0M501.1 144.2h0M462.6 157.8h0M415.8 181.7h0M454.9 197.4h0M366.6 200.0h0M500.4 138.0h0M525.7 156.2h0M448.8 102.1h0M475.1 173.6h0M413.2 226.6h0M477.6 113.8h0M423.2 183.7h0M446.8 206.5h0M459.9 167.6h0M494.9 209.6h0M379.5 226.7h0M507.1 188.4h0M447.7 211.8h0M380.4 154.0h0M446.9 238.9h0M419.8 160.0h0M455.8 176.5h0M456.1 192.5h0M462.8 117.2h0M448.2 107.3h0M486.4 162.6h0M463.8 177.2h0M509.0 193.4h0M461.2 143.4h0M398.2 205.3h0M485.5 149.4h0M456.1 74.6h0M364.0 144.3h0M416.1 153.7h0M445.8 148.7h0M424.3 188.4h0M351.5 151.1h0M406.5 117.4h0M451.7 239.7h0M360.3 152.8h0M416.3 241.4h0M414.9 181.4h0M522.4 172.6h0M417.7 161.9h0M376.0 126.5h0M476.6 127.8h0M415.4 191.2h0M484.5 101.4h0M485.2 104.7h0M463.5 130.9h0M360.2 163.0h0M483.7 109.6h0M519.0 147.8h0M358.8 158.5h0M417.9 167.5h0M348.9 141.3h0M374.9 141.7h0M403.5 120.9h0M488.8 112.1h0M412.8 97.5h0M507.2 183.1h0M477.5 176.3h0M412.0 171.5h0M494.6 144.1h0M356.7 116.4h0M497.5 130.9h0M382.3 125.0h0M478.3 93.1h0M476.7 75.5h0M492.0 151.6h0M387.7 142.4h0M519.5 133.9h0M447.7 222.5h0M395.0 180.2h0M456.6 188.6h0M490.5 141.6h0M399.6 132.9h0M422.5 87.2h0M477.7 164.2h0M355.3 122.5h0M420.0 107.6h0M411.0 152.0h0M404.1 99.3h0M463.7 146.4h0M423.0 94.3h0M413.8 206.5h0M484.5 137.7h0M377.7 227.6h0M451.9 118.0h0M392.6 157.4h0M451.9 91.8h0M380.3 122.8h0M502.0 110.3h0M368.5 205.0h0M481.3 136.9h0M372.7 191.9h0M388.8 105.2h0M383.9 146.5h0M493.0 131.1h0M380.7 225.3h0M407.7 190.6h0M452.1 131.8h0M380.4 138.5h0M500.4 166.5h0M454.2 152.8h0M440.8 192.2h0M405.6 232.5h0M481.2 112.9h0M422.8 227.8h0M409.3 102.0h0M375.0 146.1h0M346.2 136.0h0M516.4 182.6h0M404.3 164.0h0M494.5 199.8h0M460.4 196.1h0M424.2 148.7h0M454.0 210.1h0M473.8 208.4h0M513.4 143.9h0M382.1 186.3h0M495.4 126.2h0M479.1 154.7h0M417.7 119.1h0M463.4 147.3h0M394.9 208.0h0M518.3 171.1h0M475.2 177.2h0M425.4 245.7h0M469.3 153.3h0M463.6 168.2h0M446.0 79.0h0M381.8 159.9h0M422.2 186.6h0M443.3 73.8h0M458.0 129.6h0M399.0 84.0h0M396.6 130.9h0M412.8 194.8h0M415.3 109.4h0M493.1 194.4h0M397.4 182.5h0M445.5 98.6h0M396.2 210.8h0M453.1 127.3h0M376.4 90.2h0M522.1 140.5h0M363.7 206.2h0M366.6 161.0h0M384.1 132.7h0M371.1 101.0h0M378.0 137.5h0M476.6 154.7h0M487.9 160.8h0M373.7 217.4h0M501.9 141.3h0M490.7 121.6h0M418.2 147.8h0M510.1 123.5h0M457.9 189.3h0M376.2 97.5h0M458.3 187.2h0M440.3 208.6h0M456.0 208.7h0M361.4 136.2h0M397.5 212.3h0M486.8 187.2h0M493.1 218.1h0M440.8 222.9h0M478.5 148.2h0M501.9 132.9h0M414.5 200.5h0M352.8 169.4h0M381.2 175.1h0M418.8 119.2h0M372.2 141.9h0M451.0 203.7h0M441.1 79.3h0M478.4 190.4h0M422.7 117.4h0M402.8 183.0h0M412.2 193.9h0M456.4 148.4h0M398.3 221.2h0M393.9 223.5h0M380.5 138.0h0M442.1 197.9h0M417.8 208.8h0M476.4 125.8h0M473.4 187.0h0M448.7 94.1h0M496.9 132.5h0M484.1 91.4h0M459.2 190.9h0M450.8 201.9h0M493.1 206.8h0M374.8 114.8h0M456.0 183.7h0M485.3 148.9h0M411.3 87.6h0M356.7 181.5h0M380.2 173.0h0M407.0 141.6h0M392.3 196.5h0M420.2 148.8h0M382.3 203.2h0M379.1 190.1h0M373.2 210.0h0M458.5 112.7h0M413.3 199.8h0M410.4 195.1h0M403.9 160.3h0M449.1 217.6h0M413.6 87.9h0M413.2 83.6h0M456.5 230.2h0M465.2 136.1h0M418.1 105.8h0M406.5 106.0h0M394.3 135.8h0M460.1 99.9h0M500.9 146.9h0M440.1 158.7h0M464.2 91.7h0M523.3 149.6h0M453.2 137.2h0M474.9 191.7h0M442.5 239.5h0M380.4 167.7h0M424.8 109.1h0M513.6 111.9h0M443.0 243.6h0M380.3 160.1h0M459.8 175.5h0M493.7 88.9h0M445.9 142.8h0M403.8 82.4h0M510.7 163.5h0M376.1 215.9h0M499.6 143.3h0M457.7 104.4h0M475.4 165.6h0M445.9 244.4h0M376.0 177.1h0M423.3 149.8h0M454.2 135.8h0M415.1 178.1h0M482.0 140.6h0M446.2 194.5h0M510.6 169.4h0M376.8 180.9h0M391.5 182.3h0M459.2 195.4h0M408.4 79.4h0M420.1 90.7h0M416.9 125.0h0M379.3 154.1h0M425.3 218.7h0M516.8 139.6h0M486.7 130.5h0M505.2 173.4h0M397.1 162.0h0M416.3 178.7h0M461.5 138.1h0M416.9 173.4h0M484.4 169.1h0M443.2 160.4h0M473.3 216.2h0M443.2 220.7h0M494.2 152.0h0M450.3 141.3h0M417.5 98.3h0M499.5 197.5h0M469.9 163.0h0M479.5 213.2h0M402.9 195.0h0M474.3 196.4h0M503.9 152.7h0M481.1 97.7h0M384.7 83.4h0M484.5 191.6h0M391.9 202.5h0M518.2 152.0h0M400.0 163.2h0M421.4 77.7h0M478.8 128.8h0M363.8 151.4h0M460.0 150.4h0M511.2 112.7h0M470.4 107.9h0M407.2 114.5h0M395.6 115.8h0M393.1 129.1h0M370.0 155.2h0M352.8 159.8h0M368.3 168.3h0M407.5 124.3h0M375.8 129.7h0M499.0 171.1h0M392.2 145.5h0M415.8 93.7h0M349.0 149.2h0M460.0 158.2h0M454.1 64.8h0M405.2 136.4h0M392.2 207.7h0M406.9 105.7h0M416.2 110.4h0M424.9 103.2h0M374.6 159.9h0M484.3 160.1h0M461.9 94.5h0M419.8 160.8h0M406.9 175.0h0M449.2 227.6h0M497.5 195.5h0M398.9 163.6h0M369.5 200.7h0M451.4 113.6h0M399.7 182.8h0M444.5 202.1h0M450.1 133.7h0M351.4 132.4h0M368.1 166.4h0M370.5 135.8h0M459.1 185.8h0M376.2 121.5h0M497.6 118.2h0M402.0 215.6h0M391.0 109.8h0M372.3 121.1h0M411.9 200.0h0M442.4 90.9h0M486.5 155.0h0M470.7 84.0h0M467.0 217.4h0M413.4 102.1h0M505.9 182.4h0M368.5 189.8h0M363.7 165.1h0M494.4 212.4h0M405.4 110.8h0M399.2 78.1h0M507.8 171.5h0M454.0 142.4h0M440.5 177.7h0M396.0 151.6h0M393.8 124.4h0M507.3 198.7h0M425.3 188.2h0M442.6 106.7h0M380.1 219.6h0M414.4 130.6h0M418.3 89.3h0M399.5 176.4h0M415.9 137.2h0M492.0 96.2h0M377.9 103.0h0M495.6 149.1h0M460.1 101.6h0M464.9 192.7h0M496.4 154.8h0M375.3 174.8h0M388.2 137.9h0M446.9 123.2h0M382.8 139.9h0M389.4 181.3h0M472.8 81.9h0M367.2 103.3h0M424.8 137.0h0M461.4 92.5h0M364.1 106.0h0M465.6 230.9h0M453.0 231.2h0M452.8 207.1h0M344.1 151.7h0M420.8 117.9h0M507.1 212.6h0M389.5 209.8h0M389.9 224.7h0M405.7 80.1h0M395.2 144.3h0M439.9 181.9h0M459.1 76.0h0M393.6 144.2h0M351.4 159.3h0M366.6 109.3h0M417.6 224.3h0M353.0 177.3h0M387.6 169.1h0M392.2 211.4h0M440.3 238.2h0M469.2 175.4h0M426.2 154.9h0M411.2 135.6h0M480.7 187.2h0M407.4 115.2h0M365.1 146.0h0M414.2 129.7h0M497.1 149.5h0M491.1 217.1h0M452.7 144.1h0M370.7 154.7h0M462.7 125.3h0M421.2 80.3h0M411.9 233.2h0M363.5 141.7h0M449.9 166.0h0M419.5 124.7h0M494.0 203.1h0M520.6 151.0h0M465.3 236.4h0M384.9 214.2h0M469.7 153.6h0M381.9 170.7h0M414.1 238.4h0M415.0 134.3h0M422.5 145.5h0M507.5 122.6h0M520.4 153.0h0M492.8 167.7h0M376.0 173.2h0M419.5 207.4h0M416.8 118.8h0M473.9 103.4h0M400.9 108.1h0M373.0 131.8h0M452.2 70.7h0M444.9 100.7h0M480.0 200.2h0M422.0 118.7h0M473.8 123.1h0M422.7 73.2h0M363.2 157.8h0M357.2 152.7h0M350.5 173.5h0M378.5 151.1h0M491.7 179.2h0M466.6 151.4h0M469.5 191.9h0M418.2 95.3h0M369.2 173.7h0M481.3 206.1h0M466.4 205.5h0M507.7 189.1h0M358.6 175.1h0M447.3 176.6h0M375.8 153.7h0M388.7 227.7h0M454.4 219.0h0M425.6 183.1h0M440.0 192.2h0M386.9 94.6h0M511.4 131.8h0M398.5 126.6h0M446.9 204.2h0M474.4 73.8h0M481.8 117.8h0M404.3 101.5h0M365.3 130.4h0M475.1 107.3h0M384.3 189.3h0M416.6 201.6h0M485.8 187.8h0M451.4 108.6h0M466.1 175.9h0M419.8 175.4h0M384.7 225.7h0M398.1 119.9h0M395.8 147.8h0M376.7 161.2h0M497.0 137.8h0M510.2 178.3h0M371.4 102.2h0M504.0 134.1h0M466.3 97.6h0M374.3 136.5h0M381.4 138.3h0M466.0 69.1h0M395.1 87.1h0M478.6 118.2h0M505.2 172.8h0M372.9 102.5h0M413.4 183.0h0M415.7 233.1h0M443.4 221.1h0M487.8 170.7h0M420.0 235.2h0M396.1 234.2h0M494.6 178.5h0M385.4 118.6h0M376.8 177.3h0M472.9 122.3h0M479.3 173.3h0M505.1 139.4h0M441.3 128.4h0M383.2 121.5h0M356.9 135.7h0M398.5 118.4h0M480.9 163.2h0M423.8 127.0h0M410.8 167.4h0M467.6 201.8h0M453.7 112.0h0M425.3 114.7h0M421.9 64.6h0M385.4 204.4h0M510.8 191.9h0M440.1 99.4h0M455.7 212.8h0M376.3 157.8h0M384.3 138.7h0M467.7 132.0h0M418.7 105.4h0M459.5 112.7h0M420.5 134.0h0M411.9 118.1h0M477.3 115.0h0M465.1 212.5h0M449.7 230.0h0M479.9 191.6h0M486.9 222.3h0M457.2 189.0h0M387.4 186.4h0M410.4 177.2h0M491.5 130.3h0M478.6 122.5h0M398.2 199.8h0M441.7 179.5h0M440.7 183.2h0M467.8 224.4h0M449.3 90.6h0M422.9 191.4h0M457.5 134.9h0M446.4 107.7h0M471.8 145.0h0M348.3 186.9h0M455.4 111.9h0M458.8 174.9h0M419.3 169.5h0M446.6 210.3h0M469.0 184.6h0M404.7 143.2h0M387.3 201.0h0M471.8 168.8h0M482.1 134.8h0M414.7 168.2h0M449.2 174.5h0M481.0 189.1h0M358.1 183.7h0M390.8 210.5h0M512.3 171.1h0M419.8 180.9h0M441.5 181.2h0M439.7 165.5h0M511.9 129.7h0M400.9 105.7h0M419.3 83.9h0M459.5 163.9h0M356.9 177.2h0M423.0 178.5h0M493.6 148.7h0M469.4 177.1h0M454.2 211.1h0M474.9 210.8h0M390.4 93.5h0M453.1 160.6h0M402.7 129.7h0M521.4 139.9h0M382.0 197.5h0M382.8 201.6h0M481.3 110.2h0M498.8 155.7h0M386.3 186.8h0M403.5 77.8h0M449.9 65.2h0M493.8 145.0h0M402.8 181.4h0M376.5 111.7h0M409.3 84.6h0M380.7 79.9h0M421.0 84.8h0M407.2 104.1h0M526.3 171.0h0M398.3 215.1h0M415.4 97.7h0M497.3 146.3h0M384.8 206.4h0M442.7 186.9h0M356.3 177.3h0M382.4 165.1h0M465.3 173.1h0M463.2 183.3h0M365.4 184.6h0M407.4 219.2h0M498.5 151.8h0M470.7 146.9h0M409.0 223.5h0M371.2 119.3h0M486.5 173.5h0M449.9 125.8h0M475.2 196.0h0M461.1 186.3h0M381.8 146.0h0M452.3 147.2h0M357.6 158.4h0M493.7 162.3h0M409.6 122.1h0M497.5 175.9h0M423.3 97.3h0M391.0 125.4h0M398.7 170.7h0M507.2 173.0h0M376.1 105.9h0M474.2 184.9h0M400.2 113.5h0M477.6 150.7h0M509.4 173.1h0M465.0 119.5h0M425.0 134.0h0M393.7 219.6h0M381.9 165.1h0M394.4 206.4h0M394.4 112.5h0M371.1 185.2h0M475.6 104.6h0M404.2 132.5h0M408.3 122.8h0M496.9 121.6h0M390.2 186.1h0M487.4 170.8h0M359.6 126.3h0M419.7 97.8h0M380.0 197.3h0M490.7 82.0h0M367.2 149.5h0M486.8 97.0h0M511.5 161.9h0M415.1 146.6h0M470.0 123.9h0M425.3 195.2h0M456.8 167.9h0M381.8 198.8h0M365.0 163.0h0M377.9 103.5h0M392.8 183.1h0M443.9 185.2h0M461.2 86.9h0M466.3 148.3h0M500.2 117.1h0M483.5 161.6h0M492.2 162.6h0M474.5 176.4h0M444.6 76.6h0M461.6 149.1h0M361.4 104.9h0M502.8 164.3h0M452.6 165.1h0M489.4 192.4h0M453.7 102.4h0M495.0 98.0h0M455.4 198.0h0M465.3 173.2h0M505.8 132.5h0M472.5 124.0h0M415.5 102.2h0M423.0 116.8h0M413.4 109.6h0M478.3 140.1h0M386.9 172.4h0M368.8 114.0h0M455.9 243.0h0M383.6 121.7h0M507.1 173.2h0M416.7 188.4h0M523.1 139.6h0M479.5 216.1h0M469.9 114.5h0M411.7 218.8h0M406.4 105.8h0M403.7 191.1h0M385.0 224.0h0M376.6 94.9h0M452.4 129.4h0M494.3 166.8h0M417.5 73.8h0M414.1 197.3h0M399.8 197.0h0M363.3 170.1h0M471.0 138.2h0M453.3 112.0h0M379.0 200.8h0M353.8 127.6h0M490.9 161.9h0M450.8 143.9h0M466.7 163.4h0M360.8 167.6h0M395.3 178.9h0M486.2 187.9h0M399.4 154.6h0M378.1 198.5h0M459.9 101.4h0M390.3 100.9h0M399.6 107.8h0M448.6 217.2h0M459.0 94.3h0M400.7 124.5h0M468.8 149.9h0M375.7 174.8h0M465.6 135.8h0M465.6 122.1h0M489.7 198.9h0M470.1 223.6h0M440.6 102.5h0M423.6 175.2h0M383.5 229.8h0M447.4 82.3h0M388.2 184.1h0M371.8 182.7h0M509.3 192.6h0M449.6 160.3h0M399.7 137.3h0M384.3 132.5h0M495.7 137.1h0M366.8 174.1h0M517.2 143.7h0M350.2 135.0h0M420.2 164.9h0M447.5 185.7h0M421.8 90.8h0M398.9 109.8h0M482.9 155.1h0M484.2 181.1h0M468.3 202.6h0M347.0 130.8h0M512.2 194.1h0M419.7 173.9h0M368.2 184.5h0M481.4 151.8h0M482.7 213.0h0M459.1 83.1h0M426.0 149.3h0M441.4 144.4h0M480.7 177.3h0M348.4 168.9h0M372.5 215.3h0M441.8 196.5h0M361.9 124.5h0M496.1 119.3h0M504.4 112.9h0M412.2 85.2h0M457.3 194.8h0M479.6 226.7h0M419.1 179.4h0M426.1 124.7h0M450.6 147.6h0M413.0 215.3h0M468.0 131.6h0M360.0 102.3h0M475.1 127.2h0M380.3 151.5h0M488.3 93.3h0M401.1 203.0h0M472.4 198.6h0M386.2 158.1h0M386.7 205.6h0M479.8 112.4h0M446.5 191.5h0M455.5 241.4h0M516.0 196.2h0M365.3 110.1h0M464.4 196.4h0M355.5 173.2h0M490.2 88.3h0M399.9 112.0h0M380.2 124.8h0M473.9 192.2h0M358.4 145.6h0M411.0 117.9h0M488.5 207.0h0M424.9 161.6h0M492.0 146.4h0M487.5 134.6h0M367.1 129.2h0M381.6 183.3h0M500.4 172.0h0M371.3 136.3h0M477.1 97.0h0M389.5 153.4h0M394.3 146.9h0M412.1 163.9h0M442.1 198.4h0M461.4 210.7h0M415.5 228.1h0M468.7 118.9h0M453.5 166.8h0M396.6 84.8h0M490.3 91.5h0M501.3 162.7h0M411.0 138.3h0M442.7 118.0h0M406.3 217.2h0M394.0 153.1h0M402.8 144.1h0M446.8 115.3h0M418.6 112.5h0M496.3 88.3h0M374.3 111.5h0M379.1 226.5h0M478.0 187.0h0M477.3 177.0h0M467.3 107.7h0M492.0 195.1h0M374.3 163.7h0M424.5 104.5h0M406.6 135.5h0M505.7 202.7h0M495.5 149.5h0M425.4 168.4h0M388.6 119.4h0M412.4 115.9h0M358.5 145.3h0M407.1 134.1h0M384.0 142.6h0M464.1 189.1h0M384.0 189.4h0M396.3 152.8h0M421.1 112.1h0M485.3 166.6h0M362.7 159.7h0M447.2 200.1h0M368.6 173.9h0M410.1 151.3h0M365.2 134.7h0M470.8 198.1h0M405.7 177.3h0M381.6 128.3h0M521.9 163.3h0M351.9 175.7h0M394.7 223.5h0M341.8 164.1h0M498.2 190.3h0M472.1 192.1h0M394.5 109.3h0M462.8 131.3h0M380.1 154.9h0M458.8 207.6h0M373.2 122.8h0M380.1 218.0h0M449.5 179.1h0M476.1 109.5h0M508.8 171.9h0M451.1 243.1h0M408.6 149.8h0M484.0 82.9h0M402.6 128.2h0M452.2 236.7h0M453.9 235.9h0M374.4 175.0h0M421.9 171.7h0M374.7 171.0h0M487.1 143.1h0M462.9 200.2h0M377.1 200.5h0M418.1 144.3h0M506.4 170.5h0M393.8 119.4h0M378.6 158.4h0M385.6 164.7h0M486.9 157.3h0M426.0 180.7h0M404.4 160.9h0M394.8 183.7h0M364.5 116.6h0M447.8 208.5h0M411.4 77.5h0M367.9 194.8h0M505.8 169.5h0M480.7 211.4h0M405.2 231.0h0M447.2 149.1h0M465.6 238.3h0M505.2 145.9h0M444.4 174.9h0M386.6 174.4h0M411.4 210.2h0M448.3 83.5h0M450.1 155.7h0M469.6 118.8h0M497.2 99.8h0M440.7 194.0h0M450.6 96.3h0M422.7 80.9h0M470.3 218.4h0M401.7 144.4h0M509.7 182.2h0M356.4 160.8h0M484.7 181.5h0M449.5 183.6h0M400.8 163.1h0M356.6 112.5h0M481.8 214.2h0M386.0 197.7h0M459.5 80.8h0M477.3 143.9h0M414.1 124.2h0M479.1 89.7h0M445.9 163.9h0M469.4 178.1h0M444.7 193.0h0M489.5 166.9h0M494.1 131.7h0M385.1 89.6h0M506.9 203.0h0M492.5 184.1h0M492.8 149.4h0M453.5 158.9h0M396.2 182.5h0M404.8 106.7h0M462.5 83.2h0M367.5 119.3h0M488.2 142.1h0M390.2 176.7h0M415.9 179.3h0M457.5 88.6h0M397.0 199.5h0M409.8 131.1h0M396.1 127.4h0M446.5 197.5h0M410.7 129.7h0M400.3 222.1h0M359.2 157.7h0M441.2 128.8h0M363.1 202.7h0M447.7 232.9h0M456.3 151.6h0M417.8 147.5h0M483.7 209.7h0M371.2 130.5h0M456.2 157.7h0M384.1 198.4h0M468.5 110.8h0M487.7 142.4h0M511.2 157.4h0M351.5 163.3h0M504.9 140.8h0M422.3 172.4h0M371.7 104.3h0M382.8 96.1h0M470.2 101.1h0M484.9 160.4h0M496.0 156.7h0M389.7 170.7h0M513.1 131.7h0M460.8 128.5h0M385.4 87.4h0M492.2 170.3h0M493.4 96.7h0M373.6 175.2h0M473.2 151.5h0M359.9 201.1h0M447.0 119.6h0M518.5 166.8h0M402.8 180.6h0M377.0 189.8h0M461.4 123.4h0M522.1 156.4h0M412.2 183.2h0M355.8 172.0h0M468.2 208.7h0M348.1 178.6h0M393.4 155.9h0M351.2 119.5h0M375.3 170.5h0M455.9 84.9h0M391.6 223.6h0M389.9 169.7h0M440.6 159.8h0M376.5 171.8h0M467.7 176.0h0M440.3 219.6h0M489.1 188.9h0M421.7 109.6h0M462.8 90.8h0M505.5 96.4h0M469.9 123.6h0M385.6 87.6h0M424.0 197.9h0M376.0 218.1h0M515.4 131.5h0M372.8 119.2h0M468.3 98.7h0M414.6 73.7h0M366.9 88.6h0M440.4 86.0h0M356.9 178.6h0M464.5 180.5h0M383.1 196.4h0M475.9 114.1h0M363.0 176.4h0M467.9 71.5h0M401.5 152.8h0M352.1 132.0h0M485.2 190.7h0M391.7 174.7h0M394.6 209.6h0M484.3 171.4h0M461.3 88.8h0M461.3 208.7h0M465.9 124.9h0M356.8 140.9h0M423.6 185.5h0M376.2 167.4h0M493.5 155.0h0M443.2 170.4h0M374.9 159.0h0M448.0 214.9h0M389.0 75.3h0M489.9 124.9h0M379.5 227.6h0M481.4 195.7h0M447.9 112.6h0M409.1 84.1h0M373.9 145.6h0M380.1 77.9h0M387.4 103.1h0M376.3 227.2h0M394.0 115.2h0M457.4 221.3h0M445.9 198.5h0M461.1 233.9h0M508.5 149.9h0M458.6 229.4h0M450.5 241.6h0M413.6 109.1h0M408.1 172.0h0M465.7 154.8h0M425.6 223.9h0M341.7 140.7h0M417.3 93.6h0M486.8 204.7h0M446.3 122.8h0M423.2 171.6h0M444.0 123.1h0M488.2 110.0h0M477.4 124.7h0M377.8 227.2h0M468.9 94.2h0M439.7 118.7h0M368.8 202.1h0M486.5 227.2h0M451.8 226.4h0M463.1 127.8h0M380.4 139.8h0M454.1 226.8h0M376.6 185.4h0M490.6 176.3h0M455.5 170.8h0M386.6 183.5h0M467.4 101.8h0M380.0 204.0h0M370.0 154.6h0M396.7 101.5h0M348.6 183.4h0M483.1 129.1h0M447.0 95.9h0M349.5 188.3h0M390.7 96.4h0M507.1 134.9h0M470.0 199.4h0M388.3 110.9h0M475.2 168.5h0M347.2 156.0h0M458.1 127.2h0M403.2 144.7h0M361.0 171.9h0M409.8 168.1h0M485.1 200.5h0M441.3 181.2h0M463.3 169.8h0M449.2 155.4h0M466.1 126.9h0M453.0 83.9h0M355.7 112.4h0M422.9 133.1h0M493.8 224.8h0M449.9 166.7h0M445.2 136.4h0M480.0 211.3h0M493.0 183.4h0M485.1 153.0h0M510.4 163.8h0M413.0 219.9h0M497.9 204.8h0M377.0 198.8h0M473.7 151.3h0M484.2 171.7h0M496.7 198.0h0M501.6 195.9h0M527.1 152.7h0M443.5 91.4h0M509.4 118.9h0M426.0 230.4h0M390.5 178.5h0M491.7 175.8h0M354.0 180.6h0M447.6 138.5h0M463.0 154.0h0M451.8 154.7h0M476.7 159.8h0M408.8 151.9h0M418.6 177.6h0M424.4 236.6h0M455.0 238.4h0M444.1 78.5h0M440.9 85.0h0M375.7 105.1h0M479.7 198.3h0M454.2 220.9h0M402.6 193.2h0M448.2 123.2h0M485.4 227.9h0M410.1 183.5h0M397.3 164.9h0M406.9 163.0h0M385.8 186.6h0M448.3 152.1h0M393.7 201.6h0M517.2 160.5h0M423.6 211.8h0M367.2 208.9h0M358.2 141.4h0M415.1 90.5h0M441.1 142.4h0M473.7 140.0h0M391.7 148.5h0M415.5 170.6h0M393.0 217.1h0M354.4 116.8h0M469.7 224.1h0M483.4 180.1h0M448.9 198.7h0M495.2 124.0h0M381.7 108.5h0M398.2 124.5h0M465.4 195.6h0M440.1 139.2h0M466.8 135.8h0M446.3 217.1h0M485.7 169.0h0M389.2 160.7h0M479.3 154.7h0M406.7 205.4h0M476.4 181.2h0M510.8 200.9h0M458.6 147.8h0M446.3 76.0h0M453.3 86.5h0M508.3 180.2h0M407.8 158.9h0M371.8 204.5h0M464.9 139.5h0M385.4 152.8h0M490.6 111.8h0M385.4 210.4h0M374.6 166.6h0M426.2 159.3h0M470.5 220.5h0M404.0 194.9h0M451.0 180.1h0M458.9 66.6h0M442.4 186.1h0M519.7 167.1h0M401.8 187.5h0M474.3 128.7h0M375.7 210.6h0M414.6 205.3h0M423.1 147.1h0M390.1 178.0h0M402.9 74.0h0M447.3 235.8h0M451.2 129.3h0M368.2 198.5h0M440.9 241.0h0M365.5 141.1h0M386.9 131.4h0M424.4 146.0h0M425.5 160.6h0M485.4 123.7h0M373.1 126.2h0M467.1 76.5h0M377.9 206.1h0M394.4 172.2h0M363.7 135.5h0M510.9 141.0h0M472.9 166.3h0M410.9 142.7h0M486.6 192.4h0M421.6 189.6h0M392.1 219.9h0M380.9 116.6h0M442.3 101.5h0M444.7 158.2h0M392.6 188.6h0M375.3 181.5h0M370.8 155.6h0M425.8 100.2h0M381.2 95.2h0M496.6 160.5h0M470.7 101.8h0M457.3 112.9h0M463.3 75.1h0M467.1 156.0h0M349.1 136.7h0M421.4 159.2h0M412.7 137.5h0M388.6 92.6h0M481.8 193.4h0M423.4 153.5h0M369.1 89.2h0M388.6 84.8h0M395.9 95.8h0M497.9 156.0h0M414.9 239.9h0M425.6 136.0h0M476.5 152.6h0M375.6 95.6h0M486.6 128.8h0M392.4 157.0h0M392.1 131.6h0M448.9 177.1h0M458.5 224.0h0M488.8 206.1h0M413.8 96.7h0M505.9 163.5h0M446.2 234.4h0M417.1 86.9h0M407.9 154.9h0M409.7 199.9h0M475.2 94.6h0M462.7 137.5h0M488.2 175.4h0M423.3 205.0h0M448.5 97.3h0M463.7 212.2h0M404.5 161.4h0M441.4 90.8h0M380.8 213.9h0M366.5 103.0h0M397.5 124.0h0" stroke="#74c2e6" stroke-width="2.4" stroke-linecap="round" stroke-opacity="0.62" fill="none"/>
<path d="M428.8 61.5h0M431.1 64.5h0M434.9 68.3h0M437.0 67.3h0M434.0 70.7h0M438.0 70.2h0M434.4 72.6h0M438.2 75.4h0M429.2 77.1h0M433.8 77.6h0M435.1 79.9h0M438.9 80.1h0M428.1 81.1h0M427.3 82.5h0M438.7 84.2h0M439.2 84.8h0M434.0 84.9h0M427.5 84.6h0M434.5 86.8h0M427.3 89.2h0M432.1 89.0h0M435.4 90.9h0M437.8 90.1h0M431.6 93.0h0M433.2 93.0h0M431.3 96.3h0M429.0 96.7h0M427.5 99.1h0M435.1 98.8h0M438.5 98.6h0M439.0 99.2h0M432.6 100.5h0M434.0 102.0h0M437.6 101.3h0M434.7 104.5h0M427.1 110.2h0M429.9 109.8h0M431.9 112.1h0M434.9 112.7h0M428.5 114.0h0M427.8 118.1h0M428.3 118.7h0M438.7 117.6h0M439.2 118.2h0M435.4 119.3h0M431.9 120.8h0M427.8 125.1h0M434.5 125.1h0M438.2 124.2h0M437.8 126.5h0M438.3 127.1h0M435.1 127.5h0M432.6 129.4h0M434.9 130.8h0M437.3 131.1h0M427.3 132.2h0M427.8 132.8h0M428.8 134.9h0M429.0 136.5h0M435.4 137.0h0M438.5 137.4h0M428.3 138.9h0M432.8 140.3h0M436.3 140.6h0M436.8 141.2h0M431.1 141.2h0M429.2 143.6h0M429.7 144.2h0M437.0 146.9h0M428.8 148.8h0M437.8 149.3h0M438.3 149.9h0M429.2 152.2h0M432.1 154.1h0M436.3 156.0h0M436.8 156.6h0M437.8 156.9h0M428.3 157.4h0M428.3 159.3h0M437.8 159.3h0M428.8 162.1h0M427.8 163.5h0M435.4 163.1h0M438.0 164.0h0M427.8 166.9h0M430.2 166.9h0M437.0 167.1h0M431.6 170.0h0M434.5 170.7h0M430.0 174.0h0M434.9 174.0h0M437.8 174.5h0M439.7 174.9h0M431.6 175.4h0M436.3 176.3h0M438.2 177.3h0M427.5 178.2h0M431.1 178.7h0M436.3 178.7h0M437.8 179.2h0M430.2 182.5h0M431.6 183.1h0M428.3 185.0h0M432.3 186.7h0M432.1 188.1h0M436.8 187.2h0M439.2 187.6h0M437.0 189.1h0M428.3 191.0h0M428.8 191.6h0M426.4 193.1h0M437.3 192.9h0M437.8 194.3h0M429.0 195.0h0M434.7 195.2h0M431.0 197.0h0M431.9 199.5h0M437.3 199.2h0M427.8 200.4h0M434.7 201.4h0M427.8 203.6h0M436.1 204.7h0M439.7 206.4h0M436.1 208.0h0M434.9 210.2h0M428.3 211.2h0M438.2 211.6h0M428.3 215.0h0M430.0 217.8h0M436.1 218.0h0M437.6 219.4h0M428.3 221.8h0M430.2 222.6h0M431.6 222.7h0M436.1 222.7h0M436.6 223.3h0M429.2 226.5h0M434.9 228.0h0M435.4 230.5h0M435.9 231.1h0M435.7 237.0h0M434.4 238.4h0M427.3 240.0h0M433.0 241.2h0M429.7 242.9h0M435.4 242.5h0" stroke="#f04c4c" stroke-width="2.4" stroke-linecap="round" fill="none"/>
<path d="M327.1 47.8L349.6 69.80000000000001M540.1 47.8L518.1 69.80000000000001M327.1 260.9L349.6 238.20000000000002" stroke="#333" stroke-width="1" fill="none"/>
<path d="M540.1 260.9L518.1 238.20000000000002" stroke="#aaa" stroke-width="1" fill="none"/>
<path d="M327.6 48.5V33.8" stroke="#bbb" stroke-width="0.9"/>
<path d="M332.1 52.7V38.8" stroke="#444" stroke-width="0.9"/>
<path d="M335.9 56.3V42.4" stroke="#444" stroke-width="0.9"/>
<path d="M339.9 60.1V45.9" stroke="#666" stroke-width="0.9"/>
<path d="M343.1 63.1V50.4" stroke="#777" stroke-width="0.9"/>
<path d="M346.3 66.1V54.4" stroke="#999" stroke-width="0.9"/>
<path d="M349.6 69.2V57.4" stroke="#aaa" stroke-width="0.9"/>
<text x="323.0" y="51.8" font-size="9.4" fill="#444" text-anchor="middle" >60</text>
<text x="323.0" y="87.4" font-size="9.4" fill="#444" text-anchor="middle" >40</text>
<text x="323.0" y="123.0" font-size="9.4" fill="#444" text-anchor="middle" >20</text>
<text x="323.0" y="158.6" font-size="9.4" fill="#444" text-anchor="middle" >0</text>
<text x="323.0" y="194.2" font-size="9.4" fill="#444" text-anchor="middle" >-20</text>
<text x="323.0" y="229.8" font-size="9.4" fill="#444" text-anchor="middle" >-40</text>
<text x="323.0" y="265.4" font-size="9.4" fill="#444" text-anchor="middle" >-60</text>
<text x="327.4" y="268.4" font-size="9.4" fill="#444" text-anchor="middle" >60</text>
<text x="362.8" y="268.4" font-size="9.4" fill="#444" text-anchor="middle" >40</text>
<text x="398.1" y="268.4" font-size="9.4" fill="#444" text-anchor="middle" >20</text>
<text x="433.5" y="268.4" font-size="9.4" fill="#444" text-anchor="middle" >0</text>
<text x="468.9" y="268.4" font-size="9.4" fill="#444" text-anchor="middle" >-20</text>
<text x="504.2" y="268.4" font-size="9.4" fill="#444" text-anchor="middle" >-40</text>
<text x="539.6" y="268.4" font-size="9.4" fill="#444" text-anchor="middle" >-60</text>
<text x="327.6" y="24.3" font-size="9.4" fill="#444" text-anchor="middle" >60</text>
<text x="331.4" y="29.8" font-size="9.4" fill="#444" text-anchor="middle" >40</text>
<text x="335.8" y="35.4" font-size="9.4" fill="#444" text-anchor="middle" >20</text>
<text x="339.9" y="40.5" font-size="9.4" fill="#444" text-anchor="middle" >0</text>
<text x="342.6" y="44.3" font-size="9.4" fill="#444" text-anchor="middle" >-20</text>
<text x="345.9" y="48.3" font-size="9.4" fill="#444" text-anchor="middle" >-40</text>
<text x="349.2" y="52.3" font-size="9.4" fill="#444" text-anchor="middle" >-60</text>
<text x="327.2" y="14.6" font-size="10" fill="#444" text-anchor="middle" >Z</text>
<text x="433.6" y="288.5" font-size="10" fill="#444" text-anchor="middle" >Y</text>
<text x="1.0" y="14.0" font-size="18" fill="#000" text-anchor="start" font-weight="bold" textLength="22.5" lengthAdjust="spacingAndGlyphs" >(a)</text>
<text x="74.5" y="14.3" font-size="15" fill="#111" text-anchor="start" stroke="#111" stroke-width="0.15" textLength="176.0" lengthAdjust="spacingAndGlyphs" >simulated avoidance: 90 %</text>
<text x="95.3" y="33.0" font-size="15" fill="#111" text-anchor="start" stroke="#111" stroke-width="0.15" textLength="140.0" lengthAdjust="spacingAndGlyphs" >error-free simulation</text>
<text x="281.8" y="14.0" font-size="17.5" fill="#000" text-anchor="start" font-weight="bold" textLength="20.6" lengthAdjust="spacingAndGlyphs" >(b)</text>
<text x="349.5" y="13.6" font-size="15" fill="#111" text-anchor="start" stroke="#111" stroke-width="0.15" textLength="175.8" lengthAdjust="spacingAndGlyphs" >simulated avoidance: 90 %</text>
<text x="364.2" y="29.7" font-size="15" fill="#111" text-anchor="start" stroke="#111" stroke-width="0.15" textLength="152.3" lengthAdjust="spacingAndGlyphs" >with spatial GPS error</text>
<text x="83.6" y="304.6" font-size="14.5" fill="#111" text-anchor="start" stroke="#111" stroke-width="0.15" textLength="394.0" lengthAdjust="spacingAndGlyphs" >blue dots: outside the risk area; red dots: inside the risk area</text>
<path d="M96.3 585.4H496.9" stroke="#ebebeb" stroke-width="1"/>
<path d="M96.3 509.7H496.9" stroke="#ebebeb" stroke-width="1"/>
<path d="M96.3 434.1H496.9" stroke="#ebebeb" stroke-width="1"/>
<path d="M175.1 377.3V647.7" stroke="#ebebeb" stroke-width="1"/>
<path d="M296.6 377.3V647.7" stroke="#ebebeb" stroke-width="1"/>
<path d="M418.1 377.3V647.7" stroke="#ebebeb" stroke-width="1"/>
<path d="M96.3 623.2H496.9" stroke="#ebebeb" stroke-width="1.6"/>
<path d="M96.3 547.5H496.9" stroke="#ebebeb" stroke-width="1.6"/>
<path d="M96.3 471.9H496.9" stroke="#ebebeb" stroke-width="1.6"/>
<path d="M96.3 396.2H496.9" stroke="#ebebeb" stroke-width="1.6"/>
<path d="M114.4 377.3V647.7" stroke="#ebebeb" stroke-width="1.6"/>
<path d="M235.9 377.3V647.7" stroke="#ebebeb" stroke-width="1.6"/>
<path d="M357.3 377.3V647.7" stroke="#ebebeb" stroke-width="1.6"/>
<path d="M478.8 377.3V647.7" stroke="#ebebeb" stroke-width="1.6"/>
<g fill="#000" fill-opacity="0.12" stroke="#000" stroke-opacity="0.12" stroke-width="0.9">
<circle cx="114.4" cy="476.8" r="2.6"/>
<circle cx="114.4" cy="487.5" r="2.6"/>
<circle cx="114.4" cy="489.1" r="2.6"/>
<circle cx="114.4" cy="515.7" r="2.6"/>
<circle cx="114.4" cy="531.2" r="2.6"/>
<circle cx="114.4" cy="540.3" r="2.6"/>
<circle cx="114.4" cy="550.2" r="2.6"/>
<circle cx="114.4" cy="567.9" r="2.6"/>
<circle cx="114.4" cy="591.6" r="2.6"/>
<circle cx="126.5" cy="432.6" r="2.6"/>
<circle cx="126.5" cy="512.4" r="2.6"/>
<circle cx="126.5" cy="516.7" r="2.6"/>
<circle cx="126.5" cy="526.2" r="2.6"/>
<circle cx="126.5" cy="548.4" r="2.6"/>
<circle cx="126.5" cy="552.0" r="2.6"/>
<circle cx="126.5" cy="558.7" r="2.6"/>
<circle cx="126.5" cy="591.6" r="2.6"/>
<circle cx="126.5" cy="602.8" r="2.6"/>
<circle cx="138.7" cy="486.4" r="2.6"/>
<circle cx="138.7" cy="509.8" r="2.6"/>
<circle cx="138.7" cy="518.6" r="2.6"/>
<circle cx="138.7" cy="529.8" r="2.6"/>
<circle cx="138.7" cy="541.9" r="2.6"/>
<circle cx="138.7" cy="562.3" r="2.6"/>
<circle cx="138.7" cy="565.2" r="2.6"/>
<circle cx="138.7" cy="572.6" r="2.6"/>
<circle cx="138.7" cy="616.9" r="2.6"/>
<circle cx="150.8" cy="429.3" r="2.6"/>
<circle cx="150.8" cy="475.0" r="2.6"/>
<circle cx="150.8" cy="481.6" r="2.6"/>
<circle cx="150.8" cy="487.5" r="2.6"/>
<circle cx="150.8" cy="489.1" r="2.6"/>
<circle cx="150.8" cy="530.0" r="2.6"/>
<circle cx="150.8" cy="541.9" r="2.6"/>
<circle cx="150.8" cy="543.9" r="2.6"/>
<circle cx="150.8" cy="563.9" r="2.6"/>
<circle cx="163.0" cy="511.2" r="2.6"/>
<circle cx="163.0" cy="513.1" r="2.6"/>
<circle cx="163.0" cy="533.0" r="2.6"/>
<circle cx="163.0" cy="536.2" r="2.6"/>
<circle cx="163.0" cy="537.8" r="2.6"/>
<circle cx="163.0" cy="538.5" r="2.6"/>
<circle cx="163.0" cy="547.8" r="2.6"/>
<circle cx="163.0" cy="549.9" r="2.6"/>
<circle cx="163.0" cy="563.9" r="2.6"/>
<circle cx="163.0" cy="590.2" r="2.6"/>
<circle cx="175.1" cy="469.9" r="2.6"/>
<circle cx="175.1" cy="475.5" r="2.6"/>
<circle cx="175.1" cy="477.7" r="2.6"/>
<circle cx="175.1" cy="513.9" r="2.6"/>
<circle cx="175.1" cy="525.0" r="2.6"/>
<circle cx="175.1" cy="537.5" r="2.6"/>
<circle cx="175.1" cy="544.3" r="2.6"/>
<circle cx="175.1" cy="548.6" r="2.6"/>
<circle cx="175.1" cy="550.2" r="2.6"/>
<circle cx="175.1" cy="565.0" r="2.6"/>
<circle cx="187.3" cy="465.6" r="2.6"/>
<circle cx="187.3" cy="479.7" r="2.6"/>
<circle cx="187.3" cy="510.6" r="2.6"/>
<circle cx="187.3" cy="518.5" r="2.6"/>
<circle cx="187.3" cy="538.8" r="2.6"/>
<circle cx="187.3" cy="543.6" r="2.6"/>
<circle cx="187.3" cy="548.4" r="2.6"/>
<circle cx="187.3" cy="553.8" r="2.6"/>
<circle cx="187.3" cy="572.2" r="2.6"/>
<circle cx="199.4" cy="462.3" r="2.6"/>
<circle cx="199.4" cy="468.5" r="2.6"/>
<circle cx="199.4" cy="470.1" r="2.6"/>
<circle cx="199.4" cy="512.6" r="2.6"/>
<circle cx="199.4" cy="534.6" r="2.6"/>
<circle cx="199.4" cy="555.1" r="2.6"/>
<circle cx="199.4" cy="570.5" r="2.6"/>
<circle cx="211.6" cy="454.9" r="2.6"/>
<circle cx="211.6" cy="468.8" r="2.6"/>
<circle cx="211.6" cy="485.2" r="2.6"/>
<circle cx="211.6" cy="519.8" r="2.6"/>
<circle cx="211.6" cy="530.3" r="2.6"/>
<circle cx="211.6" cy="534.6" r="2.6"/>
<circle cx="211.6" cy="539.5" r="2.6"/>
<circle cx="211.6" cy="542.1" r="2.6"/>
<circle cx="211.6" cy="571.3" r="2.6"/>
<circle cx="223.7" cy="509.1" r="2.6"/>
<circle cx="223.7" cy="510.7" r="2.6"/>
<circle cx="223.7" cy="525.7" r="2.6"/>
<circle cx="223.7" cy="527.5" r="2.6"/>
<circle cx="223.7" cy="529.1" r="2.6"/>
<circle cx="223.7" cy="544.7" r="2.6"/>
<circle cx="223.7" cy="624.4" r="2.6"/>
<circle cx="235.9" cy="462.1" r="2.6"/>
<circle cx="235.9" cy="479.1" r="2.6"/>
<circle cx="235.9" cy="483.9" r="2.6"/>
<circle cx="235.9" cy="487.6" r="2.6"/>
<circle cx="235.9" cy="536.9" r="2.6"/>
<circle cx="235.9" cy="567.9" r="2.6"/>
<circle cx="235.9" cy="588.0" r="2.6"/>
<circle cx="248.0" cy="460.7" r="2.6"/>
<circle cx="248.0" cy="462.3" r="2.6"/>
<circle cx="248.0" cy="469.6" r="2.6"/>
<circle cx="248.0" cy="509.3" r="2.6"/>
<circle cx="248.0" cy="542.7" r="2.6"/>
<circle cx="248.0" cy="546.2" r="2.6"/>
<circle cx="248.0" cy="547.8" r="2.6"/>
<circle cx="260.2" cy="456.2" r="2.6"/>
<circle cx="260.2" cy="469.3" r="2.6"/>
<circle cx="260.2" cy="498.4" r="2.6"/>
<circle cx="260.2" cy="504.5" r="2.6"/>
<circle cx="260.2" cy="506.1" r="2.6"/>
<circle cx="260.2" cy="516.2" r="2.6"/>
<circle cx="260.2" cy="527.3" r="2.6"/>
<circle cx="260.2" cy="533.9" r="2.6"/>
<circle cx="260.2" cy="564.0" r="2.6"/>
<circle cx="272.3" cy="436.5" r="2.6"/>
<circle cx="272.3" cy="475.5" r="2.6"/>
<circle cx="272.3" cy="481.7" r="2.6"/>
<circle cx="272.3" cy="494.4" r="2.6"/>
<circle cx="272.3" cy="499.4" r="2.6"/>
<circle cx="272.3" cy="539.8" r="2.6"/>
<circle cx="272.3" cy="545.4" r="2.6"/>
<circle cx="272.3" cy="547.0" r="2.6"/>
<circle cx="272.3" cy="560.6" r="2.6"/>
<circle cx="272.3" cy="571.3" r="2.6"/>
<circle cx="284.5" cy="456.5" r="2.6"/>
<circle cx="284.5" cy="470.7" r="2.6"/>
<circle cx="284.5" cy="472.3" r="2.6"/>
<circle cx="284.5" cy="476.8" r="2.6"/>
<circle cx="284.5" cy="486.9" r="2.6"/>
<circle cx="284.5" cy="491.0" r="2.6"/>
<circle cx="284.5" cy="492.6" r="2.6"/>
<circle cx="284.5" cy="508.6" r="2.6"/>
<circle cx="284.5" cy="517.2" r="2.6"/>
<circle cx="284.5" cy="559.1" r="2.6"/>
<circle cx="296.6" cy="468.2" r="2.6"/>
<circle cx="296.6" cy="469.8" r="2.6"/>
<circle cx="296.6" cy="488.9" r="2.6"/>
<circle cx="296.6" cy="494.4" r="2.6"/>
<circle cx="296.6" cy="517.0" r="2.6"/>
<circle cx="296.6" cy="518.6" r="2.6"/>
<circle cx="296.6" cy="527.0" r="2.6"/>
<circle cx="296.6" cy="546.0" r="2.6"/>
<circle cx="296.6" cy="550.0" r="2.6"/>
<circle cx="308.8" cy="445.3" r="2.6"/>
<circle cx="308.8" cy="458.2" r="2.6"/>
<circle cx="308.8" cy="463.8" r="2.6"/>
<circle cx="308.8" cy="473.4" r="2.6"/>
<circle cx="308.8" cy="492.9" r="2.6"/>
<circle cx="308.8" cy="499.2" r="2.6"/>
<circle cx="308.8" cy="505.5" r="2.6"/>
<circle cx="308.8" cy="507.1" r="2.6"/>
<circle cx="308.8" cy="518.9" r="2.6"/>
<circle cx="308.8" cy="532.0" r="2.6"/>
<circle cx="320.9" cy="466.0" r="2.6"/>
<circle cx="320.9" cy="474.5" r="2.6"/>
<circle cx="320.9" cy="497.5" r="2.6"/>
<circle cx="320.9" cy="509.9" r="2.6"/>
<circle cx="320.9" cy="515.0" r="2.6"/>
<circle cx="320.9" cy="516.6" r="2.6"/>
<circle cx="320.9" cy="517.8" r="2.6"/>
<circle cx="320.9" cy="537.5" r="2.6"/>
<circle cx="320.9" cy="573.5" r="2.6"/>
<circle cx="320.9" cy="578.4" r="2.6"/>
<circle cx="320.9" cy="591.0" r="2.6"/>
<circle cx="333.0" cy="451.5" r="2.6"/>
<circle cx="333.0" cy="453.1" r="2.6"/>
<circle cx="333.0" cy="475.6" r="2.6"/>
<circle cx="333.0" cy="477.2" r="2.6"/>
<circle cx="333.0" cy="504.0" r="2.6"/>
<circle cx="333.0" cy="516.8" r="2.6"/>
<circle cx="333.0" cy="525.7" r="2.6"/>
<circle cx="333.0" cy="536.9" r="2.6"/>
<circle cx="333.0" cy="548.2" r="2.6"/>
<circle cx="333.0" cy="628.0" r="2.6"/>
<circle cx="345.2" cy="419.4" r="2.6"/>
<circle cx="345.2" cy="452.9" r="2.6"/>
<circle cx="345.2" cy="479.4" r="2.6"/>
<circle cx="345.2" cy="484.3" r="2.6"/>
<circle cx="345.2" cy="490.2" r="2.6"/>
<circle cx="345.2" cy="513.7" r="2.6"/>
<circle cx="345.2" cy="515.3" r="2.6"/>
<circle cx="345.2" cy="529.9" r="2.6"/>
<circle cx="345.2" cy="531.5" r="2.6"/>
<circle cx="345.2" cy="591.9" r="2.6"/>
<circle cx="357.3" cy="458.6" r="2.6"/>
<circle cx="357.3" cy="471.7" r="2.6"/>
<circle cx="357.3" cy="473.3" r="2.6"/>
<circle cx="357.3" cy="479.4" r="2.6"/>
<circle cx="357.3" cy="487.6" r="2.6"/>
<circle cx="357.3" cy="496.8" r="2.6"/>
<circle cx="357.3" cy="519.1" r="2.6"/>
<circle cx="357.3" cy="538.8" r="2.6"/>
<circle cx="369.5" cy="437.8" r="2.6"/>
<circle cx="369.5" cy="444.7" r="2.6"/>
<circle cx="369.5" cy="473.8" r="2.6"/>
<circle cx="369.5" cy="476.4" r="2.6"/>
<circle cx="369.5" cy="480.9" r="2.6"/>
<circle cx="369.5" cy="482.5" r="2.6"/>
<circle cx="369.5" cy="483.0" r="2.6"/>
<circle cx="369.5" cy="485.6" r="2.6"/>
<circle cx="369.5" cy="517.8" r="2.6"/>
<circle cx="369.5" cy="535.2" r="2.6"/>
<circle cx="381.6" cy="443.3" r="2.6"/>
<circle cx="381.6" cy="444.9" r="2.6"/>
<circle cx="381.6" cy="449.4" r="2.6"/>
<circle cx="381.6" cy="457.8" r="2.6"/>
<circle cx="381.6" cy="459.4" r="2.6"/>
<circle cx="381.6" cy="469.9" r="2.6"/>
<circle cx="381.6" cy="486.0" r="2.6"/>
<circle cx="381.6" cy="502.3" r="2.6"/>
<circle cx="381.6" cy="520.2" r="2.6"/>
<circle cx="393.8" cy="400.4" r="2.6"/>
<circle cx="393.8" cy="466.1" r="2.6"/>
<circle cx="393.8" cy="484.2" r="2.6"/>
<circle cx="393.8" cy="485.8" r="2.6"/>
<circle cx="393.8" cy="493.6" r="2.6"/>
<circle cx="393.8" cy="495.2" r="2.6"/>
<circle cx="393.8" cy="501.0" r="2.6"/>
<circle cx="393.8" cy="506.0" r="2.6"/>
<circle cx="393.8" cy="508.9" r="2.6"/>
<circle cx="393.8" cy="521.1" r="2.6"/>
<circle cx="405.9" cy="418.5" r="2.6"/>
<circle cx="405.9" cy="443.5" r="2.6"/>
<circle cx="405.9" cy="449.4" r="2.6"/>
<circle cx="405.9" cy="462.0" r="2.6"/>
<circle cx="405.9" cy="476.0" r="2.6"/>
<circle cx="405.9" cy="490.9" r="2.6"/>
<circle cx="405.9" cy="499.2" r="2.6"/>
<circle cx="405.9" cy="518.5" r="2.6"/>
<circle cx="405.9" cy="542.3" r="2.6"/>
<circle cx="405.9" cy="545.7" r="2.6"/>
<circle cx="405.9" cy="547.3" r="2.6"/>
<circle cx="418.1" cy="389.5" r="2.6"/>
<circle cx="418.1" cy="434.3" r="2.6"/>
<circle cx="418.1" cy="456.3" r="2.6"/>
<circle cx="418.1" cy="468.2" r="2.6"/>
<circle cx="418.1" cy="495.9" r="2.6"/>
<circle cx="418.1" cy="509.4" r="2.6"/>
<circle cx="418.1" cy="526.2" r="2.6"/>
<circle cx="418.1" cy="533.4" r="2.6"/>
<circle cx="418.1" cy="566.2" r="2.6"/>
<circle cx="430.2" cy="431.3" r="2.6"/>
<circle cx="430.2" cy="480.9" r="2.6"/>
<circle cx="430.2" cy="489.2" r="2.6"/>
<circle cx="430.2" cy="490.8" r="2.6"/>
<circle cx="430.2" cy="495.9" r="2.6"/>
<circle cx="430.2" cy="505.7" r="2.6"/>
<circle cx="430.2" cy="519.6" r="2.6"/>
<circle cx="430.2" cy="529.2" r="2.6"/>
<circle cx="430.2" cy="564.0" r="2.6"/>
<circle cx="430.2" cy="571.3" r="2.6"/>
<circle cx="442.4" cy="428.7" r="2.6"/>
<circle cx="442.4" cy="440.5" r="2.6"/>
<circle cx="442.4" cy="442.1" r="2.6"/>
<circle cx="442.4" cy="448.5" r="2.6"/>
<circle cx="442.4" cy="468.7" r="2.6"/>
<circle cx="442.4" cy="476.7" r="2.6"/>
<circle cx="442.4" cy="493.4" r="2.6"/>
<circle cx="442.4" cy="500.0" r="2.6"/>
<circle cx="442.4" cy="515.0" r="2.6"/>
<circle cx="442.4" cy="534.1" r="2.6"/>
<circle cx="454.5" cy="425.3" r="2.6"/>
<circle cx="454.5" cy="448.2" r="2.6"/>
<circle cx="454.5" cy="455.5" r="2.6"/>
<circle cx="454.5" cy="474.5" r="2.6"/>
<circle cx="454.5" cy="476.1" r="2.6"/>
<circle cx="454.5" cy="482.3" r="2.6"/>
<circle cx="454.5" cy="498.3" r="2.6"/>
<circle cx="454.5" cy="509.2" r="2.6"/>
<circle cx="454.5" cy="514.3" r="2.6"/>
<circle cx="466.7" cy="421.8" r="2.6"/>
<circle cx="466.7" cy="449.4" r="2.6"/>
<circle cx="466.7" cy="455.9" r="2.6"/>
<circle cx="466.7" cy="495.9" r="2.6"/>
<circle cx="466.7" cy="504.6" r="2.6"/>
<circle cx="466.7" cy="508.9" r="2.6"/>
<circle cx="466.7" cy="510.5" r="2.6"/>
<circle cx="466.7" cy="521.7" r="2.6"/>
<circle cx="466.7" cy="529.4" r="2.6"/>
<circle cx="466.7" cy="553.2" r="2.6"/>
<circle cx="478.8" cy="413.8" r="2.6"/>
<circle cx="478.8" cy="430.7" r="2.6"/>
<circle cx="478.8" cy="432.3" r="2.6"/>
<circle cx="478.8" cy="437.4" r="2.6"/>
<circle cx="478.8" cy="440.2" r="2.6"/>
<circle cx="478.8" cy="468.4" r="2.6"/>
<circle cx="478.8" cy="470.0" r="2.6"/>
<circle cx="478.8" cy="485.8" r="2.6"/>
<circle cx="478.8" cy="489.9" r="2.6"/>
<circle cx="478.8" cy="562.3" r="2.6"/>
</g>
<polygon points="114.4,524.6 126.5,523.1 138.7,521.6 150.8,520.2 163.0,518.7 175.1,517.1 187.3,515.6 199.4,514.1 211.6,512.5 223.7,510.9 235.9,509.3 248.0,507.7 260.2,506.0 272.3,504.3 284.5,502.5 296.6,500.7 308.8,498.8 320.9,496.9 333.0,494.9 345.2,492.9 357.3,490.8 369.5,488.7 381.6,486.6 393.8,484.5 405.9,482.3 418.1,480.1 430.2,478.0 442.4,475.8 454.5,473.5 466.7,471.3 478.8,469.1 478.8,484.3 466.7,485.8 454.5,487.3 442.4,488.7 430.2,490.2 418.1,491.8 405.9,493.3 393.8,494.8 381.6,496.4 369.5,498.0 357.3,499.6 345.2,501.2 333.0,502.9 320.9,504.6 308.8,506.4 296.6,508.2 284.5,510.1 272.3,512.0 260.2,514.0 248.0,516.0 235.9,518.1 223.7,520.2 211.6,522.3 199.4,524.4 187.3,526.6 175.1,528.8 163.0,530.9 150.8,533.1 138.7,535.4 126.5,537.6 114.4,539.8" fill="#999" fill-opacity="0.4"/>
<path d="M114.4 532.2L478.8 476.7" stroke="#0000ff" stroke-width="2.6"/>
<rect x="93" y="497.3" width="157" height="11.2" fill="#fff"/>
<text x="96.0" y="507.0" font-size="13.3" fill="#e0262f" text-anchor="start" stroke="#e0262f" stroke-width="0.15" textLength="148.6" lengthAdjust="spacingAndGlyphs" >empirical estimate = 0.34</text>
<rect x="240" y="628.7" width="214" height="13.3" fill="#fff"/>
<text x="243.3" y="638.9" font-size="13.5" fill="#1a1ae6" text-anchor="start" stroke="#1a1ae6" stroke-width="0.15" textLength="207.5" lengthAdjust="spacingAndGlyphs" >corrected micro-avoidance = 0.802</text>
<path d="M95.9 494.7H496.9" stroke="#ff0000" stroke-width="1.6" stroke-dasharray="5.3 5.34"/>
<path d="M419.5 494.7H359.5" stroke="#0000ff" stroke-width="1.6" stroke-dasharray="5.8 4.7"/>
<path d="M360.3 377V647.7" stroke="#0000ff" stroke-width="1.6" stroke-dasharray="5.4 5.24"/>
<text x="89.9" y="627.1" font-size="11" fill="#4d4d4d" text-anchor="end" >0.0</text>
<text x="89.9" y="551.4" font-size="11" fill="#4d4d4d" text-anchor="end" >0.2</text>
<text x="89.9" y="475.8" font-size="11" fill="#4d4d4d" text-anchor="end" >0.4</text>
<text x="89.9" y="400.1" font-size="11" fill="#4d4d4d" text-anchor="end" >0.6</text>
<text x="114.4" y="662.3" font-size="11" fill="#4d4d4d" text-anchor="middle" >0.6</text>
<text x="235.9" y="662.3" font-size="11" fill="#4d4d4d" text-anchor="middle" >0.7</text>
<text x="357.3" y="662.3" font-size="11" fill="#4d4d4d" text-anchor="middle" >0.8</text>
<text x="478.8" y="662.3" font-size="11" fill="#4d4d4d" text-anchor="middle" >0.9</text>
<text x="103.2" y="679.4" font-size="13.5" fill="#111" text-anchor="start" stroke="#111" stroke-width="0.15" textLength="385.7" lengthAdjust="spacingAndGlyphs" >true micro-avoidance in the simulation (before adding GPS error)</text>
<text transform="translate(53,683.1) rotate(-90)" font-size="13.5" fill="#111" stroke="#111" stroke-width="0.15" textLength="340.6" lengthAdjust="spacingAndGlyphs">observed micro-avoidance after adding spatial GPS error</text>
<text x="60.8" y="352.0" font-size="16" fill="#000" text-anchor="start" font-weight="bold" textLength="19.8" lengthAdjust="spacingAndGlyphs" >(c)</text>
</svg></body></html>
